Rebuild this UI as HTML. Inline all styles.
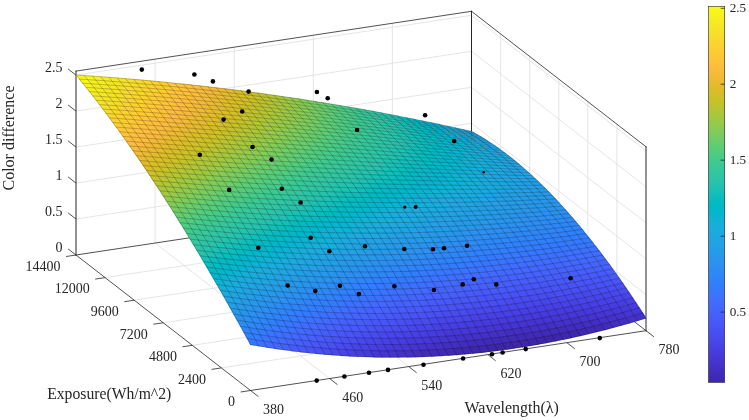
<!DOCTYPE html><html><head><meta charset="utf-8"><style>html,body{margin:0;padding:0;background:#fff;}body{width:749px;height:420px;overflow:hidden;}svg{display:block;will-change:transform;}</style></head><body><svg width="749" height="420" viewBox="0 0 749 420" font-family="'Liberation Serif', serif"><g><line x1="155.1" y1="243" x2="155.1" y2="59.1" stroke="#dedede" stroke-width="0.8"/><line x1="329.6" y1="378.5" x2="155.1" y2="243" stroke="#dedede" stroke-width="0.8"/><line x1="234.2" y1="231.1" x2="234.2" y2="47.2" stroke="#dedede" stroke-width="0.8"/><line x1="408.7" y1="366.6" x2="234.2" y2="231.1" stroke="#dedede" stroke-width="0.8"/><line x1="313.3" y1="219.1" x2="313.3" y2="35.2" stroke="#dedede" stroke-width="0.8"/><line x1="487.8" y1="354.6" x2="313.3" y2="219.1" stroke="#dedede" stroke-width="0.8"/><line x1="392.4" y1="207.2" x2="392.4" y2="23.3" stroke="#dedede" stroke-width="0.8"/><line x1="566.9" y1="342.7" x2="392.4" y2="207.2" stroke="#dedede" stroke-width="0.8"/><line x1="76" y1="219" x2="471.5" y2="159.2" stroke="#dedede" stroke-width="0.8"/><line x1="471.5" y1="159.2" x2="646" y2="294.7" stroke="#dedede" stroke-width="0.8"/><line x1="76" y1="183.1" x2="471.5" y2="123.2" stroke="#dedede" stroke-width="0.8"/><line x1="471.5" y1="123.2" x2="646" y2="258.8" stroke="#dedede" stroke-width="0.8"/><line x1="76" y1="147.1" x2="471.5" y2="87.3" stroke="#dedede" stroke-width="0.8"/><line x1="471.5" y1="87.3" x2="646" y2="222.8" stroke="#dedede" stroke-width="0.8"/><line x1="76" y1="111.1" x2="471.5" y2="51.3" stroke="#dedede" stroke-width="0.8"/><line x1="471.5" y1="51.3" x2="646" y2="186.8" stroke="#dedede" stroke-width="0.8"/><line x1="76" y1="75.1" x2="471.5" y2="15.3" stroke="#dedede" stroke-width="0.8"/><line x1="471.5" y1="15.3" x2="646" y2="150.8" stroke="#dedede" stroke-width="0.8"/><line x1="616.9" y1="308.1" x2="616.9" y2="124.2" stroke="#dedede" stroke-width="0.8"/><line x1="221.4" y1="367.9" x2="616.9" y2="308.1" stroke="#dedede" stroke-width="0.8"/><line x1="587.8" y1="285.5" x2="587.8" y2="101.6" stroke="#dedede" stroke-width="0.8"/><line x1="192.3" y1="345.3" x2="587.8" y2="285.5" stroke="#dedede" stroke-width="0.8"/><line x1="558.8" y1="262.9" x2="558.8" y2="79" stroke="#dedede" stroke-width="0.8"/><line x1="163.2" y1="322.8" x2="558.8" y2="262.9" stroke="#dedede" stroke-width="0.8"/><line x1="529.7" y1="240.4" x2="529.7" y2="56.5" stroke="#dedede" stroke-width="0.8"/><line x1="134.2" y1="300.2" x2="529.7" y2="240.4" stroke="#dedede" stroke-width="0.8"/><line x1="500.6" y1="217.8" x2="500.6" y2="33.9" stroke="#dedede" stroke-width="0.8"/><line x1="105.1" y1="277.6" x2="500.6" y2="217.8" stroke="#dedede" stroke-width="0.8"/></g><g stroke-linecap="square"><line x1="250.5" y1="390.5" x2="646" y2="330.7" stroke="#262626" stroke-width="0.8"/><line x1="646" y1="330.7" x2="471.5" y2="195.2" stroke="#262626" stroke-width="0.8"/><line x1="471.5" y1="195.2" x2="76" y2="255" stroke="#262626" stroke-width="0.8"/><line x1="76" y1="255" x2="250.5" y2="390.5" stroke="#262626" stroke-width="0.8"/><line x1="76" y1="255" x2="76" y2="71.1" stroke="#262626" stroke-width="1.0"/><line x1="471.5" y1="195.2" x2="471.5" y2="11.3" stroke="#262626" stroke-width="1.0"/><line x1="646" y1="330.7" x2="646" y2="146.8" stroke="#262626" stroke-width="1.0"/><line x1="76" y1="71.1" x2="471.5" y2="11.3" stroke="#262626" stroke-width="0.8"/><line x1="471.5" y1="11.3" x2="646" y2="146.8" stroke="#262626" stroke-width="0.8"/></g><g><line x1="250.5" y1="390.5" x2="258.4" y2="396.6" stroke="#262626" stroke-width="0.8"/><line x1="329.6" y1="378.5" x2="337.5" y2="384.7" stroke="#262626" stroke-width="0.8"/><line x1="408.7" y1="366.6" x2="416.6" y2="372.7" stroke="#262626" stroke-width="0.8"/><line x1="487.8" y1="354.6" x2="495.7" y2="360.8" stroke="#262626" stroke-width="0.8"/><line x1="566.9" y1="342.7" x2="574.8" y2="348.8" stroke="#262626" stroke-width="0.8"/><line x1="646" y1="330.7" x2="653.9" y2="336.8" stroke="#262626" stroke-width="0.8"/><line x1="250.5" y1="390.5" x2="240.6" y2="392" stroke="#262626" stroke-width="0.8"/><line x1="221.4" y1="367.9" x2="211.5" y2="369.4" stroke="#262626" stroke-width="0.8"/><line x1="192.3" y1="345.3" x2="182.4" y2="346.8" stroke="#262626" stroke-width="0.8"/><line x1="163.2" y1="322.8" x2="153.4" y2="324.2" stroke="#262626" stroke-width="0.8"/><line x1="134.2" y1="300.2" x2="124.3" y2="301.7" stroke="#262626" stroke-width="0.8"/><line x1="105.1" y1="277.6" x2="95.2" y2="279.1" stroke="#262626" stroke-width="0.8"/><line x1="76" y1="255" x2="66.1" y2="256.5" stroke="#262626" stroke-width="0.8"/><line x1="76" y1="255" x2="68.1" y2="248.9" stroke="#262626" stroke-width="0.8"/><line x1="76" y1="219" x2="68.1" y2="212.9" stroke="#262626" stroke-width="0.8"/><line x1="76" y1="183.1" x2="68.1" y2="176.9" stroke="#262626" stroke-width="0.8"/><line x1="76" y1="147.1" x2="68.1" y2="140.9" stroke="#262626" stroke-width="0.8"/><line x1="76" y1="111.1" x2="68.1" y2="105" stroke="#262626" stroke-width="0.8"/><line x1="76" y1="75.1" x2="68.1" y2="69" stroke="#262626" stroke-width="0.8"/></g><g stroke="none"><path d="M79 79.3 88 79.8 84.6 75.2 75.6 74.8Z" fill="#f8f818"/><path d="M87.2 79.9 96.3 80.3 92.8 75.8 83.8 75.3Z" fill="#f7f51b"/><path d="M95.5 80.4 104.5 80.9 101.1 76.4 92.1 75.9Z" fill="#f6f11f"/><path d="M103.7 81 112.7 81.5 109.3 77 100.3 76.5Z" fill="#f5ee21"/><path d="M111.9 81.6 121 82.2 117.6 77.7 108.5 77.1Z" fill="#f5e924"/><path d="M120.2 82.3 129.2 82.8 125.8 78.3 116.8 77.7Z" fill="#f5e526"/><path d="M128.4 82.9 137.4 83.5 134 79 125 78.4Z" fill="#f6e028"/><path d="M136.7 83.6 145.7 84.2 142.3 79.7 133.3 79.1Z" fill="#f7dd2a"/><path d="M144.9 84.3 153.9 85 150.5 80.5 141.5 79.8Z" fill="#f9d82c"/><path d="M153.1 85 162.2 85.7 158.8 81.3 149.7 80.6Z" fill="#fbd32e"/><path d="M161.4 85.8 170.4 86.5 167 82.1 158 81.4Z" fill="#fdce31"/><path d="M169.6 86.6 178.6 87.3 175.3 82.9 166.2 82.2Z" fill="#feca33"/><path d="M177.9 87.4 186.9 88.1 183.5 83.8 174.5 83Z" fill="#fec537"/><path d="M186.1 88.2 195.1 89 191.7 84.6 182.7 83.8Z" fill="#fec13a"/><path d="M194.3 89.1 203.4 89.9 200 85.6 190.9 84.7Z" fill="#febd3d"/><path d="M202.6 89.9 211.6 90.8 208.2 86.5 199.2 85.6Z" fill="#f9ba3e"/><path d="M210.8 90.8 219.8 91.7 216.5 87.5 207.4 86.6Z" fill="#f3ba39"/><path d="M219 91.8 228.1 92.7 224.7 88.5 215.7 87.5Z" fill="#ecba32"/><path d="M227.3 92.7 236.3 93.7 232.9 89.5 223.9 88.5Z" fill="#e6bb2d"/><path d="M235.5 93.7 244.6 94.7 241.2 90.5 232.1 89.5Z" fill="#dbbd28"/><path d="M243.8 94.7 252.8 95.7 249.4 91.6 240.4 90.6Z" fill="#d3bf27"/><path d="M252 95.7 261 96.8 257.7 92.7 248.6 91.6Z" fill="#cbc128"/><path d="M260.2 96.8 269.3 97.8 265.9 93.8 256.9 92.7Z" fill="#c2c32c"/><path d="M268.5 97.9 277.5 98.9 274.2 95 265.1 93.9Z" fill="#b5c533"/><path d="M276.7 99 285.8 100.1 282.4 96.2 273.3 95Z" fill="#abc739"/><path d="M284.9 100.1 294 101.2 290.6 97.4 281.6 96.2Z" fill="#9dc943"/><path d="M293.2 101.3 302.2 102.4 298.9 98.6 289.8 97.4Z" fill="#93ca4b"/><path d="M301.4 102.4 310.5 103.6 307.1 99.9 298.1 98.6Z" fill="#84cc56"/><path d="M309.7 103.6 318.7 104.9 315.4 101.2 306.3 99.9Z" fill="#79cc5e"/><path d="M317.9 104.9 327 106.1 323.6 102.5 314.5 101.2Z" fill="#6bcd69"/><path d="M326.1 106.1 335.2 107.4 331.8 103.9 322.8 102.5Z" fill="#61cd72"/><path d="M334.4 107.4 343.4 108.7 340.1 105.3 331 103.9Z" fill="#54cc7c"/><path d="M342.6 108.7 351.7 110.1 348.3 106.7 339.2 105.3Z" fill="#48cb86"/><path d="M350.8 110 359.9 111.4 356.6 108.1 347.5 106.7Z" fill="#40ca8d"/><path d="M359.1 111.4 368.2 112.8 364.8 109.6 355.7 108.1Z" fill="#38c896"/><path d="M367.3 112.8 376.4 114.2 373.1 111.1 364 109.6Z" fill="#32c69f"/><path d="M375.5 114.2 384.6 115.7 381.3 112.6 372.2 111.1Z" fill="#2cc4a6"/><path d="M383.8 115.6 392.9 117.2 389.5 114.2 380.4 112.6Z" fill="#25c2ae"/><path d="M392 117.1 401.1 118.6 397.8 115.8 388.7 114.1Z" fill="#1ac0b5"/><path d="M400.3 118.6 409.4 120.2 406 117.4 396.9 115.7Z" fill="#10beba"/><path d="M408.5 120.1 417.6 121.7 414.3 119 405.2 117.3Z" fill="#04bbc1"/><path d="M416.7 121.7 425.8 123.3 422.5 120.7 413.4 118.9Z" fill="#00b9c7"/><path d="M425 123.2 434.1 124.9 430.7 122.4 421.6 120.6Z" fill="#06b5cf"/><path d="M433.2 124.8 442.3 126.5 439 124.1 429.9 122.3Z" fill="#10b2d5"/><path d="M441.4 126.4 450.6 128.2 447.2 125.9 438.1 124Z" fill="#17aeda"/><path d="M449.7 128.1 458.8 129.9 455.5 127.7 446.4 125.8Z" fill="#1caadf"/><path d="M457.9 129.8 467 131.6 463.7 129.5 454.6 127.6Z" fill="#1fa6e2"/><path d="M466.2 131.5 475.3 133.3 471.9 131.3 462.8 129.4Z" fill="#23a0e5"/><path d="M82.3 83.5 91.4 83.9 88 79.3 78.9 78.9Z" fill="#f7f51b"/><path d="M90.6 84 99.6 84.5 96.2 79.9 87.2 79.4Z" fill="#f6f21e"/><path d="M98.8 84.6 107.8 85.1 104.4 80.5 95.4 80Z" fill="#f5ee21"/><path d="M107.1 85.2 116.1 85.7 112.7 81.1 103.7 80.6Z" fill="#f5e924"/><path d="M115.3 85.8 124.3 86.3 120.9 81.7 111.9 81.2Z" fill="#f5e626"/><path d="M123.5 86.4 132.6 87 129.2 82.4 120.1 81.8Z" fill="#f5e128"/><path d="M131.8 87 140.8 87.6 137.4 83.1 128.4 82.5Z" fill="#f7dd2a"/><path d="M140 87.7 149 88.3 145.6 83.8 136.6 83.2Z" fill="#f9d82c"/><path d="M148.3 88.4 157.3 89.1 153.9 84.5 144.9 83.9Z" fill="#fad52e"/><path d="M156.5 89.1 165.5 89.8 162.1 85.3 153.1 84.6Z" fill="#fcd030"/><path d="M164.7 89.9 173.8 90.6 170.4 86.1 161.3 85.4Z" fill="#fdcb32"/><path d="M173 90.6 182 91.4 178.6 86.9 169.6 86.2Z" fill="#fec735"/><path d="M181.2 91.4 190.2 92.2 186.8 87.7 177.8 87Z" fill="#fec239"/><path d="M189.4 92.2 198.5 93 195.1 88.6 186.1 87.8Z" fill="#febe3c"/><path d="M197.7 93.1 206.7 93.9 203.3 89.5 194.3 88.7Z" fill="#fbbb3e"/><path d="M205.9 93.9 215 94.7 211.6 90.4 202.5 89.5Z" fill="#f5ba3b"/><path d="M214.2 94.8 223.2 95.6 219.8 91.3 210.8 90.4Z" fill="#efba35"/><path d="M222.4 95.7 231.4 96.6 228.1 92.3 219 91.4Z" fill="#e8bb2e"/><path d="M230.6 96.6 239.7 97.5 236.3 93.3 227.3 92.3Z" fill="#e1bc2a"/><path d="M238.9 97.6 247.9 98.5 244.5 94.3 235.5 93.3Z" fill="#d9be28"/><path d="M247.1 98.5 256.2 99.5 252.8 95.3 243.7 94.3Z" fill="#cec027"/><path d="M255.4 99.5 264.4 100.5 261 96.4 252 95.4Z" fill="#c5c22a"/><path d="M263.6 100.5 272.6 101.5 269.3 97.4 260.2 96.4Z" fill="#bbc42f"/><path d="M271.8 101.6 280.9 102.6 277.5 98.6 268.5 97.5Z" fill="#b2c635"/><path d="M280.1 102.6 289.1 103.7 285.7 99.7 276.7 98.6Z" fill="#a4c83e"/><path d="M288.3 103.7 297.4 104.8 294 100.9 284.9 99.7Z" fill="#9ac946"/><path d="M296.5 104.8 305.6 105.9 302.2 102.1 293.2 100.9Z" fill="#8fcb4e"/><path d="M304.8 105.9 313.8 107.1 310.5 103.3 301.4 102.1Z" fill="#81cc59"/><path d="M313 107.1 322.1 108.2 318.7 104.5 309.6 103.3Z" fill="#76cc61"/><path d="M321.2 108.3 330.3 109.4 327 105.8 317.9 104.5Z" fill="#67cd6c"/><path d="M329.5 109.5 338.6 110.7 335.2 107.1 326.1 105.8Z" fill="#5ecd74"/><path d="M337.7 110.7 346.8 111.9 343.4 108.4 334.4 107.1Z" fill="#51cc7f"/><path d="M346 111.9 355 113.2 351.7 109.7 342.6 108.4Z" fill="#48cb86"/><path d="M354.2 113.2 363.3 114.5 359.9 111.1 350.8 109.7Z" fill="#3dca90"/><path d="M362.4 114.5 371.5 115.8 368.2 112.5 359.1 111.1Z" fill="#36c899"/><path d="M370.7 115.8 379.8 117.2 376.4 113.9 367.3 112.5Z" fill="#32c69f"/><path d="M378.9 117.2 388 118.5 384.7 115.4 375.6 113.9Z" fill="#2cc4a6"/><path d="M387.1 118.5 396.2 119.9 392.9 116.9 383.8 115.4Z" fill="#25c2ae"/><path d="M395.4 119.9 404.5 121.4 401.1 118.4 392 116.8Z" fill="#1ac0b5"/><path d="M403.6 121.3 412.7 122.8 409.4 119.9 400.3 118.3Z" fill="#0dbdbc"/><path d="M411.9 122.8 421 124.3 417.6 121.5 408.5 119.9Z" fill="#02bbc2"/><path d="M420.1 124.2 429.2 125.8 425.9 123.1 416.8 121.4Z" fill="#00b9c7"/><path d="M428.3 125.7 437.4 127.3 434.1 124.7 425 123Z" fill="#04b6ce"/><path d="M436.6 127.2 445.7 128.8 442.3 126.3 433.2 124.6Z" fill="#0eb3d4"/><path d="M444.8 128.8 453.9 130.4 450.6 128 441.5 126.3Z" fill="#16afd9"/><path d="M453 130.3 462.2 132 458.8 129.7 449.7 127.9Z" fill="#1babde"/><path d="M461.3 131.9 470.4 133.6 467.1 131.4 457.9 129.6Z" fill="#1fa6e2"/><path d="M469.5 133.5 478.6 135.3 475.3 133.2 466.2 131.3Z" fill="#23a1e4"/><path d="M85.7 87.6 94.7 88.1 91.3 83.5 82.3 83Z" fill="#f6f21e"/><path d="M93.9 88.2 103 88.7 99.6 84 90.5 83.6Z" fill="#f5ee21"/><path d="M102.2 88.8 111.2 89.2 107.8 84.6 98.8 84.1Z" fill="#f5eb23"/><path d="M110.4 89.3 119.4 89.9 116 85.2 107 84.7Z" fill="#f5e626"/><path d="M118.7 89.9 127.7 90.5 124.3 85.9 115.3 85.3Z" fill="#f5e128"/><path d="M126.9 90.6 135.9 91.1 132.5 86.5 123.5 86Z" fill="#f6de29"/><path d="M135.1 91.2 144.2 91.8 140.8 87.2 131.7 86.6Z" fill="#f8d92b"/><path d="M143.4 91.9 152.4 92.5 149 87.9 140 87.3Z" fill="#fad52e"/><path d="M151.6 92.6 160.6 93.2 157.2 88.6 148.2 88Z" fill="#fcd030"/><path d="M159.9 93.3 168.9 93.9 165.5 89.4 156.5 88.7Z" fill="#fdcd31"/><path d="M168.1 94 177.1 94.7 173.7 90.1 164.7 89.5Z" fill="#fec834"/><path d="M176.3 94.8 185.4 95.5 182 90.9 172.9 90.2Z" fill="#fec438"/><path d="M184.6 95.5 193.6 96.2 190.2 91.7 181.2 91Z" fill="#fec03b"/><path d="M192.8 96.3 201.8 97.1 198.4 92.6 189.4 91.8Z" fill="#fcbc3e"/><path d="M201 97.1 210.1 97.9 206.7 93.4 197.7 92.7Z" fill="#f7ba3d"/><path d="M209.3 98 218.3 98.7 214.9 94.3 205.9 93.5Z" fill="#f1ba37"/><path d="M217.5 98.8 226.6 99.6 223.2 95.2 214.1 94.4Z" fill="#eaba30"/><path d="M225.8 99.7 234.8 100.5 231.4 96.1 222.4 95.3Z" fill="#e3bc2b"/><path d="M234 100.6 243 101.4 239.6 97.1 230.6 96.2Z" fill="#dbbd28"/><path d="M242.2 101.5 251.3 102.3 247.9 98.1 238.8 97.2Z" fill="#d3bf27"/><path d="M250.5 102.4 259.5 103.3 256.1 99.1 247.1 98.1Z" fill="#cbc128"/><path d="M258.7 103.4 267.8 104.3 264.4 100.1 255.3 99.1Z" fill="#bec32d"/><path d="M266.9 104.3 276 105.3 272.6 101.1 263.6 100.1Z" fill="#b5c533"/><path d="M275.2 105.3 284.2 106.3 280.9 102.2 271.8 101.2Z" fill="#abc739"/><path d="M283.4 106.3 292.5 107.3 289.1 103.3 280 102.2Z" fill="#a1c840"/><path d="M291.7 107.4 300.7 108.4 297.3 104.4 288.3 103.3Z" fill="#96ca48"/><path d="M299.9 108.4 309 109.5 305.6 105.5 296.5 104.4Z" fill="#88cb53"/><path d="M308.1 109.5 317.2 110.6 313.8 106.7 304.8 105.6Z" fill="#7dcc5b"/><path d="M316.4 110.6 325.4 111.7 322.1 107.9 313 106.7Z" fill="#6ecd66"/><path d="M324.6 111.7 333.7 112.8 330.3 109.1 321.2 107.9Z" fill="#64cd6f"/><path d="M332.8 112.9 341.9 114 338.6 110.3 329.5 109.1Z" fill="#5acc77"/><path d="M341.1 114 350.2 115.2 346.8 111.6 337.7 110.3Z" fill="#4ecc81"/><path d="M349.3 115.2 358.4 116.4 355 112.9 346 111.6Z" fill="#45cb89"/><path d="M357.6 116.4 366.6 117.6 363.3 114.2 354.2 112.9Z" fill="#3bc992"/><path d="M365.8 117.6 374.9 118.9 371.5 115.5 362.4 114.2Z" fill="#35c79b"/><path d="M374 118.9 383.1 120.2 379.8 116.9 370.7 115.5Z" fill="#31c5a1"/><path d="M382.3 120.2 391.4 121.5 388 118.2 378.9 116.9Z" fill="#2bc3a8"/><path d="M390.5 121.5 399.6 122.8 396.2 119.7 387.2 118.2Z" fill="#25c2ae"/><path d="M398.7 122.8 407.8 124.1 404.5 121.1 395.4 119.6Z" fill="#1ac0b5"/><path d="M407 124.1 416.1 125.5 412.7 122.5 403.6 121.1Z" fill="#0dbdbc"/><path d="M415.2 125.5 424.3 126.9 421 124 411.9 122.5Z" fill="#02bbc2"/><path d="M423.5 126.9 432.6 128.3 429.2 125.5 420.1 124Z" fill="#00b9c7"/><path d="M431.7 128.3 440.8 129.7 437.5 127.1 428.3 125.5Z" fill="#04b6ce"/><path d="M439.9 129.7 449 131.2 445.7 128.6 436.6 127Z" fill="#0eb3d4"/><path d="M448.2 131.1 457.3 132.7 453.9 130.2 444.8 128.5Z" fill="#16afd9"/><path d="M456.4 132.6 465.5 134.2 462.2 131.8 453.1 130.1Z" fill="#1babde"/><path d="M464.6 134.1 473.8 135.7 470.4 133.4 461.3 131.7Z" fill="#1ea7e1"/><path d="M472.9 135.6 482 137.3 478.7 135.1 469.5 133.3Z" fill="#22a2e4"/><path d="M89.1 91.9 98.1 92.3 94.7 87.6 85.7 87.2Z" fill="#f6ef20"/><path d="M97.3 92.4 106.3 92.9 102.9 88.2 93.9 87.7Z" fill="#f5eb23"/><path d="M105.5 93 114.6 93.5 111.1 88.8 102.1 88.3Z" fill="#f5e626"/><path d="M113.8 93.6 122.8 94.1 119.4 89.4 110.4 88.9Z" fill="#f5e327"/><path d="M122 94.2 131 94.7 127.6 90 118.6 89.5Z" fill="#f6de29"/><path d="M130.3 94.8 139.3 95.4 135.9 90.7 126.9 90.1Z" fill="#f8d92b"/><path d="M138.5 95.5 147.5 96 144.1 91.4 135.1 90.8Z" fill="#f9d62d"/><path d="M146.7 96.1 155.8 96.7 152.3 92.1 143.3 91.5Z" fill="#fbd22f"/><path d="M155 96.8 164 97.4 160.6 92.8 151.6 92.1Z" fill="#fdcd31"/><path d="M163.2 97.5 172.2 98.1 168.8 93.5 159.8 92.9Z" fill="#fec834"/><path d="M171.5 98.2 180.5 98.9 177.1 94.2 168 93.6Z" fill="#fec438"/><path d="M179.7 98.9 188.7 99.6 185.3 95 176.3 94.3Z" fill="#fec13a"/><path d="M187.9 99.7 197 100.4 193.6 95.8 184.5 95.1Z" fill="#febd3d"/><path d="M196.2 100.4 205.2 101.2 201.8 96.6 192.8 95.9Z" fill="#f9ba3e"/><path d="M204.4 101.2 213.4 102 210 97.5 201 96.7Z" fill="#f3ba39"/><path d="M212.6 102 221.7 102.8 218.3 98.3 209.2 97.5Z" fill="#ecba32"/><path d="M220.9 102.9 229.9 103.6 226.5 99.2 217.5 98.4Z" fill="#e6bb2d"/><path d="M229.1 103.7 238.2 104.5 234.8 100.1 225.7 99.3Z" fill="#debc29"/><path d="M237.4 104.6 246.4 105.4 243 101 234 100.1Z" fill="#d6be27"/><path d="M245.6 105.4 254.6 106.3 251.2 101.9 242.2 101.1Z" fill="#cec027"/><path d="M253.8 106.3 262.9 107.2 259.5 102.9 250.4 102Z" fill="#c5c22a"/><path d="M262.1 107.2 271.1 108.1 267.7 103.9 258.7 103Z" fill="#bbc42f"/><path d="M270.3 108.2 279.3 109.1 276 104.9 266.9 103.9Z" fill="#b2c635"/><path d="M278.5 109.1 287.6 110.1 284.2 105.9 275.2 104.9Z" fill="#a4c83e"/><path d="M286.8 110.1 295.8 111 292.5 106.9 283.4 105.9Z" fill="#9ac946"/><path d="M295 111.1 304.1 112.1 300.7 108 291.6 107Z" fill="#8fcb4e"/><path d="M303.3 112.1 312.3 113.1 308.9 109.1 299.9 108Z" fill="#84cc56"/><path d="M311.5 113.1 320.5 114.1 317.2 110.2 308.1 109.1Z" fill="#76cc61"/><path d="M319.7 114.2 328.8 115.2 325.4 111.3 316.4 110.2Z" fill="#6bcd69"/><path d="M328 115.2 337 116.3 333.7 112.5 324.6 111.4Z" fill="#61cd72"/><path d="M336.2 116.3 345.3 117.4 341.9 113.7 332.8 112.5Z" fill="#54cc7c"/><path d="M344.4 117.4 353.5 118.5 350.1 114.9 341.1 113.7Z" fill="#4bcb84"/><path d="M352.7 118.6 361.7 119.7 358.4 116.1 349.3 114.9Z" fill="#42ca8b"/><path d="M360.9 119.7 370 120.8 366.6 117.3 357.6 116.1Z" fill="#39c994"/><path d="M369.2 120.9 378.2 122 374.9 118.6 365.8 117.3Z" fill="#35c79b"/><path d="M377.4 122 386.5 123.2 383.1 119.9 374 118.6Z" fill="#2fc5a3"/><path d="M385.6 123.2 394.7 124.5 391.4 121.2 382.3 119.9Z" fill="#2bc3a8"/><path d="M393.9 124.5 403 125.7 399.6 122.5 390.5 121.2Z" fill="#23c1af"/><path d="M402.1 125.7 411.2 127 407.8 123.9 398.7 122.5Z" fill="#17bfb6"/><path d="M410.3 127 419.4 128.3 416.1 125.2 407 123.8Z" fill="#0dbdbc"/><path d="M418.6 128.3 427.7 129.6 424.3 126.6 415.2 125.2Z" fill="#02bbc2"/><path d="M426.8 129.6 435.9 130.9 432.6 128.1 423.5 126.6Z" fill="#00b8c9"/><path d="M435 130.9 444.2 132.3 440.8 129.5 431.7 128Z" fill="#04b6ce"/><path d="M443.3 132.2 452.4 133.6 449 131 439.9 129.5Z" fill="#0eb3d4"/><path d="M451.5 133.6 460.6 135 457.3 132.5 448.2 130.9Z" fill="#16afd9"/><path d="M459.8 135 468.9 136.4 465.5 134 456.4 132.4Z" fill="#1babde"/><path d="M468 136.4 477.1 137.9 473.8 135.5 464.7 133.9Z" fill="#1da8e1"/><path d="M476.2 137.8 485.4 139.3 482 137.1 472.9 135.4Z" fill="#21a3e3"/><path d="M92.4 96.1 101.4 96.6 98 91.9 89 91.4Z" fill="#f5eb23"/><path d="M100.7 96.7 109.7 97.2 106.3 92.4 97.2 92Z" fill="#f5e825"/><path d="M108.9 97.3 117.9 97.8 114.5 93 105.5 92.5Z" fill="#f5e327"/><path d="M117.1 97.9 126.2 98.4 122.7 93.6 113.7 93.1Z" fill="#f6de29"/><path d="M125.4 98.5 134.4 99 131 94.3 122 93.7Z" fill="#f7db2a"/><path d="M133.6 99.1 142.6 99.6 139.2 94.9 130.2 94.4Z" fill="#f9d62d"/><path d="M141.9 99.7 150.9 100.3 147.5 95.6 138.4 95Z" fill="#fbd22f"/><path d="M150.1 100.4 159.1 101 155.7 96.3 146.7 95.7Z" fill="#fdcd31"/><path d="M158.3 101.1 167.3 101.7 163.9 97 154.9 96.4Z" fill="#feca33"/><path d="M166.6 101.7 175.6 102.4 172.2 97.7 163.2 97.1Z" fill="#fec537"/><path d="M174.8 102.4 183.8 103.1 180.4 98.4 171.4 97.8Z" fill="#fec13a"/><path d="M183 103.2 192.1 103.8 188.7 99.2 179.6 98.5Z" fill="#febd3d"/><path d="M191.3 103.9 200.3 104.6 196.9 99.9 187.9 99.2Z" fill="#f9ba3e"/><path d="M199.5 104.6 208.5 105.3 205.1 100.7 196.1 100Z" fill="#f5ba3b"/><path d="M207.8 105.4 216.8 106.1 213.4 101.5 204.4 100.8Z" fill="#efba35"/><path d="M216 106.2 225 106.9 221.6 102.4 212.6 101.6Z" fill="#e8bb2e"/><path d="M224.2 107 233.3 107.7 229.9 103.2 220.8 102.4Z" fill="#e1bc2a"/><path d="M232.5 107.8 241.5 108.5 238.1 104.1 229.1 103.3Z" fill="#d9be28"/><path d="M240.7 108.6 249.7 109.4 246.4 105 237.3 104.1Z" fill="#d0bf27"/><path d="M249 109.5 258 110.3 254.6 105.9 245.6 105Z" fill="#c8c129"/><path d="M257.2 110.3 266.2 111.1 262.8 106.8 253.8 105.9Z" fill="#bec32d"/><path d="M265.4 111.2 274.5 112 271.1 107.7 262 106.8Z" fill="#b5c533"/><path d="M273.7 112.1 282.7 112.9 279.3 108.7 270.3 107.8Z" fill="#abc739"/><path d="M281.9 113 290.9 113.9 287.6 109.7 278.5 108.7Z" fill="#a1c840"/><path d="M290.1 113.9 299.2 114.8 295.8 110.6 286.8 109.7Z" fill="#93ca4b"/><path d="M298.4 114.9 307.4 115.8 304 111.7 295 110.7Z" fill="#88cb53"/><path d="M306.6 115.8 315.7 116.8 312.3 112.7 303.2 111.7Z" fill="#7dcc5b"/><path d="M314.9 116.8 323.9 117.8 320.5 113.8 311.5 112.7Z" fill="#72cd64"/><path d="M323.1 117.8 332.1 118.8 328.8 114.8 319.7 113.8Z" fill="#67cd6c"/><path d="M331.3 118.8 340.4 119.8 337 115.9 328 114.9Z" fill="#5acc77"/><path d="M339.6 119.8 348.6 120.9 345.3 117 336.2 116Z" fill="#51cc7f"/><path d="M347.8 120.9 356.9 121.9 353.5 118.2 344.4 117.1Z" fill="#48cb86"/><path d="M356 122 365.1 123 361.7 119.3 352.7 118.2Z" fill="#3dca90"/><path d="M364.3 123 373.3 124.1 370 120.5 360.9 119.4Z" fill="#38c896"/><path d="M372.5 124.1 381.6 125.2 378.2 121.7 369.1 120.5Z" fill="#33c79d"/><path d="M380.7 125.3 389.8 126.4 386.5 122.9 377.4 121.7Z" fill="#2ec4a5"/><path d="M389 126.4 398.1 127.5 394.7 124.2 385.6 122.9Z" fill="#29c3aa"/><path d="M397.2 127.5 406.3 128.7 403 125.4 393.9 124.2Z" fill="#20c1b1"/><path d="M405.5 128.7 414.5 129.9 411.2 126.7 402.1 125.4Z" fill="#17bfb6"/><path d="M413.7 129.9 422.8 131.1 419.4 128 410.3 126.7Z" fill="#09bdbd"/><path d="M421.9 131.1 431 132.3 427.7 129.3 418.6 128Z" fill="#02bbc2"/><path d="M430.2 132.3 439.3 133.6 435.9 130.6 426.8 129.3Z" fill="#00b8c9"/><path d="M438.4 133.6 447.5 134.9 444.2 132 435.1 130.6Z" fill="#04b6ce"/><path d="M446.6 134.8 455.7 136.1 452.4 133.4 443.3 132Z" fill="#0eb3d4"/><path d="M454.9 136.1 464 137.4 460.6 134.8 451.5 133.4Z" fill="#16afd9"/><path d="M463.1 137.4 472.2 138.8 468.9 136.2 459.8 134.7Z" fill="#1aacdd"/><path d="M471.4 138.7 480.5 140.1 477.1 137.7 468 136.2Z" fill="#1da8e1"/><path d="M479.6 140 488.7 141.5 485.4 139.1 476.3 137.6Z" fill="#21a3e3"/><path d="M95.8 100.5 104.8 100.9 101.4 96.2 92.4 95.7Z" fill="#f5e825"/><path d="M104 101 113 101.5 109.6 96.7 100.6 96.3Z" fill="#f5e327"/><path d="M112.3 101.6 121.3 102.1 117.9 97.3 108.8 96.8Z" fill="#f6de29"/><path d="M120.5 102.2 129.5 102.7 126.1 97.9 117.1 97.4Z" fill="#f7db2a"/><path d="M128.7 102.8 137.7 103.3 134.3 98.6 125.3 98Z" fill="#f9d62d"/><path d="M137 103.4 146 104 142.6 99.2 133.6 98.7Z" fill="#fbd22f"/><path d="M145.2 104.1 154.2 104.6 150.8 99.9 141.8 99.3Z" fill="#fdce31"/><path d="M153.5 104.7 162.5 105.3 159.1 100.5 150 99.9Z" fill="#feca33"/><path d="M161.7 105.4 170.7 106 167.3 101.2 158.3 100.6Z" fill="#fec537"/><path d="M169.9 106 178.9 106.6 175.5 101.9 166.5 101.3Z" fill="#fec13a"/><path d="M178.2 106.7 187.2 107.3 183.8 102.6 174.8 102Z" fill="#febe3c"/><path d="M186.4 107.4 195.4 108.1 192 103.4 183 102.7Z" fill="#fbbb3e"/><path d="M194.6 108.1 203.7 108.8 200.3 104.1 191.2 103.5Z" fill="#f5ba3b"/><path d="M202.9 108.9 211.9 109.5 208.5 104.9 199.5 104.2Z" fill="#efba35"/><path d="M211.1 109.6 220.1 110.3 216.7 105.7 207.7 105Z" fill="#e8bb2e"/><path d="M219.4 110.4 228.4 111.1 225 106.5 216 105.7Z" fill="#e1bc2a"/><path d="M227.6 111.1 236.6 111.9 233.2 107.3 224.2 106.5Z" fill="#dbbd28"/><path d="M235.8 111.9 244.9 112.7 241.5 108.1 232.4 107.4Z" fill="#d3bf27"/><path d="M244.1 112.7 253.1 113.5 249.7 109 240.7 108.2Z" fill="#cbc128"/><path d="M252.3 113.5 261.3 114.3 257.9 109.8 248.9 109Z" fill="#c2c32c"/><path d="M260.5 114.4 269.6 115.1 266.2 110.7 257.2 109.9Z" fill="#b8c431"/><path d="M268.8 115.2 277.8 116 274.4 111.6 265.4 110.8Z" fill="#aec637"/><path d="M277 116.1 286.1 116.9 282.7 112.5 273.6 111.7Z" fill="#a4c83e"/><path d="M285.3 116.9 294.3 117.8 290.9 113.5 281.9 112.6Z" fill="#9ac946"/><path d="M293.5 117.8 302.5 118.7 299.2 114.4 290.1 113.5Z" fill="#8fcb4e"/><path d="M301.7 118.7 310.8 119.6 307.4 115.4 298.4 114.5Z" fill="#81cc59"/><path d="M310 119.6 319 120.5 315.6 116.4 306.6 115.4Z" fill="#76cc61"/><path d="M318.2 120.6 327.3 121.5 323.9 117.4 314.8 116.4Z" fill="#6bcd69"/><path d="M326.4 121.5 335.5 122.4 332.1 118.4 323.1 117.4Z" fill="#61cd72"/><path d="M334.7 122.5 343.7 123.4 340.4 119.4 331.3 118.4Z" fill="#57cc7a"/><path d="M342.9 123.4 352 124.4 348.6 120.5 339.5 119.5Z" fill="#4ecc81"/><path d="M351.2 124.4 360.2 125.4 356.8 121.6 347.8 120.5Z" fill="#42ca8b"/><path d="M359.4 125.4 368.5 126.4 365.1 122.7 356 121.6Z" fill="#3bc992"/><path d="M367.6 126.5 376.7 127.5 373.3 123.8 364.3 122.7Z" fill="#36c899"/><path d="M375.9 127.5 384.9 128.5 381.6 124.9 372.5 123.8Z" fill="#32c69f"/><path d="M384.1 128.5 393.2 129.6 389.8 126 380.7 124.9Z" fill="#2cc4a6"/><path d="M392.3 129.6 401.4 130.7 398.1 127.2 389 126.1Z" fill="#27c2ac"/><path d="M400.6 130.7 409.7 131.8 406.3 128.4 397.2 127.2Z" fill="#20c1b1"/><path d="M408.8 131.8 417.9 132.9 414.5 129.6 405.5 128.4Z" fill="#14beb8"/><path d="M417.1 132.9 426.1 134 422.8 130.8 413.7 129.6Z" fill="#09bdbd"/><path d="M425.3 134 434.4 135.2 431 132.1 421.9 130.8Z" fill="#01bac4"/><path d="M433.5 135.2 442.6 136.3 439.3 133.3 430.2 132Z" fill="#00b8c9"/><path d="M441.8 136.3 450.9 137.5 447.5 134.6 438.4 133.3Z" fill="#06b5cf"/><path d="M450 137.5 459.1 138.7 455.8 135.9 446.7 134.6Z" fill="#0eb3d4"/><path d="M458.2 138.7 467.3 139.9 464 137.2 454.9 135.9Z" fill="#16afd9"/><path d="M466.5 139.9 475.6 141.2 472.2 138.5 463.1 137.2Z" fill="#1aacdd"/><path d="M474.7 141.1 483.8 142.4 480.5 139.9 471.4 138.5Z" fill="#1da8e1"/><path d="M483 142.4 492.1 143.7 488.7 141.3 479.6 139.8Z" fill="#20a5e3"/><path d="M99.1 104.8 108.1 105.3 104.7 100.5 95.7 100Z" fill="#f5e327"/><path d="M107.4 105.4 116.4 105.9 113 101.1 104 100.6Z" fill="#f6e028"/><path d="M115.6 106 124.6 106.5 121.2 101.7 112.2 101.2Z" fill="#f7db2a"/><path d="M123.9 106.6 132.9 107.1 129.4 102.3 120.4 101.8Z" fill="#f9d62d"/><path d="M132.1 107.2 141.1 107.7 137.7 102.9 128.7 102.4Z" fill="#fbd32e"/><path d="M140.3 107.8 149.3 108.3 145.9 103.5 136.9 103Z" fill="#fdce31"/><path d="M148.6 108.4 157.6 109 154.2 104.2 145.2 103.6Z" fill="#feca33"/><path d="M156.8 109.1 165.8 109.6 162.4 104.8 153.4 104.3Z" fill="#fec537"/><path d="M165 109.7 174.1 110.3 170.7 105.5 161.6 104.9Z" fill="#fec239"/><path d="M173.3 110.4 182.3 111 178.9 106.2 169.9 105.6Z" fill="#febe3c"/><path d="M181.5 111.1 190.5 111.7 187.1 106.9 178.1 106.3Z" fill="#fbbb3e"/><path d="M189.8 111.8 198.8 112.4 195.4 107.6 186.4 107Z" fill="#f5ba3b"/><path d="M198 112.5 207 113.1 203.6 108.3 194.6 107.7Z" fill="#f1ba37"/><path d="M206.2 113.2 215.3 113.8 211.9 109.1 202.8 108.4Z" fill="#eaba30"/><path d="M214.5 113.9 223.5 114.5 220.1 109.9 211.1 109.2Z" fill="#e3bc2b"/><path d="M222.7 114.6 231.7 115.3 228.3 110.6 219.3 109.9Z" fill="#dbbd28"/><path d="M231 115.4 240 116 236.6 111.4 227.6 110.7Z" fill="#d3bf27"/><path d="M239.2 116.1 248.2 116.8 244.8 112.2 235.8 111.5Z" fill="#cbc128"/><path d="M247.4 116.9 256.5 117.6 253.1 113 244 112.3Z" fill="#c2c32c"/><path d="M255.7 117.7 264.7 118.4 261.3 113.9 252.3 113.1Z" fill="#bbc42f"/><path d="M263.9 118.5 272.9 119.2 269.5 114.7 260.5 113.9Z" fill="#b2c635"/><path d="M272.1 119.3 281.2 120 277.8 115.6 268.8 114.8Z" fill="#a7c73b"/><path d="M280.4 120.1 289.4 120.9 286 116.5 277 115.6Z" fill="#9dc943"/><path d="M288.6 120.9 297.7 121.7 294.3 117.3 285.2 116.5Z" fill="#93ca4b"/><path d="M296.9 121.8 305.9 122.6 302.5 118.3 293.5 117.4Z" fill="#88cb53"/><path d="M305.1 122.6 314.1 123.4 310.7 119.2 301.7 118.3Z" fill="#7dcc5b"/><path d="M313.3 123.5 322.4 124.3 319 120.1 309.9 119.2Z" fill="#72cd64"/><path d="M321.6 124.4 330.6 125.2 327.2 121.1 318.2 120.2Z" fill="#64cd6f"/><path d="M329.8 125.3 338.9 126.1 335.5 122 326.4 121.1Z" fill="#5acc77"/><path d="M338 126.2 347.1 127 343.7 123 334.7 122.1Z" fill="#51cc7f"/><path d="M346.3 127.1 355.3 128 352 124 342.9 123.1Z" fill="#48cb86"/><path d="M354.5 128 363.6 128.9 360.2 125 351.1 124.1Z" fill="#40ca8d"/><path d="M362.8 129 371.8 129.9 368.4 126.1 359.4 125.1Z" fill="#39c994"/><path d="M371 129.9 380.1 130.9 376.7 127.1 367.6 126.1Z" fill="#35c79b"/><path d="M379.2 130.9 388.3 131.8 384.9 128.2 375.9 127.1Z" fill="#2fc5a3"/><path d="M387.5 131.9 396.5 132.8 393.2 129.2 384.1 128.2Z" fill="#2bc3a8"/><path d="M395.7 132.9 404.8 133.9 401.4 130.3 392.3 129.3Z" fill="#25c2ae"/><path d="M403.9 133.9 413 134.9 409.7 131.4 400.6 130.4Z" fill="#1dc0b3"/><path d="M412.2 134.9 421.3 135.9 417.9 132.6 408.8 131.5Z" fill="#10beba"/><path d="M420.4 136 429.5 137 426.1 133.7 417.1 132.6Z" fill="#06bcbf"/><path d="M428.7 137 437.7 138.1 434.4 134.9 425.3 133.7Z" fill="#01bac4"/><path d="M436.9 138.1 446 139.2 442.6 136 433.5 134.9Z" fill="#01b7ca"/><path d="M445.1 139.2 454.2 140.3 450.9 137.2 441.8 136Z" fill="#06b5cf"/><path d="M453.4 140.2 462.5 141.4 459.1 138.4 450 137.2Z" fill="#0eb3d4"/><path d="M461.6 141.4 470.7 142.5 467.3 139.7 458.2 138.4Z" fill="#16afd9"/><path d="M469.8 142.5 478.9 143.6 475.6 140.9 466.5 139.7Z" fill="#1aacdd"/><path d="M478.1 143.6 487.2 144.8 483.8 142.2 474.7 140.9Z" fill="#1da8e1"/><path d="M486.3 144.8 495.4 146 492.1 143.4 483 142.1Z" fill="#20a5e3"/><path d="M102.5 109.2 111.5 109.7 108.1 104.9 99.1 104.4Z" fill="#f6e028"/><path d="M110.7 109.8 119.7 110.3 116.3 105.4 107.3 105Z" fill="#f7db2a"/><path d="M119 110.4 128 110.9 124.6 106 115.6 105.5Z" fill="#f9d62d"/><path d="M127.2 111 136.2 111.5 132.8 106.6 123.8 106.1Z" fill="#fbd32e"/><path d="M135.4 111.6 144.5 112.1 141 107.3 132 106.7Z" fill="#fdce31"/><path d="M143.7 112.2 152.7 112.8 149.3 107.9 140.3 107.4Z" fill="#feca33"/><path d="M151.9 112.9 160.9 113.4 157.5 108.5 148.5 108Z" fill="#fec735"/><path d="M160.2 113.5 169.2 114.1 165.8 109.2 156.8 108.6Z" fill="#fec239"/><path d="M168.4 114.2 177.4 114.7 174 109.9 165 109.3Z" fill="#febe3c"/><path d="M176.6 114.8 185.7 115.4 182.2 110.5 173.2 109.9Z" fill="#fbbb3e"/><path d="M184.9 115.5 193.9 116 190.5 111.2 181.5 110.6Z" fill="#f7ba3d"/><path d="M193.1 116.1 202.1 116.7 198.7 111.9 189.7 111.3Z" fill="#f1ba37"/><path d="M201.4 116.8 210.4 117.4 207 112.6 198 112Z" fill="#eaba30"/><path d="M209.6 117.5 218.6 118.1 215.2 113.4 206.2 112.7Z" fill="#e3bc2b"/><path d="M217.8 118.2 226.9 118.8 223.4 114.1 214.4 113.4Z" fill="#dbbd28"/><path d="M226.1 118.9 235.1 119.6 231.7 114.8 222.7 114.2Z" fill="#d6be27"/><path d="M234.3 119.6 243.3 120.3 239.9 115.6 230.9 114.9Z" fill="#cec027"/><path d="M242.6 120.4 251.6 121 248.2 116.4 239.2 115.7Z" fill="#c5c22a"/><path d="M250.8 121.1 259.8 121.8 256.4 117.2 247.4 116.5Z" fill="#bbc42f"/><path d="M259 121.9 268.1 122.5 264.7 118 255.6 117.2Z" fill="#b2c635"/><path d="M267.3 122.6 276.3 123.3 272.9 118.8 263.9 118Z" fill="#a7c73b"/><path d="M275.5 123.4 284.5 124.1 281.1 119.6 272.1 118.8Z" fill="#9dc943"/><path d="M283.7 124.2 292.8 124.9 289.4 120.4 280.3 119.7Z" fill="#96ca48"/><path d="M292 125 301 125.7 297.6 121.3 288.6 120.5Z" fill="#8bcb51"/><path d="M300.2 125.8 309.3 126.5 305.9 122.1 296.8 121.4Z" fill="#81cc59"/><path d="M308.5 126.6 317.5 127.3 314.1 123 305.1 122.2Z" fill="#76cc61"/><path d="M316.7 127.4 325.7 128.2 322.3 123.9 313.3 123.1Z" fill="#6bcd69"/><path d="M324.9 128.2 334 129 330.6 124.8 321.5 124Z" fill="#61cd72"/><path d="M333.2 129.1 342.2 129.9 338.8 125.7 329.8 124.9Z" fill="#57cc7a"/><path d="M341.4 129.9 350.5 130.7 347.1 126.6 338 125.8Z" fill="#4ecc81"/><path d="M349.6 130.8 358.7 131.6 355.3 127.6 346.3 126.7Z" fill="#45cb89"/><path d="M357.9 131.7 366.9 132.5 363.6 128.5 354.5 127.6Z" fill="#3bc992"/><path d="M366.1 132.6 375.2 133.4 371.8 129.5 362.7 128.6Z" fill="#36c899"/><path d="M374.4 133.5 383.4 134.3 380 130.5 371 129.6Z" fill="#32c69f"/><path d="M382.6 134.4 391.7 135.2 388.3 131.5 379.2 130.5Z" fill="#2ec4a5"/><path d="M390.8 135.3 399.9 136.2 396.5 132.5 387.5 131.5Z" fill="#29c3aa"/><path d="M399.1 136.2 408.1 137.1 404.8 133.5 395.7 132.5Z" fill="#23c1af"/><path d="M407.3 137.2 416.4 138.1 413 134.6 403.9 133.6Z" fill="#1ac0b5"/><path d="M415.5 138.1 424.6 139.1 421.2 135.6 412.2 134.6Z" fill="#10beba"/><path d="M423.8 139.1 432.9 140 429.5 136.7 420.4 135.6Z" fill="#04bbc1"/><path d="M432 140.1 441.1 141 437.7 137.8 428.6 136.7Z" fill="#00bac6"/><path d="M440.3 141 449.3 142 446 138.8 436.9 137.8Z" fill="#01b7ca"/><path d="M448.5 142 457.6 143.1 454.2 140 445.1 138.9Z" fill="#06b5cf"/><path d="M456.7 143.1 465.8 144.1 462.5 141.1 453.4 140Z" fill="#10b2d5"/><path d="M465 144.1 474.1 145.1 470.7 142.2 461.6 141.1Z" fill="#16afd9"/><path d="M473.2 145.1 482.3 146.2 478.9 143.4 469.8 142.2Z" fill="#1aacdd"/><path d="M481.4 146.2 490.5 147.2 487.2 144.5 478.1 143.4Z" fill="#1da9e0"/><path d="M489.7 147.2 498.8 148.3 495.4 145.7 486.3 144.5Z" fill="#20a5e3"/><path d="M105.8 113.7 114.9 114.2 111.4 109.3 102.4 108.8Z" fill="#f7db2a"/><path d="M114.1 114.3 123.1 114.8 119.7 109.9 110.7 109.4Z" fill="#f9d62d"/><path d="M122.3 114.9 131.3 115.4 127.9 110.5 118.9 110Z" fill="#fbd32e"/><path d="M130.6 115.5 139.6 116 136.2 111.1 127.2 110.6Z" fill="#fdce31"/><path d="M138.8 116.1 147.8 116.6 144.4 111.7 135.4 111.2Z" fill="#feca33"/><path d="M147 116.7 156.1 117.3 152.6 112.3 143.6 111.8Z" fill="#fec735"/><path d="M155.3 117.3 164.3 117.9 160.9 113 151.9 112.4Z" fill="#fec239"/><path d="M163.5 118 172.5 118.5 169.1 113.6 160.1 113.1Z" fill="#febe3c"/><path d="M171.8 118.6 180.8 119.2 177.4 114.3 168.4 113.7Z" fill="#fbbb3e"/><path d="M180 119.3 189 119.8 185.6 114.9 176.6 114.4Z" fill="#f7ba3d"/><path d="M188.2 119.9 197.2 120.5 193.8 115.6 184.8 115Z" fill="#f1ba37"/><path d="M196.5 120.6 205.5 121.1 202.1 116.3 193.1 115.7Z" fill="#eaba30"/><path d="M204.7 121.2 213.7 121.8 210.3 117 201.3 116.4Z" fill="#e3bc2b"/><path d="M213 121.9 222 122.5 218.6 117.7 209.5 117.1Z" fill="#debc29"/><path d="M221.2 122.6 230.2 123.2 226.8 118.4 217.8 117.8Z" fill="#d6be27"/><path d="M229.4 123.3 238.4 123.9 235 119.1 226 118.5Z" fill="#cec027"/><path d="M237.7 124 246.7 124.6 243.3 119.8 234.3 119.2Z" fill="#c5c22a"/><path d="M245.9 124.7 254.9 125.3 251.5 120.6 242.5 119.9Z" fill="#bec32d"/><path d="M254.1 125.4 263.2 126 259.8 121.3 250.7 120.7Z" fill="#b5c533"/><path d="M262.4 126.1 271.4 126.8 268 122.1 259 121.4Z" fill="#abc739"/><path d="M270.6 126.8 279.6 127.5 276.2 122.9 267.2 122.2Z" fill="#a1c840"/><path d="M278.9 127.6 287.9 128.2 284.5 123.7 275.5 123Z" fill="#96ca48"/><path d="M287.1 128.3 296.1 129 292.7 124.5 283.7 123.8Z" fill="#8bcb51"/><path d="M295.3 129.1 304.4 129.8 301 125.3 291.9 124.5Z" fill="#81cc59"/><path d="M303.6 129.8 312.6 130.5 309.2 126.1 300.2 125.4Z" fill="#79cc5e"/><path d="M311.8 130.6 320.8 131.3 317.5 126.9 308.4 126.2Z" fill="#6ecd66"/><path d="M320.1 131.4 329.1 132.1 325.7 127.8 316.7 127Z" fill="#64cd6f"/><path d="M328.3 132.2 337.3 132.9 333.9 128.6 324.9 127.8Z" fill="#5acc77"/><path d="M336.5 133 345.6 133.7 342.2 129.5 333.1 128.7Z" fill="#51cc7f"/><path d="M344.8 133.8 353.8 134.5 350.4 130.3 341.4 129.5Z" fill="#48cb86"/><path d="M353 134.6 362 135.3 358.7 131.2 349.6 130.4Z" fill="#40ca8d"/><path d="M361.2 135.4 370.3 136.2 366.9 132.1 357.9 131.3Z" fill="#39c994"/><path d="M369.5 136.2 378.5 137 375.1 133 366.1 132.2Z" fill="#35c79b"/><path d="M377.7 137.1 386.8 137.9 383.4 133.9 374.3 133.1Z" fill="#31c5a1"/><path d="M386 137.9 395 138.7 391.6 134.9 382.6 134Z" fill="#2cc4a6"/><path d="M394.2 138.8 403.2 139.6 399.9 135.8 390.8 134.9Z" fill="#27c2ac"/><path d="M402.4 139.6 411.5 140.5 408.1 136.8 399 135.9Z" fill="#20c1b1"/><path d="M410.7 140.5 419.7 141.3 416.4 137.7 407.3 136.8Z" fill="#17bfb6"/><path d="M418.9 141.4 428 142.2 424.6 138.7 415.5 137.8Z" fill="#0dbdbc"/><path d="M427.1 142.3 436.2 143.1 432.8 139.7 423.8 138.8Z" fill="#04bbc1"/><path d="M435.4 143.2 444.5 144.1 441.1 140.7 432 139.7Z" fill="#00b9c7"/><path d="M443.6 144.1 452.7 145 449.3 141.7 440.2 140.7Z" fill="#02b7cc"/><path d="M451.8 145 460.9 145.9 457.6 142.7 448.5 141.7Z" fill="#08b4d1"/><path d="M460.1 145.9 469.2 146.9 465.8 143.8 456.7 142.8Z" fill="#10b2d5"/><path d="M468.3 146.9 477.4 147.8 474.1 144.8 465 143.8Z" fill="#16afd9"/><path d="M476.6 147.8 485.7 148.8 482.3 145.9 473.2 144.8Z" fill="#1aacdd"/><path d="M484.8 148.8 493.9 149.8 490.5 147 481.4 145.9Z" fill="#1da9e0"/><path d="M493 149.8 502.1 150.7 498.8 148.1 489.7 147Z" fill="#20a5e3"/><path d="M109.2 118.2 118.2 118.7 114.8 113.7 105.8 113.3Z" fill="#f9d62d"/><path d="M117.4 118.8 126.4 119.3 123 114.3 114 113.8Z" fill="#fbd22f"/><path d="M125.7 119.4 134.7 119.9 131.3 114.9 122.3 114.4Z" fill="#fdce31"/><path d="M133.9 120 142.9 120.5 139.5 115.5 130.5 115Z" fill="#feca33"/><path d="M142.2 120.6 151.2 121.2 147.8 116.2 138.7 115.6Z" fill="#fec537"/><path d="M150.4 121.3 159.4 121.8 156 116.8 147 116.3Z" fill="#fec239"/><path d="M158.6 121.9 167.6 122.4 164.2 117.4 155.2 116.9Z" fill="#febe3c"/><path d="M166.9 122.5 175.9 123 172.5 118.1 163.5 117.5Z" fill="#fbbb3e"/><path d="M175.1 123.1 184.1 123.7 180.7 118.7 171.7 118.2Z" fill="#f7ba3d"/><path d="M183.4 123.8 192.4 124.3 189 119.4 179.9 118.8Z" fill="#f1ba37"/><path d="M191.6 124.4 200.6 125 197.2 120 188.2 119.5Z" fill="#eaba30"/><path d="M199.8 125.1 208.8 125.6 205.4 120.7 196.4 120.1Z" fill="#e6bb2d"/><path d="M208.1 125.7 217.1 126.3 213.7 121.4 204.7 120.8Z" fill="#debc29"/><path d="M216.3 126.4 225.3 126.9 221.9 122 212.9 121.5Z" fill="#d6be27"/><path d="M224.6 127 233.6 127.6 230.2 122.7 221.1 122.1Z" fill="#cec027"/><path d="M232.8 127.7 241.8 128.3 238.4 123.4 229.4 122.8Z" fill="#c8c129"/><path d="M241 128.4 250 129 246.6 124.1 237.6 123.5Z" fill="#bec32d"/><path d="M249.3 129 258.3 129.6 254.9 124.9 245.9 124.2Z" fill="#b5c533"/><path d="M257.5 129.7 266.5 130.3 263.1 125.6 254.1 125Z" fill="#abc739"/><path d="M265.7 130.4 274.8 131 271.4 126.3 262.3 125.7Z" fill="#a1c840"/><path d="M274 131.1 283 131.7 279.6 127.1 270.6 126.4Z" fill="#9ac946"/><path d="M282.2 131.8 291.2 132.4 287.8 127.8 278.8 127.1Z" fill="#8fcb4e"/><path d="M290.5 132.5 299.5 133.2 296.1 128.6 287.1 127.9Z" fill="#84cc56"/><path d="M298.7 133.2 307.7 133.9 304.3 129.3 295.3 128.6Z" fill="#79cc5e"/><path d="M306.9 134 316 134.6 312.6 130.1 303.5 129.4Z" fill="#6ecd66"/><path d="M315.2 134.7 324.2 135.3 320.8 130.9 311.8 130.2Z" fill="#64cd6f"/><path d="M323.4 135.4 332.4 136.1 329 131.7 320 131Z" fill="#5ecd74"/><path d="M331.7 136.2 340.7 136.8 337.3 132.5 328.3 131.8Z" fill="#54cc7c"/><path d="M339.9 136.9 348.9 137.6 345.5 133.3 336.5 132.6Z" fill="#4bcb84"/><path d="M348.1 137.6 357.2 138.3 353.8 134.1 344.7 133.4Z" fill="#42ca8b"/><path d="M356.4 138.4 365.4 139.1 362 134.9 353 134.2Z" fill="#3bc992"/><path d="M364.6 139.2 373.6 139.9 370.3 135.8 361.2 135Z" fill="#36c899"/><path d="M372.8 139.9 381.9 140.7 378.5 136.6 369.4 135.8Z" fill="#32c69f"/><path d="M381.1 140.7 390.1 141.4 386.7 137.5 377.7 136.7Z" fill="#2ec4a5"/><path d="M389.3 141.5 398.4 142.2 395 138.3 385.9 137.5Z" fill="#29c3aa"/><path d="M397.5 142.3 406.6 143 403.2 139.2 394.2 138.4Z" fill="#25c2ae"/><path d="M405.8 143.1 414.8 143.8 411.5 140.1 402.4 139.3Z" fill="#1dc0b3"/><path d="M414 143.9 423.1 144.7 419.7 141 410.6 140.1Z" fill="#14beb8"/><path d="M422.3 144.7 431.3 145.5 427.9 141.9 418.9 141Z" fill="#09bdbd"/><path d="M430.5 145.5 439.6 146.3 436.2 142.8 427.1 141.9Z" fill="#02bbc2"/><path d="M438.7 146.4 447.8 147.2 444.4 143.7 435.4 142.8Z" fill="#00b9c7"/><path d="M447 147.2 456 148 452.7 144.7 443.6 143.8Z" fill="#02b7cc"/><path d="M455.2 148 464.3 148.9 460.9 145.6 451.8 144.7Z" fill="#08b4d1"/><path d="M463.4 148.9 472.5 149.7 469.2 146.6 460.1 145.6Z" fill="#10b2d5"/><path d="M471.7 149.7 480.8 150.6 477.4 147.5 468.3 146.6Z" fill="#16afd9"/><path d="M479.9 150.6 489 151.5 485.6 148.5 476.6 147.5Z" fill="#1aacdd"/><path d="M488.2 151.5 497.2 152.3 493.9 149.5 484.8 148.5Z" fill="#1da8e1"/><path d="M496.4 152.4 505.5 153.2 502.1 150.5 493 149.5Z" fill="#20a5e3"/><path d="M112.6 122.8 121.6 123.3 118.1 118.3 109.1 117.8Z" fill="#fbd22f"/><path d="M120.8 123.4 129.8 123.9 126.4 118.9 117.4 118.4Z" fill="#fdce31"/><path d="M129 124 138 124.5 134.6 119.5 125.6 119Z" fill="#feca33"/><path d="M137.3 124.6 146.3 125.1 142.9 120.1 133.9 119.6Z" fill="#fec537"/><path d="M145.5 125.2 154.5 125.7 151.1 120.7 142.1 120.2Z" fill="#fec239"/><path d="M153.8 125.8 162.8 126.4 159.3 121.3 150.3 120.8Z" fill="#febe3c"/><path d="M162 126.5 171 127 167.6 121.9 158.6 121.4Z" fill="#fbbb3e"/><path d="M170.2 127.1 179.2 127.6 175.8 122.6 166.8 122Z" fill="#f7ba3d"/><path d="M178.5 127.7 187.5 128.2 184.1 123.2 175.1 122.7Z" fill="#f1ba37"/><path d="M186.7 128.3 195.7 128.9 192.3 123.9 183.3 123.3Z" fill="#eaba30"/><path d="M195 129 204 129.5 200.5 124.5 191.5 123.9Z" fill="#e3bc2b"/><path d="M203.2 129.6 212.2 130.1 208.8 125.2 199.8 124.6Z" fill="#debc29"/><path d="M211.4 130.2 220.4 130.8 217 125.8 208 125.2Z" fill="#d6be27"/><path d="M219.7 130.9 228.7 131.4 225.3 126.5 216.3 125.9Z" fill="#cec027"/><path d="M227.9 131.5 236.9 132.1 233.5 127.1 224.5 126.6Z" fill="#c8c129"/><path d="M236.2 132.2 245.2 132.7 241.7 127.8 232.7 127.2Z" fill="#bec32d"/><path d="M244.4 132.8 253.4 133.4 250 128.5 241 127.9Z" fill="#b5c533"/><path d="M252.6 133.5 261.6 134 258.2 129.2 249.2 128.6Z" fill="#abc739"/><path d="M260.9 134.1 269.9 134.7 266.5 129.9 257.5 129.3Z" fill="#a4c83e"/><path d="M269.1 134.8 278.1 135.4 274.7 130.6 265.7 130Z" fill="#9ac946"/><path d="M277.3 135.4 286.4 136 283 131.3 273.9 130.7Z" fill="#8fcb4e"/><path d="M285.6 136.1 294.6 136.7 291.2 132 282.2 131.4Z" fill="#84cc56"/><path d="M293.8 136.8 302.8 137.4 299.4 132.7 290.4 132.1Z" fill="#7dcc5b"/><path d="M302.1 137.5 311.1 138.1 307.7 133.4 298.7 132.8Z" fill="#72cd64"/><path d="M310.3 138.1 319.3 138.7 315.9 134.2 306.9 133.5Z" fill="#67cd6c"/><path d="M318.5 138.8 327.6 139.4 324.2 134.9 315.1 134.3Z" fill="#5ecd74"/><path d="M326.8 139.5 335.8 140.1 332.4 135.7 323.4 135Z" fill="#57cc7a"/><path d="M335 140.2 344 140.8 340.6 136.4 331.6 135.7Z" fill="#4ecc81"/><path d="M343.2 140.9 352.3 141.5 348.9 137.2 339.8 136.5Z" fill="#45cb89"/><path d="M351.5 141.6 360.5 142.2 357.1 137.9 348.1 137.2Z" fill="#3dca90"/><path d="M359.7 142.3 368.8 142.9 365.4 138.7 356.3 138Z" fill="#38c896"/><path d="M368 143 377 143.7 373.6 139.5 364.6 138.8Z" fill="#33c79d"/><path d="M376.2 143.7 385.2 144.4 381.8 140.3 372.8 139.5Z" fill="#31c5a1"/><path d="M384.4 144.4 393.5 145.1 390.1 141.1 381 140.3Z" fill="#2cc4a6"/><path d="M392.7 145.2 401.7 145.8 398.3 141.9 389.3 141.1Z" fill="#27c2ac"/><path d="M400.9 145.9 410 146.6 406.6 142.7 397.5 141.9Z" fill="#20c1b1"/><path d="M409.1 146.6 418.2 147.3 414.8 143.5 405.8 142.7Z" fill="#17bfb6"/><path d="M417.4 147.4 426.4 148.1 423.1 144.3 414 143.5Z" fill="#0dbdbc"/><path d="M425.6 148.1 434.7 148.8 431.3 145.1 422.2 144.4Z" fill="#06bcbf"/><path d="M433.9 148.9 442.9 149.6 439.5 146 430.5 145.2Z" fill="#01bac4"/><path d="M442.1 149.6 451.2 150.3 447.8 146.8 438.7 146Z" fill="#00b8c9"/><path d="M450.3 150.4 459.4 151.1 456 147.7 447 146.9Z" fill="#04b6ce"/><path d="M458.6 151.1 467.6 151.9 464.3 148.5 455.2 147.7Z" fill="#0bb3d2"/><path d="M466.8 151.9 475.9 152.6 472.5 149.4 463.4 148.6Z" fill="#12b1d6"/><path d="M475 152.7 484.1 153.4 480.8 150.3 471.7 149.4Z" fill="#17aeda"/><path d="M483.3 153.5 492.4 154.2 489 151.2 479.9 150.3Z" fill="#1babde"/><path d="M491.5 154.2 500.6 155 497.2 152.1 488.1 151.2Z" fill="#1da8e1"/><path d="M499.8 155 508.8 155.8 505.5 153 496.4 152.1Z" fill="#20a5e3"/><path d="M115.9 127.4 124.9 127.9 121.5 122.8 112.5 122.3Z" fill="#fdcd31"/><path d="M124.2 128 133.2 128.5 129.7 123.4 120.7 122.9Z" fill="#feca33"/><path d="M132.4 128.6 141.4 129.1 138 124 129 123.5Z" fill="#fec537"/><path d="M140.6 129.2 149.6 129.7 146.2 124.6 137.2 124.1Z" fill="#fec13a"/><path d="M148.9 129.8 157.9 130.4 154.5 125.3 145.5 124.7Z" fill="#febe3c"/><path d="M157.1 130.5 166.1 131 162.7 125.9 153.7 125.4Z" fill="#fbbb3e"/><path d="M165.4 131.1 174.4 131.6 170.9 126.5 161.9 126Z" fill="#f5ba3b"/><path d="M173.6 131.7 182.6 132.2 179.2 127.1 170.2 126.6Z" fill="#f1ba37"/><path d="M181.8 132.3 190.8 132.8 187.4 127.8 178.4 127.2Z" fill="#eaba30"/><path d="M190.1 132.9 199.1 133.5 195.7 128.4 186.7 127.9Z" fill="#e3bc2b"/><path d="M198.3 133.6 207.3 134.1 203.9 129 194.9 128.5Z" fill="#debc29"/><path d="M206.6 134.2 215.6 134.7 212.1 129.7 203.1 129.1Z" fill="#d6be27"/><path d="M214.8 134.8 223.8 135.3 220.4 130.3 211.4 129.8Z" fill="#cec027"/><path d="M223 135.4 232 135.9 228.6 131 219.6 130.4Z" fill="#c8c129"/><path d="M231.3 136 240.3 136.6 236.9 131.6 227.9 131Z" fill="#bec32d"/><path d="M239.5 136.7 248.5 137.2 245.1 132.3 236.1 131.7Z" fill="#b5c533"/><path d="M247.7 137.3 256.8 137.8 253.3 132.9 244.3 132.3Z" fill="#abc739"/><path d="M256 137.9 265 138.5 261.6 133.6 252.6 133Z" fill="#a4c83e"/><path d="M264.2 138.6 273.2 139.1 269.8 134.2 260.8 133.7Z" fill="#9ac946"/><path d="M272.5 139.2 281.5 139.7 278.1 134.9 269.1 134.3Z" fill="#8fcb4e"/><path d="M280.7 139.8 289.7 140.4 286.3 135.6 277.3 135Z" fill="#88cb53"/><path d="M288.9 140.5 298 141 294.5 136.2 285.5 135.7Z" fill="#7dcc5b"/><path d="M297.2 141.1 306.2 141.6 302.8 136.9 293.8 136.3Z" fill="#72cd64"/><path d="M305.4 141.7 314.4 142.3 311 137.6 302 137Z" fill="#67cd6c"/><path d="M313.7 142.4 322.7 142.9 319.3 138.3 310.2 137.7Z" fill="#61cd72"/><path d="M321.9 143 330.9 143.6 327.5 139 318.5 138.4Z" fill="#57cc7a"/><path d="M330.1 143.7 339.2 144.2 335.8 139.7 326.7 139.1Z" fill="#4ecc81"/><path d="M338.4 144.3 347.4 144.9 344 140.4 335 139.8Z" fill="#48cb86"/><path d="M346.6 145 355.6 145.5 352.2 141.1 343.2 140.5Z" fill="#40ca8d"/><path d="M354.8 145.6 363.9 146.2 360.5 141.8 351.4 141.2Z" fill="#39c994"/><path d="M363.1 146.3 372.1 146.8 368.7 142.5 359.7 141.9Z" fill="#35c79b"/><path d="M371.3 146.9 380.4 147.5 377 143.2 367.9 142.6Z" fill="#32c69f"/><path d="M379.6 147.6 388.6 148.2 385.2 144 376.2 143.3Z" fill="#2ec4a5"/><path d="M387.8 148.2 396.8 148.8 393.4 144.7 384.4 144Z" fill="#29c3aa"/><path d="M396 148.9 405.1 149.5 401.7 145.4 392.6 144.8Z" fill="#23c1af"/><path d="M404.3 149.6 413.3 150.2 409.9 146.2 400.9 145.5Z" fill="#1dc0b3"/><path d="M412.5 150.2 421.6 150.8 418.2 146.9 409.1 146.3Z" fill="#14beb8"/><path d="M420.7 150.9 429.8 151.5 426.4 147.7 417.4 147Z" fill="#09bdbd"/><path d="M429 151.6 438 152.2 434.7 148.4 425.6 147.7Z" fill="#02bbc2"/><path d="M437.2 152.2 446.3 152.9 442.9 149.2 433.8 148.5Z" fill="#00bac6"/><path d="M445.5 152.9 454.5 153.6 451.1 150 442.1 149.3Z" fill="#01b7ca"/><path d="M453.7 153.6 462.8 154.2 459.4 150.7 450.3 150Z" fill="#06b5cf"/><path d="M461.9 154.3 471 154.9 467.6 151.5 458.5 150.8Z" fill="#0eb3d4"/><path d="M470.2 155 479.2 155.6 475.9 152.3 466.8 151.6Z" fill="#14b0d8"/><path d="M478.4 155.7 487.5 156.3 484.1 153.1 475 152.4Z" fill="#17aeda"/><path d="M486.6 156.4 495.7 157 492.3 153.9 483.3 153.2Z" fill="#1babde"/><path d="M494.9 157.1 504 157.7 500.6 154.7 491.5 153.9Z" fill="#1da8e1"/><path d="M503.1 157.8 512.2 158.4 508.8 155.5 499.7 154.7Z" fill="#20a5e3"/><path d="M119.3 132 128.3 132.5 124.9 127.4 115.9 126.9Z" fill="#feca33"/><path d="M127.5 132.6 136.5 133.2 133.1 128 124.1 127.5Z" fill="#fec537"/><path d="M135.8 133.3 144.8 133.8 141.3 128.6 132.3 128.1Z" fill="#fec13a"/><path d="M144 133.9 153 134.4 149.6 129.3 140.6 128.7Z" fill="#febd3d"/><path d="M152.2 134.5 161.2 135 157.8 129.9 148.8 129.4Z" fill="#fbbb3e"/><path d="M160.5 135.1 169.5 135.6 166.1 130.5 157.1 130Z" fill="#f5ba3b"/><path d="M168.7 135.7 177.7 136.3 174.3 131.1 165.3 130.6Z" fill="#efba35"/><path d="M177 136.4 186 136.9 182.5 131.7 173.5 131.2Z" fill="#eaba30"/><path d="M185.2 137 194.2 137.5 190.8 132.4 181.8 131.8Z" fill="#e3bc2b"/><path d="M193.4 137.6 202.4 138.1 199 133 190 132.5Z" fill="#dbbd28"/><path d="M201.7 138.2 210.7 138.7 207.3 133.6 198.3 133.1Z" fill="#d6be27"/><path d="M209.9 138.8 218.9 139.3 215.5 134.2 206.5 133.7Z" fill="#cec027"/><path d="M218.2 139.4 227.1 139.9 223.7 134.9 214.7 134.3Z" fill="#c5c22a"/><path d="M226.4 140 235.4 140.5 232 135.5 223 135Z" fill="#bec32d"/><path d="M234.6 140.6 243.6 141.1 240.2 136.1 231.2 135.6Z" fill="#b5c533"/><path d="M242.9 141.2 251.9 141.7 248.5 136.7 239.5 136.2Z" fill="#abc739"/><path d="M251.1 141.8 260.1 142.4 256.7 137.4 247.7 136.8Z" fill="#a4c83e"/><path d="M259.3 142.5 268.3 143 264.9 138 255.9 137.5Z" fill="#9ac946"/><path d="M267.6 143.1 276.6 143.6 273.2 138.6 264.2 138.1Z" fill="#8fcb4e"/><path d="M275.8 143.7 284.8 144.2 281.4 139.3 272.4 138.7Z" fill="#88cb53"/><path d="M284.1 144.3 293.1 144.8 289.7 139.9 280.6 139.4Z" fill="#7dcc5b"/><path d="M292.3 144.9 301.3 145.4 297.9 140.6 288.9 140Z" fill="#72cd64"/><path d="M300.5 145.5 309.5 146 306.1 141.2 297.1 140.6Z" fill="#6bcd69"/><path d="M308.8 146.1 317.8 146.6 314.4 141.8 305.4 141.3Z" fill="#61cd72"/><path d="M317 146.7 326 147.2 322.6 142.5 313.6 141.9Z" fill="#57cc7a"/><path d="M325.3 147.3 334.3 147.8 330.9 143.1 321.8 142.6Z" fill="#51cc7f"/><path d="M333.5 147.9 342.5 148.4 339.1 143.8 330.1 143.2Z" fill="#48cb86"/><path d="M341.7 148.5 350.7 149 347.3 144.4 338.3 143.9Z" fill="#40ca8d"/><path d="M350 149.1 359 149.6 355.6 145.1 346.6 144.5Z" fill="#3bc992"/><path d="M358.2 149.7 367.2 150.2 363.8 145.8 354.8 145.2Z" fill="#36c899"/><path d="M366.4 150.3 375.5 150.8 372.1 146.4 363 145.8Z" fill="#32c69f"/><path d="M374.7 150.9 383.7 151.4 380.3 147.1 371.3 146.5Z" fill="#2fc5a3"/><path d="M382.9 151.5 392 152 388.6 147.7 379.5 147.2Z" fill="#2bc3a8"/><path d="M391.2 152.1 400.2 152.6 396.8 148.4 387.8 147.8Z" fill="#25c2ae"/><path d="M399.4 152.7 408.4 153.2 405 149.1 396 148.5Z" fill="#20c1b1"/><path d="M407.6 153.3 416.7 153.8 413.3 149.8 404.2 149.2Z" fill="#17bfb6"/><path d="M415.9 153.9 424.9 154.4 421.5 150.4 412.5 149.8Z" fill="#0dbdbc"/><path d="M424.1 154.5 433.2 155 429.8 151.1 420.7 150.5Z" fill="#06bcbf"/><path d="M432.3 155.1 441.4 155.6 438 151.8 428.9 151.2Z" fill="#01bac4"/><path d="M440.6 155.7 449.6 156.2 446.2 152.5 437.2 151.9Z" fill="#00b8c9"/><path d="M448.8 156.3 457.9 156.8 454.5 153.2 445.4 152.6Z" fill="#02b7cc"/><path d="M457.1 156.9 466.1 157.5 462.7 153.9 453.7 153.3Z" fill="#08b4d1"/><path d="M465.3 157.5 474.4 158.1 471 154.6 461.9 154Z" fill="#10b2d5"/><path d="M473.5 158.1 482.6 158.7 479.2 155.3 470.1 154.7Z" fill="#14b0d8"/><path d="M481.8 158.7 490.8 159.3 487.5 156 478.4 155.4Z" fill="#19addc"/><path d="M490 159.4 499.1 159.9 495.7 156.7 486.6 156.1Z" fill="#1caadf"/><path d="M498.2 160 507.3 160.5 503.9 157.4 494.9 156.8Z" fill="#1da8e1"/><path d="M506.5 160.6 515.6 161.2 512.2 158.1 503.1 157.5Z" fill="#20a5e3"/><path d="M122.6 136.7 131.6 137.2 128.2 132.1 119.2 131.5Z" fill="#fec537"/><path d="M130.9 137.3 139.9 137.9 136.4 132.7 127.5 132.2Z" fill="#fec13a"/><path d="M139.1 138 148.1 138.5 144.7 133.3 135.7 132.8Z" fill="#febd3d"/><path d="M147.4 138.6 156.3 139.1 152.9 133.9 143.9 133.4Z" fill="#f9ba3e"/><path d="M155.6 139.2 164.6 139.7 161.2 134.6 152.2 134Z" fill="#f5ba3b"/><path d="M163.8 139.8 172.8 140.4 169.4 135.2 160.4 134.7Z" fill="#efba35"/><path d="M172.1 140.5 181.1 141 177.6 135.8 168.7 135.3Z" fill="#e8bb2e"/><path d="M180.3 141.1 189.3 141.6 185.9 136.4 176.9 135.9Z" fill="#e3bc2b"/><path d="M188.6 141.7 197.5 142.2 194.1 137 185.1 136.5Z" fill="#dbbd28"/><path d="M196.8 142.3 205.8 142.8 202.4 137.6 193.4 137.1Z" fill="#d3bf27"/><path d="M205 142.9 214 143.4 210.6 138.2 201.6 137.7Z" fill="#cec027"/><path d="M213.3 143.5 222.3 144 218.8 138.8 209.9 138.3Z" fill="#c5c22a"/><path d="M221.5 144.1 230.5 144.6 227.1 139.5 218.1 138.9Z" fill="#bbc42f"/><path d="M229.7 144.7 238.7 145.2 235.3 140.1 226.3 139.6Z" fill="#b5c533"/><path d="M238 145.3 247 145.8 243.6 140.7 234.6 140.2Z" fill="#abc739"/><path d="M246.2 145.9 255.2 146.3 251.8 141.3 242.8 140.8Z" fill="#a1c840"/><path d="M254.5 146.4 263.5 146.9 260 141.9 251 141.4Z" fill="#9ac946"/><path d="M262.7 147 271.7 147.5 268.3 142.5 259.3 142Z" fill="#8fcb4e"/><path d="M270.9 147.6 279.9 148.1 276.5 143.1 267.5 142.6Z" fill="#84cc56"/><path d="M279.2 148.2 288.2 148.7 284.8 143.7 275.8 143.2Z" fill="#7dcc5b"/><path d="M287.4 148.8 296.4 149.2 293 144.3 284 143.8Z" fill="#72cd64"/><path d="M295.7 149.3 304.7 149.8 301.2 144.9 292.2 144.4Z" fill="#6bcd69"/><path d="M303.9 149.9 312.9 150.4 309.5 145.5 300.5 145Z" fill="#61cd72"/><path d="M312.1 150.5 321.1 150.9 317.7 146.1 308.7 145.6Z" fill="#57cc7a"/><path d="M320.4 151 329.4 151.5 326 146.7 317 146.2Z" fill="#51cc7f"/><path d="M328.6 151.6 337.6 152 334.2 147.3 325.2 146.8Z" fill="#48cb86"/><path d="M336.9 152.1 345.9 152.6 342.5 147.9 333.4 147.4Z" fill="#42ca8b"/><path d="M345.1 152.7 354.1 153.2 350.7 148.5 341.7 148Z" fill="#3bc992"/><path d="M353.3 153.2 362.3 153.7 358.9 149.1 349.9 148.6Z" fill="#36c899"/><path d="M361.6 153.8 370.6 154.3 367.2 149.8 358.2 149.2Z" fill="#33c79d"/><path d="M369.8 154.3 378.8 154.8 375.4 150.4 366.4 149.8Z" fill="#2fc5a3"/><path d="M378 154.9 387.1 155.4 383.7 151 374.6 150.5Z" fill="#2cc4a6"/><path d="M386.3 155.4 395.3 155.9 391.9 151.6 382.9 151.1Z" fill="#27c2ac"/><path d="M394.5 156 403.5 156.4 400.1 152.2 391.1 151.7Z" fill="#20c1b1"/><path d="M402.8 156.5 411.8 157 408.4 152.8 399.4 152.3Z" fill="#1ac0b5"/><path d="M411 157.1 420 157.5 416.6 153.4 407.6 152.9Z" fill="#10beba"/><path d="M419.2 157.6 428.3 158.1 424.9 154 415.8 153.5Z" fill="#09bdbd"/><path d="M427.5 158.1 436.5 158.6 433.1 154.6 424.1 154.1Z" fill="#02bbc2"/><path d="M435.7 158.7 444.7 159.1 441.4 155.2 432.3 154.7Z" fill="#00bac6"/><path d="M443.9 159.2 453 159.7 449.6 155.9 440.5 155.3Z" fill="#01b7ca"/><path d="M452.2 159.8 461.2 160.2 457.8 156.5 448.8 155.9Z" fill="#06b5cf"/><path d="M460.4 160.3 469.5 160.7 466.1 157.1 457 156.6Z" fill="#0bb3d2"/><path d="M468.6 160.8 477.7 161.3 474.3 157.7 465.3 157.2Z" fill="#12b1d6"/><path d="M476.9 161.4 486 161.8 482.6 158.3 473.5 157.8Z" fill="#16afd9"/><path d="M485.1 161.9 494.2 162.3 490.8 159 481.7 158.4Z" fill="#1aacdd"/><path d="M493.4 162.4 502.4 162.9 499.1 159.6 490 159Z" fill="#1caadf"/><path d="M501.6 162.9 510.7 163.4 507.3 160.2 498.2 159.7Z" fill="#1ea7e1"/><path d="M509.8 163.5 518.9 163.9 515.5 160.8 506.5 160.3Z" fill="#21a3e3"/><path d="M126 141.4 135 142 131.6 136.8 122.6 136.2Z" fill="#fec03b"/><path d="M134.2 142.1 143.2 142.6 139.8 137.4 130.8 136.9Z" fill="#febd3d"/><path d="M142.5 142.7 151.5 143.3 148 138 139.1 137.5Z" fill="#f9ba3e"/><path d="M150.7 143.4 159.7 143.9 156.3 138.6 147.3 138.1Z" fill="#f3ba39"/><path d="M159 144 167.9 144.5 164.5 139.3 155.5 138.7Z" fill="#efba35"/><path d="M167.2 144.6 176.2 145.1 172.8 139.9 163.8 139.4Z" fill="#e8bb2e"/><path d="M175.4 145.2 184.4 145.7 181 140.5 172 140Z" fill="#e1bc2a"/><path d="M183.7 145.8 192.7 146.3 189.2 141.1 180.2 140.6Z" fill="#dbbd28"/><path d="M191.9 146.4 200.9 146.9 197.5 141.7 188.5 141.2Z" fill="#d3bf27"/><path d="M200.1 147 209.1 147.5 205.7 142.3 196.7 141.8Z" fill="#cbc128"/><path d="M208.4 147.6 217.4 148.1 214 142.9 205 142.4Z" fill="#c5c22a"/><path d="M216.6 148.2 225.6 148.7 222.2 143.5 213.2 143Z" fill="#bbc42f"/><path d="M224.9 148.8 233.9 149.3 230.4 144.1 221.4 143.6Z" fill="#b2c635"/><path d="M233.1 149.4 242.1 149.9 238.7 144.7 229.7 144.2Z" fill="#abc739"/><path d="M241.3 150 250.3 150.4 246.9 145.3 237.9 144.8Z" fill="#a1c840"/><path d="M249.6 150.5 258.6 151 255.2 145.9 246.2 145.4Z" fill="#96ca48"/><path d="M257.8 151.1 266.8 151.6 263.4 146.5 254.4 146Z" fill="#8fcb4e"/><path d="M266.1 151.7 275.1 152.1 271.6 147 262.6 146.6Z" fill="#84cc56"/><path d="M274.3 152.2 283.3 152.7 279.9 147.6 270.9 147.1Z" fill="#7dcc5b"/><path d="M282.5 152.8 291.5 153.2 288.1 148.2 279.1 147.7Z" fill="#72cd64"/><path d="M290.8 153.3 299.8 153.7 296.4 148.8 287.4 148.3Z" fill="#67cd6c"/><path d="M299 153.8 308 154.3 304.6 149.3 295.6 148.9Z" fill="#61cd72"/><path d="M307.3 154.4 316.3 154.8 312.8 149.9 303.8 149.4Z" fill="#57cc7a"/><path d="M315.5 154.9 324.5 155.3 321.1 150.5 312.1 150Z" fill="#51cc7f"/><path d="M323.7 155.4 332.7 155.8 329.3 151 320.3 150.6Z" fill="#48cb86"/><path d="M332 155.9 341 156.4 337.6 151.6 328.6 151.1Z" fill="#42ca8b"/><path d="M340.2 156.5 349.2 156.9 345.8 152.2 336.8 151.7Z" fill="#3bc992"/><path d="M348.4 157 357.5 157.4 354 152.7 345 152.3Z" fill="#38c896"/><path d="M356.7 157.5 365.7 157.9 362.3 153.3 353.3 152.8Z" fill="#33c79d"/><path d="M364.9 158 373.9 158.4 370.5 153.8 361.5 153.4Z" fill="#31c5a1"/><path d="M373.2 158.5 382.2 158.9 378.8 154.4 369.8 153.9Z" fill="#2cc4a6"/><path d="M381.4 159 390.4 159.4 387 154.9 378 154.5Z" fill="#29c3aa"/><path d="M389.6 159.5 398.7 159.9 395.3 155.5 386.2 155Z" fill="#23c1af"/><path d="M397.9 160 406.9 160.3 403.5 156 394.5 155.6Z" fill="#1ac0b5"/><path d="M406.1 160.4 415.1 160.8 411.7 156.6 402.7 156.1Z" fill="#14beb8"/><path d="M414.4 160.9 423.4 161.3 420 157.1 410.9 156.7Z" fill="#0dbdbc"/><path d="M422.6 161.4 431.6 161.8 428.2 157.7 419.2 157.2Z" fill="#04bbc1"/><path d="M430.8 161.9 439.9 162.2 436.5 158.2 427.4 157.8Z" fill="#01bac4"/><path d="M439.1 162.3 448.1 162.7 444.7 158.8 435.7 158.3Z" fill="#00b8c9"/><path d="M447.3 162.8 456.3 163.2 452.9 159.3 443.9 158.8Z" fill="#02b7cc"/><path d="M455.5 163.3 464.6 163.6 461.2 159.8 452.1 159.4Z" fill="#08b4d1"/><path d="M463.8 163.7 472.8 164.1 469.4 160.4 460.4 159.9Z" fill="#0eb3d4"/><path d="M472 164.2 481.1 164.6 477.7 160.9 468.6 160.5Z" fill="#14b0d8"/><path d="M480.2 164.6 489.3 165 485.9 161.5 476.9 161Z" fill="#17aeda"/><path d="M488.5 165.1 497.5 165.5 494.2 162 485.1 161.5Z" fill="#1babde"/><path d="M496.7 165.5 505.8 165.9 502.4 162.5 493.3 162.1Z" fill="#1da9e0"/><path d="M505 166 514 166.3 510.6 163.1 501.6 162.6Z" fill="#1fa6e2"/><path d="M513.2 166.4 522.3 166.8 518.9 163.6 509.8 163.1Z" fill="#21a3e3"/><path d="M129.3 146.2 138.3 146.8 134.9 141.5 125.9 141Z" fill="#fcbc3e"/><path d="M137.6 146.9 146.6 147.4 143.2 142.1 134.2 141.6Z" fill="#f9ba3e"/><path d="M145.8 147.5 154.8 148.1 151.4 142.8 142.4 142.2Z" fill="#f3ba39"/><path d="M154.1 148.2 163.1 148.7 159.6 143.4 150.6 142.9Z" fill="#ecba32"/><path d="M162.3 148.8 171.3 149.3 167.9 144 158.9 143.5Z" fill="#e6bb2d"/><path d="M170.5 149.4 179.5 149.9 176.1 144.6 167.1 144.1Z" fill="#e1bc2a"/><path d="M178.8 150 187.8 150.5 184.4 145.3 175.4 144.7Z" fill="#d9be28"/><path d="M187 150.7 196 151.2 192.6 145.9 183.6 145.4Z" fill="#d0bf27"/><path d="M195.3 151.3 204.3 151.7 200.8 146.5 191.8 146Z" fill="#cbc128"/><path d="M203.5 151.9 212.5 152.3 209.1 147.1 200.1 146.6Z" fill="#c2c32c"/><path d="M211.7 152.4 220.7 152.9 217.3 147.6 208.3 147.2Z" fill="#b8c431"/><path d="M220 153 229 153.5 225.6 148.2 216.6 147.8Z" fill="#b2c635"/><path d="M228.2 153.6 237.2 154 233.8 148.8 224.8 148.3Z" fill="#a7c73b"/><path d="M236.5 154.2 245.5 154.6 242 149.4 233 148.9Z" fill="#a1c840"/><path d="M244.7 154.7 253.7 155.2 250.3 150 241.3 149.5Z" fill="#96ca48"/><path d="M252.9 155.3 261.9 155.7 258.5 150.5 249.5 150.1Z" fill="#8bcb51"/><path d="M261.2 155.8 270.2 156.2 266.8 151.1 257.8 150.6Z" fill="#84cc56"/><path d="M269.4 156.3 278.4 156.8 275 151.6 266 151.2Z" fill="#79cc5e"/><path d="M277.7 156.9 286.7 157.3 283.2 152.2 274.2 151.7Z" fill="#72cd64"/><path d="M285.9 157.4 294.9 157.8 291.5 152.7 282.5 152.3Z" fill="#67cd6c"/><path d="M294.1 157.9 303.1 158.3 299.7 153.3 290.7 152.8Z" fill="#61cd72"/><path d="M302.4 158.4 311.4 158.8 308 153.8 299 153.4Z" fill="#57cc7a"/><path d="M310.6 158.9 319.6 159.3 316.2 154.3 307.2 153.9Z" fill="#51cc7f"/><path d="M318.9 159.4 327.9 159.8 324.4 154.9 315.4 154.4Z" fill="#48cb86"/><path d="M327.1 159.9 336.1 160.3 332.7 155.4 323.7 155Z" fill="#42ca8b"/><path d="M335.3 160.4 344.3 160.7 340.9 155.9 331.9 155.5Z" fill="#3bc992"/><path d="M343.6 160.8 352.6 161.2 349.2 156.4 340.2 156Z" fill="#38c896"/><path d="M351.8 161.3 360.8 161.7 357.4 156.9 348.4 156.5Z" fill="#33c79d"/><path d="M360 161.8 369.1 162.1 365.6 157.4 356.6 157Z" fill="#31c5a1"/><path d="M368.3 162.2 377.3 162.6 373.9 157.9 364.9 157.5Z" fill="#2cc4a6"/><path d="M376.5 162.7 385.5 163 382.1 158.4 373.1 158.1Z" fill="#29c3aa"/><path d="M384.8 163.1 393.8 163.5 390.4 158.9 381.3 158.5Z" fill="#23c1af"/><path d="M393 163.6 402 163.9 398.6 159.4 389.6 159Z" fill="#1dc0b3"/><path d="M401.2 164 410.3 164.3 406.8 159.9 397.8 159.5Z" fill="#14beb8"/><path d="M409.5 164.4 418.5 164.7 415.1 160.4 406.1 160Z" fill="#0dbdbc"/><path d="M417.7 164.8 426.7 165.1 423.3 160.9 414.3 160.5Z" fill="#06bcbf"/><path d="M425.9 165.2 435 165.6 431.6 161.4 422.5 161Z" fill="#01bac4"/><path d="M434.2 165.7 443.2 166 439.8 161.8 430.8 161.5Z" fill="#00b9c7"/><path d="M442.4 166.1 451.5 166.4 448.1 162.3 439 161.9Z" fill="#02b7cc"/><path d="M450.7 166.5 459.7 166.7 456.3 162.8 447.3 162.4Z" fill="#06b5cf"/><path d="M458.9 166.8 467.9 167.1 464.5 163.3 455.5 162.9Z" fill="#0bb3d2"/><path d="M467.1 167.2 476.2 167.5 472.8 163.7 463.7 163.4Z" fill="#12b1d6"/><path d="M475.4 167.6 484.4 167.9 481 164.2 472 163.8Z" fill="#16afd9"/><path d="M483.6 168 492.7 168.3 489.3 164.6 480.2 164.3Z" fill="#19addc"/><path d="M491.8 168.4 500.9 168.6 497.5 165.1 488.4 164.7Z" fill="#1caadf"/><path d="M500.1 168.7 509.1 169 505.8 165.6 496.7 165.2Z" fill="#1da8e1"/><path d="M508.3 169.1 517.4 169.3 514 166 504.9 165.6Z" fill="#1fa6e2"/><path d="M516.6 169.4 525.6 169.7 522.2 166.5 513.2 166.1Z" fill="#22a2e4"/><path d="M132.7 151 141.7 151.6 138.3 146.3 129.3 145.7Z" fill="#f7ba3d"/><path d="M140.9 151.7 149.9 152.3 146.5 146.9 137.5 146.4Z" fill="#f1ba37"/><path d="M149.2 152.4 158.2 152.9 154.8 147.6 145.8 147Z" fill="#ecba32"/><path d="M157.4 153 166.4 153.5 163 148.2 154 147.7Z" fill="#e6bb2d"/><path d="M165.7 153.7 174.7 154.2 171.2 148.8 162.2 148.3Z" fill="#debc29"/><path d="M173.9 154.3 182.9 154.8 179.5 149.5 170.5 148.9Z" fill="#d6be27"/><path d="M182.1 154.9 191.1 155.4 187.7 150.1 178.7 149.6Z" fill="#d0bf27"/><path d="M190.4 155.5 199.4 156 195.9 150.7 187 150.2Z" fill="#c8c129"/><path d="M198.6 156.1 207.6 156.6 204.2 151.3 195.2 150.8Z" fill="#bec32d"/><path d="M206.9 156.7 215.9 157.2 212.4 151.8 203.4 151.4Z" fill="#b8c431"/><path d="M215.1 157.3 224.1 157.7 220.7 152.4 211.7 152Z" fill="#aec637"/><path d="M223.3 157.9 232.3 158.3 228.9 153 219.9 152.5Z" fill="#a7c73b"/><path d="M231.6 158.4 240.6 158.9 237.1 153.6 228.2 153.1Z" fill="#9dc943"/><path d="M239.8 159 248.8 159.4 245.4 154.1 236.4 153.7Z" fill="#93ca4b"/><path d="M248.1 159.5 257.1 159.9 253.6 154.7 244.6 154.2Z" fill="#8bcb51"/><path d="M256.3 160 265.3 160.5 261.9 155.2 252.9 154.8Z" fill="#81cc59"/><path d="M264.5 160.6 273.5 161 270.1 155.8 261.1 155.3Z" fill="#79cc5e"/><path d="M272.8 161.1 281.8 161.5 278.3 156.3 269.4 155.9Z" fill="#6ecd66"/><path d="M281 161.6 290 162 286.6 156.8 277.6 156.4Z" fill="#67cd6c"/><path d="M289.3 162.1 298.3 162.5 294.8 157.3 285.8 156.9Z" fill="#5ecd74"/><path d="M297.5 162.6 306.5 162.9 303.1 157.8 294.1 157.4Z" fill="#57cc7a"/><path d="M305.7 163 314.7 163.4 311.3 158.3 302.3 157.9Z" fill="#4ecc81"/><path d="M314 163.5 323 163.9 319.5 158.8 310.6 158.4Z" fill="#48cb86"/><path d="M322.2 164 331.2 164.3 327.8 159.3 318.8 158.9Z" fill="#40ca8d"/><path d="M330.5 164.4 339.5 164.7 336 159.8 327 159.4Z" fill="#3bc992"/><path d="M338.7 164.9 347.7 165.2 344.3 160.3 335.3 159.9Z" fill="#36c899"/><path d="M346.9 165.3 355.9 165.6 352.5 160.8 343.5 160.4Z" fill="#33c79d"/><path d="M355.2 165.7 364.2 166 360.8 161.2 351.7 160.9Z" fill="#31c5a1"/><path d="M363.4 166.1 372.4 166.4 369 161.7 360 161.3Z" fill="#2cc4a6"/><path d="M371.6 166.5 380.7 166.8 377.2 162.1 368.2 161.8Z" fill="#29c3aa"/><path d="M379.9 166.9 388.9 167.2 385.5 162.6 376.5 162.2Z" fill="#23c1af"/><path d="M388.1 167.3 397.1 167.6 393.7 163 384.7 162.7Z" fill="#1dc0b3"/><path d="M396.4 167.7 405.4 168 402 163.5 392.9 163.1Z" fill="#17bfb6"/><path d="M404.6 168.1 413.6 168.3 410.2 163.9 401.2 163.6Z" fill="#0dbdbc"/><path d="M412.8 168.4 421.9 168.7 418.4 164.3 409.4 164Z" fill="#06bcbf"/><path d="M421.1 168.8 430.1 169.1 426.7 164.7 417.7 164.4Z" fill="#02bbc2"/><path d="M429.3 169.2 438.3 169.4 434.9 165.1 425.9 164.8Z" fill="#00b9c7"/><path d="M437.5 169.5 446.6 169.7 443.2 165.5 434.1 165.2Z" fill="#01b7ca"/><path d="M445.8 169.8 454.8 170.1 451.4 166 442.4 165.7Z" fill="#04b6ce"/><path d="M454 170.2 463.1 170.4 459.6 166.4 450.6 166.1Z" fill="#08b4d1"/><path d="M462.3 170.5 471.3 170.7 467.9 166.7 458.9 166.5Z" fill="#10b2d5"/><path d="M470.5 170.8 479.5 171 476.1 167.1 467.1 166.8Z" fill="#14b0d8"/><path d="M478.7 171.1 487.8 171.3 484.4 167.5 475.3 167.2Z" fill="#17aeda"/><path d="M487 171.4 496 171.6 492.6 167.9 483.6 167.6Z" fill="#1aacdd"/><path d="M495.2 171.7 504.3 171.9 500.9 168.3 491.8 168Z" fill="#1da9e0"/><path d="M503.4 172 512.5 172.2 509.1 168.6 500 168.4Z" fill="#1ea7e1"/><path d="M511.7 172.2 520.7 172.4 517.3 169 508.3 168.7Z" fill="#20a5e3"/><path d="M519.9 172.5 529 172.7 525.6 169.4 516.5 169.1Z" fill="#22a2e4"/><path d="M136.1 155.9 145 156.5 141.6 151.1 132.6 150.5Z" fill="#f1ba37"/><path d="M144.3 156.6 153.3 157.1 149.9 151.8 140.9 151.2Z" fill="#eaba30"/><path d="M152.5 157.2 161.5 157.8 158.1 152.4 149.1 151.9Z" fill="#e3bc2b"/><path d="M160.8 157.9 169.8 158.4 166.3 153.1 157.4 152.5Z" fill="#debc29"/><path d="M169 158.6 178 159.1 174.6 153.7 165.6 153.2Z" fill="#d6be27"/><path d="M177.3 159.2 186.2 159.7 182.8 154.3 173.8 153.8Z" fill="#cec027"/><path d="M185.5 159.8 194.5 160.3 191.1 154.9 182.1 154.4Z" fill="#c5c22a"/><path d="M193.7 160.4 202.7 160.9 199.3 155.5 190.3 155Z" fill="#bec32d"/><path d="M202 161 211 161.5 207.5 156.1 198.6 155.6Z" fill="#b5c533"/><path d="M210.2 161.6 219.2 162.1 215.8 156.7 206.8 156.2Z" fill="#aec637"/><path d="M218.5 162.2 227.4 162.6 224 157.3 215 156.8Z" fill="#a4c83e"/><path d="M226.7 162.7 235.7 163.2 232.3 157.8 223.3 157.4Z" fill="#9ac946"/><path d="M234.9 163.3 243.9 163.7 240.5 158.4 231.5 157.9Z" fill="#93ca4b"/><path d="M243.2 163.8 252.2 164.2 248.7 158.9 239.8 158.5Z" fill="#88cb53"/><path d="M251.4 164.4 260.4 164.8 257 159.4 248 159Z" fill="#81cc59"/><path d="M259.7 164.9 268.6 165.3 265.2 160 256.2 159.6Z" fill="#76cc61"/><path d="M267.9 165.4 276.9 165.8 273.5 160.5 264.5 160.1Z" fill="#6ecd66"/><path d="M276.1 165.9 285.1 166.2 281.7 161 272.7 160.6Z" fill="#64cd6f"/><path d="M284.4 166.3 293.4 166.7 289.9 161.5 281 161.1Z" fill="#5ecd74"/><path d="M292.6 166.8 301.6 167.2 298.2 162 289.2 161.6Z" fill="#54cc7c"/><path d="M300.9 167.3 309.8 167.6 306.4 162.5 297.4 162.1Z" fill="#4ecc81"/><path d="M309.1 167.7 318.1 168 314.7 162.9 305.7 162.6Z" fill="#45cb89"/><path d="M317.3 168.2 326.3 168.5 322.9 163.4 313.9 163Z" fill="#40ca8d"/><path d="M325.6 168.6 334.6 168.9 331.1 163.8 322.1 163.5Z" fill="#39c994"/><path d="M333.8 169 342.8 169.3 339.4 164.3 330.4 163.9Z" fill="#36c899"/><path d="M342 169.4 351 169.7 347.6 164.7 338.6 164.4Z" fill="#33c79d"/><path d="M350.3 169.8 359.3 170.1 355.9 165.1 346.9 164.8Z" fill="#2fc5a3"/><path d="M358.5 170.2 367.5 170.4 364.1 165.6 355.1 165.3Z" fill="#2cc4a6"/><path d="M366.8 170.5 375.8 170.8 372.3 166 363.3 165.7Z" fill="#29c3aa"/><path d="M375 170.9 384 171.1 380.6 166.4 371.6 166.1Z" fill="#23c1af"/><path d="M383.2 171.2 392.2 171.5 388.8 166.8 379.8 166.5Z" fill="#1dc0b3"/><path d="M391.5 171.6 400.5 171.8 397.1 167.2 388.1 166.9Z" fill="#17bfb6"/><path d="M399.7 171.9 408.7 172.1 405.3 167.5 396.3 167.3Z" fill="#0dbdbc"/><path d="M408 172.2 417 172.4 413.6 167.9 404.5 167.6Z" fill="#06bcbf"/><path d="M416.2 172.5 425.2 172.7 421.8 168.3 412.8 168Z" fill="#02bbc2"/><path d="M424.4 172.8 433.5 173 430 168.6 421 168.4Z" fill="#00bac6"/><path d="M432.7 173.1 441.7 173.3 438.3 169 429.3 168.7Z" fill="#01b7ca"/><path d="M440.9 173.4 449.9 173.6 446.5 169.3 437.5 169.1Z" fill="#04b6ce"/><path d="M449.1 173.7 458.2 173.8 454.8 169.6 445.7 169.4Z" fill="#08b4d1"/><path d="M457.4 173.9 466.4 174.1 463 170 454 169.8Z" fill="#0eb3d4"/><path d="M465.6 174.2 474.7 174.3 471.2 170.3 462.2 170.1Z" fill="#12b1d6"/><path d="M473.9 174.4 482.9 174.5 479.5 170.6 470.4 170.4Z" fill="#16afd9"/><path d="M482.1 174.7 491.1 174.8 487.7 170.9 478.7 170.7Z" fill="#1aacdd"/><path d="M490.3 174.9 499.4 175 496 171.2 486.9 171Z" fill="#1caadf"/><path d="M498.6 175.1 507.6 175.2 504.2 171.5 495.2 171.3Z" fill="#1da8e1"/><path d="M506.8 175.3 515.9 175.4 512.5 171.8 503.4 171.6Z" fill="#1fa6e2"/><path d="M515 175.5 524.1 175.6 520.7 172.1 511.6 171.9Z" fill="#21a3e3"/><path d="M523.3 175.7 532.3 175.7 528.9 172.3 519.9 172.2Z" fill="#23a1e4"/><path d="M139.4 160.8 148.4 161.4 145 156 136 155.4Z" fill="#eaba30"/><path d="M147.7 161.5 156.6 162.1 153.2 156.7 144.2 156.1Z" fill="#e3bc2b"/><path d="M155.9 162.2 164.9 162.7 161.5 157.3 152.5 156.8Z" fill="#dbbd28"/><path d="M164.1 162.8 173.1 163.4 169.7 158 160.7 157.4Z" fill="#d3bf27"/><path d="M172.4 163.5 181.4 164 177.9 158.6 169 158.1Z" fill="#cec027"/><path d="M180.6 164.1 189.6 164.7 186.2 159.2 177.2 158.7Z" fill="#c5c22a"/><path d="M188.9 164.8 197.8 165.3 194.4 159.8 185.4 159.3Z" fill="#bbc42f"/><path d="M197.1 165.4 206.1 165.9 202.7 160.4 193.7 159.9Z" fill="#b2c635"/><path d="M205.3 166 214.3 166.4 210.9 161 201.9 160.5Z" fill="#abc739"/><path d="M213.6 166.5 222.6 167 219.1 161.6 210.2 161.1Z" fill="#a1c840"/><path d="M221.8 167.1 230.8 167.6 227.4 162.1 218.4 161.7Z" fill="#9ac946"/><path d="M230.1 167.7 239 168.1 235.6 162.7 226.6 162.2Z" fill="#8fcb4e"/><path d="M238.3 168.2 247.3 168.6 243.9 163.2 234.9 162.8Z" fill="#84cc56"/><path d="M246.5 168.7 255.5 169.1 252.1 163.8 243.1 163.3Z" fill="#7dcc5b"/><path d="M254.8 169.2 263.8 169.6 260.3 164.3 251.4 163.9Z" fill="#72cd64"/><path d="M263 169.7 272 170.1 268.6 164.8 259.6 164.4Z" fill="#6bcd69"/><path d="M271.3 170.2 280.2 170.6 276.8 165.3 267.8 164.9Z" fill="#61cd72"/><path d="M279.5 170.7 288.5 171 285.1 165.7 276.1 165.4Z" fill="#5acc77"/><path d="M287.7 171.2 296.7 171.5 293.3 166.2 284.3 165.9Z" fill="#51cc7f"/><path d="M296 171.6 305 171.9 301.5 166.7 292.5 166.3Z" fill="#4bcb84"/><path d="M304.2 172 313.2 172.3 309.8 167.1 300.8 166.8Z" fill="#45cb89"/><path d="M312.5 172.4 321.4 172.7 318 167.6 309 167.2Z" fill="#3dca90"/><path d="M320.7 172.9 329.7 173.1 326.3 168 317.3 167.7Z" fill="#39c994"/><path d="M328.9 173.2 337.9 173.5 334.5 168.4 325.5 168.1Z" fill="#35c79b"/><path d="M337.2 173.6 346.2 173.9 342.7 168.8 333.7 168.5Z" fill="#32c69f"/><path d="M345.4 174 354.4 174.2 351 169.2 342 168.9Z" fill="#2fc5a3"/><path d="M353.6 174.3 362.6 174.6 359.2 169.6 350.2 169.3Z" fill="#2bc3a8"/><path d="M361.9 174.7 370.9 174.9 367.5 170 358.5 169.7Z" fill="#27c2ac"/><path d="M370.1 175 379.1 175.2 375.7 170.3 366.7 170.1Z" fill="#23c1af"/><path d="M378.4 175.3 387.4 175.5 383.9 170.7 374.9 170.4Z" fill="#1dc0b3"/><path d="M386.6 175.6 395.6 175.8 392.2 171 383.2 170.8Z" fill="#14beb8"/><path d="M394.8 175.9 403.8 176.1 400.4 171.4 391.4 171.1Z" fill="#0dbdbc"/><path d="M403.1 176.2 412.1 176.3 408.7 171.7 399.7 171.5Z" fill="#06bcbf"/><path d="M411.3 176.4 420.3 176.6 416.9 172 407.9 171.8Z" fill="#02bbc2"/><path d="M419.6 176.7 428.6 176.8 425.1 172.3 416.1 172.1Z" fill="#00bac6"/><path d="M427.8 176.9 436.8 177 433.4 172.6 424.4 172.4Z" fill="#01b7ca"/><path d="M436 177.2 445 177.3 441.6 172.9 432.6 172.7Z" fill="#04b6ce"/><path d="M444.3 177.4 453.3 177.5 449.9 173.1 440.8 173Z" fill="#08b4d1"/><path d="M452.5 177.6 461.5 177.7 458.1 173.4 449.1 173.3Z" fill="#0eb3d4"/><path d="M460.7 177.8 469.8 177.8 466.4 173.7 457.3 173.5Z" fill="#12b1d6"/><path d="M469 178 478 178 474.6 173.9 465.6 173.8Z" fill="#16afd9"/><path d="M477.2 178.1 486.2 178.2 482.8 174.2 473.8 174Z" fill="#19addc"/><path d="M485.5 178.3 494.5 178.3 491.1 174.4 482 174.3Z" fill="#1babde"/><path d="M493.7 178.4 502.7 178.4 499.3 174.6 490.3 174.5Z" fill="#1da9e0"/><path d="M501.9 178.6 511 178.6 507.6 174.8 498.5 174.7Z" fill="#1ea7e1"/><path d="M510.2 178.7 519.2 178.7 515.8 175 506.8 174.9Z" fill="#20a5e3"/><path d="M518.4 178.8 527.5 178.8 524 175.2 515 175.1Z" fill="#22a2e4"/><path d="M526.6 178.9 535.7 178.9 532.3 175.4 523.2 175.3Z" fill="#23a0e5"/><path d="M142.8 165.7 151.8 166.4 148.3 160.9 139.4 160.3Z" fill="#e1bc2a"/><path d="M151 166.5 160 167 156.6 161.6 147.6 161Z" fill="#d9be28"/><path d="M159.3 167.1 168.2 167.7 164.8 162.2 155.8 161.7Z" fill="#d3bf27"/><path d="M167.5 167.8 176.5 168.4 173.1 162.9 164.1 162.3Z" fill="#cbc128"/><path d="M175.7 168.5 184.7 169 181.3 163.5 172.3 163Z" fill="#c2c32c"/><path d="M184 169.1 193 169.7 189.5 164.2 180.6 163.6Z" fill="#b8c431"/><path d="M192.2 169.8 201.2 170.3 197.8 164.8 188.8 164.3Z" fill="#b2c635"/><path d="M200.5 170.4 209.4 170.9 206 165.4 197 164.9Z" fill="#a7c73b"/><path d="M208.7 171 217.7 171.4 214.2 165.9 205.3 165.5Z" fill="#9dc943"/><path d="M216.9 171.5 225.9 172 222.5 166.5 213.5 166.1Z" fill="#96ca48"/><path d="M225.2 172.1 234.2 172.5 230.7 167.1 221.7 166.6Z" fill="#8bcb51"/><path d="M233.4 172.6 242.4 173.1 239 167.6 230 167.2Z" fill="#84cc56"/><path d="M241.7 173.2 250.6 173.6 247.2 168.1 238.2 167.7Z" fill="#79cc5e"/><path d="M249.9 173.7 258.9 174.1 255.4 168.6 246.5 168.2Z" fill="#6ecd66"/><path d="M258.1 174.2 267.1 174.6 263.7 169.1 254.7 168.8Z" fill="#67cd6c"/><path d="M266.4 174.7 275.4 175 271.9 169.6 262.9 169.3Z" fill="#5ecd74"/><path d="M274.6 175.1 283.6 175.5 280.2 170.1 271.2 169.7Z" fill="#57cc7a"/><path d="M282.9 175.6 291.8 175.9 288.4 170.6 279.4 170.2Z" fill="#51cc7f"/><path d="M291.1 176 300.1 176.3 296.6 171 287.7 170.7Z" fill="#48cb86"/><path d="M299.3 176.4 308.3 176.7 304.9 171.4 295.9 171.1Z" fill="#42ca8b"/><path d="M307.6 176.8 316.6 177.1 313.1 171.9 304.1 171.5Z" fill="#3bc992"/><path d="M315.8 177.2 324.8 177.5 321.4 172.3 312.4 172Z" fill="#38c896"/><path d="M324.1 177.6 333 177.8 329.6 172.6 320.6 172.4Z" fill="#35c79b"/><path d="M332.3 178 341.3 178.2 337.8 173 328.9 172.8Z" fill="#31c5a1"/><path d="M340.5 178.3 349.5 178.5 346.1 173.4 337.1 173.1Z" fill="#2ec4a5"/><path d="M348.8 178.6 357.8 178.8 354.3 173.8 345.3 173.5Z" fill="#2bc3a8"/><path d="M357 178.9 366 179.1 362.6 174.1 353.6 173.9Z" fill="#27c2ac"/><path d="M365.2 179.2 374.2 179.4 370.8 174.4 361.8 174.2Z" fill="#20c1b1"/><path d="M373.5 179.5 382.5 179.7 379 174.7 370.1 174.5Z" fill="#1ac0b5"/><path d="M381.7 179.8 390.7 179.9 387.3 175 378.3 174.9Z" fill="#14beb8"/><path d="M390 180.1 399 180.2 395.5 175.3 386.5 175.2Z" fill="#0dbdbc"/><path d="M398.2 180.3 407.2 180.4 403.8 175.6 394.8 175.5Z" fill="#06bcbf"/><path d="M406.4 180.5 415.4 180.6 412 175.9 403 175.7Z" fill="#01bac4"/><path d="M414.7 180.7 423.7 180.8 420.3 176.1 411.2 176Z" fill="#00b9c7"/><path d="M422.9 180.9 431.9 181 428.5 176.4 419.5 176.3Z" fill="#01b7ca"/><path d="M431.2 181.1 440.2 181.1 436.7 176.6 427.7 176.5Z" fill="#04b6ce"/><path d="M439.4 181.3 448.4 181.3 445 176.8 436 176.7Z" fill="#08b4d1"/><path d="M447.6 181.4 456.6 181.4 453.2 177 444.2 177Z" fill="#0eb3d4"/><path d="M455.9 181.6 464.9 181.6 461.5 177.2 452.4 177.2Z" fill="#12b1d6"/><path d="M464.1 181.7 473.1 181.7 469.7 177.4 460.7 177.4Z" fill="#16afd9"/><path d="M472.3 181.8 481.4 181.8 477.9 177.6 468.9 177.5Z" fill="#19addc"/><path d="M480.6 181.9 489.6 181.8 486.2 177.8 477.2 177.7Z" fill="#1babde"/><path d="M488.8 182 497.8 181.9 494.4 177.9 485.4 177.9Z" fill="#1da9e0"/><path d="M497.1 182 506.1 182 502.7 178 493.6 178Z" fill="#1da8e1"/><path d="M505.3 182.1 514.3 182 510.9 178.2 501.9 178.2Z" fill="#1fa6e2"/><path d="M513.5 182.1 522.6 182 519.2 178.3 510.1 178.3Z" fill="#21a3e3"/><path d="M521.8 182.2 530.8 182.1 527.4 178.4 518.3 178.4Z" fill="#23a1e4"/><path d="M530 182.2 539 182.1 535.6 178.5 526.6 178.5Z" fill="#249fe5"/><path d="M146.1 170.7 155.1 171.4 151.7 165.9 142.7 165.2Z" fill="#d9be28"/><path d="M154.4 171.5 163.4 172.1 159.9 166.6 151 166Z" fill="#d0bf27"/><path d="M162.6 172.2 171.6 172.7 168.2 167.2 159.2 166.7Z" fill="#c8c129"/><path d="M170.9 172.9 179.8 173.4 176.4 167.9 167.4 167.3Z" fill="#bec32d"/><path d="M179.1 173.5 188.1 174.1 184.6 168.5 175.7 168Z" fill="#b8c431"/><path d="M187.3 174.2 196.3 174.7 192.9 169.2 183.9 168.6Z" fill="#aec637"/><path d="M195.6 174.8 204.6 175.3 201.1 169.8 192.1 169.3Z" fill="#a4c83e"/><path d="M203.8 175.4 212.8 175.9 209.4 170.4 200.4 169.9Z" fill="#9ac946"/><path d="M212.1 176 221 176.5 217.6 170.9 208.6 170.5Z" fill="#93ca4b"/><path d="M220.3 176.6 229.3 177 225.8 171.5 216.9 171Z" fill="#88cb53"/><path d="M228.5 177.1 237.5 177.6 234.1 172 225.1 171.6Z" fill="#81cc59"/><path d="M236.8 177.7 245.8 178.1 242.3 172.6 233.3 172.2Z" fill="#76cc61"/><path d="M245 178.2 254 178.6 250.6 173.1 241.6 172.7Z" fill="#6ecd66"/><path d="M253.3 178.7 262.2 179.1 258.8 173.6 249.8 173.2Z" fill="#64cd6f"/><path d="M261.5 179.2 270.5 179.5 267 174.1 258.1 173.7Z" fill="#5acc77"/><path d="M269.7 179.7 278.7 180 275.3 174.5 266.3 174.2Z" fill="#54cc7c"/><path d="M278 180.1 287 180.4 283.5 175 274.5 174.6Z" fill="#4ecc81"/><path d="M286.2 180.5 295.2 180.8 291.8 175.4 282.8 175.1Z" fill="#45cb89"/><path d="M294.5 180.9 303.4 181.2 300 175.8 291 175.5Z" fill="#40ca8d"/><path d="M302.7 181.3 311.7 181.6 308.2 176.2 299.3 176Z" fill="#39c994"/><path d="M310.9 181.7 319.9 182 316.5 176.6 307.5 176.4Z" fill="#36c899"/><path d="M319.2 182.1 328.2 182.3 324.7 177 315.7 176.8Z" fill="#33c79d"/><path d="M327.4 182.4 336.4 182.6 333 177.4 324 177.1Z" fill="#2fc5a3"/><path d="M335.6 182.7 344.6 182.9 341.2 177.7 332.2 177.5Z" fill="#2cc4a6"/><path d="M343.9 183.1 352.9 183.2 349.4 178 340.5 177.8Z" fill="#29c3aa"/><path d="M352.1 183.3 361.1 183.5 357.7 178.4 348.7 178.2Z" fill="#25c2ae"/><path d="M360.4 183.6 369.4 183.7 365.9 178.7 356.9 178.5Z" fill="#20c1b1"/><path d="M368.6 183.9 377.6 184 374.2 178.9 365.2 178.8Z" fill="#17bfb6"/><path d="M376.8 184.1 385.8 184.2 382.4 179.2 373.4 179.1Z" fill="#10beba"/><path d="M385.1 184.3 394.1 184.4 390.6 179.5 381.6 179.3Z" fill="#09bdbd"/><path d="M393.3 184.5 402.3 184.6 398.9 179.7 389.9 179.6Z" fill="#04bbc1"/><path d="M401.6 184.7 410.6 184.8 407.1 179.9 398.1 179.8Z" fill="#01bac4"/><path d="M409.8 184.9 418.8 184.9 415.4 180.1 406.4 180.1Z" fill="#00b9c7"/><path d="M418 185.1 427 185.1 423.6 180.3 414.6 180.3Z" fill="#01b7ca"/><path d="M426.3 185.2 435.3 185.2 431.8 180.5 422.8 180.5Z" fill="#04b6ce"/><path d="M434.5 185.3 443.5 185.3 440.1 180.7 431.1 180.7Z" fill="#08b4d1"/><path d="M442.7 185.4 451.8 185.4 448.3 180.9 439.3 180.8Z" fill="#0eb3d4"/><path d="M451 185.5 460 185.5 456.6 181 447.6 181Z" fill="#12b1d6"/><path d="M459.2 185.6 468.2 185.5 464.8 181.1 455.8 181.1Z" fill="#16afd9"/><path d="M467.5 185.6 476.5 185.6 473.1 181.2 464 181.3Z" fill="#19addc"/><path d="M475.7 185.7 484.7 185.6 481.3 181.3 472.3 181.4Z" fill="#1babde"/><path d="M483.9 185.7 493 185.6 489.5 181.4 480.5 181.5Z" fill="#1caadf"/><path d="M492.2 185.7 501.2 185.6 497.8 181.5 488.8 181.6Z" fill="#1da8e1"/><path d="M500.4 185.7 509.4 185.6 506 181.6 497 181.6Z" fill="#1fa6e2"/><path d="M508.7 185.7 517.7 185.5 514.3 181.6 505.2 181.7Z" fill="#21a3e3"/><path d="M516.9 185.7 525.9 185.5 522.5 181.7 513.5 181.7Z" fill="#23a1e4"/><path d="M525.1 185.6 534.2 185.4 530.7 181.7 521.7 181.8Z" fill="#23a0e5"/><path d="M533.4 185.5 542.4 185.3 539 181.7 529.9 181.8Z" fill="#249ee6"/><path d="M149.5 175.8 158.5 176.4 155 170.9 146.1 170.2Z" fill="#cec027"/><path d="M157.7 176.5 166.7 177.1 163.3 171.6 154.3 171Z" fill="#c5c22a"/><path d="M166 177.2 174.9 177.8 171.5 172.3 162.5 171.7Z" fill="#bec32d"/><path d="M174.2 177.9 183.2 178.5 179.8 172.9 170.8 172.4Z" fill="#b5c533"/><path d="M182.5 178.6 191.4 179.2 188 173.6 179 173Z" fill="#abc739"/><path d="M190.7 179.3 199.7 179.8 196.2 174.2 187.3 173.7Z" fill="#a1c840"/><path d="M198.9 179.9 207.9 180.4 204.5 174.8 195.5 174.3Z" fill="#9ac946"/><path d="M207.2 180.5 216.1 181 212.7 175.4 203.7 174.9Z" fill="#8fcb4e"/><path d="M215.4 181.1 224.4 181.6 221 176 212 175.5Z" fill="#84cc56"/><path d="M223.7 181.7 232.6 182.1 229.2 176.5 220.2 176.1Z" fill="#7dcc5b"/><path d="M231.9 182.2 240.9 182.6 237.4 177.1 228.5 176.6Z" fill="#72cd64"/><path d="M240.1 182.8 249.1 183.2 245.7 177.6 236.7 177.2Z" fill="#67cd6c"/><path d="M248.4 183.3 257.3 183.6 253.9 178.1 244.9 177.7Z" fill="#61cd72"/><path d="M256.6 183.8 265.6 184.1 262.2 178.6 253.2 178.2Z" fill="#57cc7a"/><path d="M264.9 184.2 273.8 184.6 270.4 179 261.4 178.7Z" fill="#51cc7f"/><path d="M273.1 184.7 282.1 185 278.6 179.5 269.7 179.2Z" fill="#4bcb84"/><path d="M281.3 185.1 290.3 185.4 286.9 179.9 277.9 179.6Z" fill="#42ca8b"/><path d="M289.6 185.5 298.5 185.8 295.1 180.3 286.1 180Z" fill="#3dca90"/><path d="M297.8 185.9 306.8 186.2 303.4 180.7 294.4 180.5Z" fill="#38c896"/><path d="M306.1 186.3 315 186.5 311.6 181.1 302.6 180.8Z" fill="#35c79b"/><path d="M314.3 186.6 323.3 186.8 319.8 181.5 310.9 181.2Z" fill="#32c69f"/><path d="M322.5 187 331.5 187.2 328.1 181.8 319.1 181.6Z" fill="#2ec4a5"/><path d="M330.8 187.3 339.7 187.5 336.3 182.1 327.3 181.9Z" fill="#2bc3a8"/><path d="M339 187.6 348 187.7 344.6 182.4 335.6 182.3Z" fill="#27c2ac"/><path d="M347.2 187.8 356.2 188 352.8 182.7 343.8 182.6Z" fill="#23c1af"/><path d="M355.5 188.1 364.5 188.2 361 183 352 182.9Z" fill="#1dc0b3"/><path d="M363.7 188.3 372.7 188.4 369.3 183.3 360.3 183.1Z" fill="#17bfb6"/><path d="M372 188.6 381 188.6 377.5 183.5 368.5 183.4Z" fill="#0dbdbc"/><path d="M380.2 188.7 389.2 188.8 385.8 183.7 376.8 183.6Z" fill="#06bcbf"/><path d="M388.4 188.9 397.4 189 394 183.9 385 183.9Z" fill="#02bbc2"/><path d="M396.7 189.1 405.7 189.1 402.2 184.1 393.2 184.1Z" fill="#00bac6"/><path d="M404.9 189.2 413.9 189.2 410.5 184.3 401.5 184.3Z" fill="#00b8c9"/><path d="M413.2 189.3 422.2 189.3 418.7 184.5 409.7 184.4Z" fill="#02b7cc"/><path d="M421.4 189.4 430.4 189.4 427 184.6 418 184.6Z" fill="#06b5cf"/><path d="M429.6 189.5 438.6 189.5 435.2 184.7 426.2 184.7Z" fill="#0bb3d2"/><path d="M437.9 189.6 446.9 189.5 443.4 184.8 434.4 184.9Z" fill="#0eb3d4"/><path d="M446.1 189.6 455.1 189.5 451.7 184.9 442.7 185Z" fill="#12b1d6"/><path d="M454.3 189.7 463.4 189.5 459.9 185 450.9 185.1Z" fill="#16afd9"/><path d="M462.6 189.7 471.6 189.5 468.2 185.1 459.2 185.2Z" fill="#19addc"/><path d="M470.8 189.7 479.8 189.5 476.4 185.1 467.4 185.2Z" fill="#1babde"/><path d="M479.1 189.6 488.1 189.5 484.6 185.2 475.6 185.3Z" fill="#1da9e0"/><path d="M487.3 189.6 496.3 189.4 492.9 185.2 483.9 185.3Z" fill="#1da8e1"/><path d="M495.5 189.5 504.6 189.3 501.1 185.2 492.1 185.3Z" fill="#1fa6e2"/><path d="M503.8 189.5 512.8 189.2 509.4 185.2 500.3 185.3Z" fill="#21a3e3"/><path d="M512 189.4 521 189.1 517.6 185.1 508.6 185.3Z" fill="#22a2e4"/><path d="M520.2 189.2 529.3 189 525.9 185.1 516.8 185.3Z" fill="#23a0e5"/><path d="M528.5 189.1 537.5 188.8 534.1 185 525.1 185.2Z" fill="#249ee6"/><path d="M536.7 188.9 545.8 188.6 542.3 184.9 533.3 185.1Z" fill="#259ce7"/><path d="M152.8 180.8 161.8 181.5 158.4 175.9 149.4 175.3Z" fill="#c5c22a"/><path d="M161.1 181.6 170.1 182.2 166.6 176.6 157.7 176Z" fill="#bbc42f"/><path d="M169.3 182.3 178.3 182.9 174.9 177.3 165.9 176.7Z" fill="#b2c635"/><path d="M177.6 183 186.5 183.6 183.1 178 174.1 177.4Z" fill="#a7c73b"/><path d="M185.8 183.7 194.8 184.3 191.4 178.6 182.4 178.1Z" fill="#9dc943"/><path d="M194 184.4 203 184.9 199.6 179.3 190.6 178.8Z" fill="#96ca48"/><path d="M202.3 185 211.3 185.5 207.8 179.9 198.9 179.4Z" fill="#8bcb51"/><path d="M210.5 185.6 219.5 186.1 216.1 180.5 207.1 180Z" fill="#81cc59"/><path d="M218.8 186.2 227.7 186.7 224.3 181.1 215.3 180.6Z" fill="#79cc5e"/><path d="M227 186.8 236 187.2 232.6 181.6 223.6 181.2Z" fill="#6ecd66"/><path d="M235.3 187.4 244.2 187.8 240.8 182.1 231.8 181.7Z" fill="#64cd6f"/><path d="M243.5 187.9 252.5 188.3 249 182.7 240.1 182.3Z" fill="#5ecd74"/><path d="M251.7 188.4 260.7 188.8 257.3 183.1 248.3 182.8Z" fill="#54cc7c"/><path d="M260 188.9 268.9 189.2 265.5 183.6 256.5 183.3Z" fill="#4ecc81"/><path d="M268.2 189.3 277.2 189.6 273.7 184.1 264.8 183.7Z" fill="#45cb89"/><path d="M276.5 189.8 285.4 190.1 282 184.5 273 184.2Z" fill="#40ca8d"/><path d="M284.7 190.2 293.7 190.4 290.2 184.9 281.3 184.6Z" fill="#3bc992"/><path d="M292.9 190.6 301.9 190.8 298.5 185.3 289.5 185Z" fill="#36c899"/><path d="M301.2 190.9 310.1 191.2 306.7 185.7 297.7 185.4Z" fill="#33c79d"/><path d="M309.4 191.3 318.4 191.5 314.9 186 306 185.8Z" fill="#31c5a1"/><path d="M317.6 191.6 326.6 191.8 323.2 186.4 314.2 186.1Z" fill="#2cc4a6"/><path d="M325.9 191.9 334.9 192.1 331.4 186.7 322.4 186.5Z" fill="#29c3aa"/><path d="M334.1 192.2 343.1 192.3 339.7 187 330.7 186.8Z" fill="#25c2ae"/><path d="M342.4 192.5 351.3 192.6 347.9 187.2 338.9 187.1Z" fill="#20c1b1"/><path d="M350.6 192.7 359.6 192.8 356.1 187.5 347.2 187.4Z" fill="#1ac0b5"/><path d="M358.8 192.9 367.8 193 364.4 187.7 355.4 187.6Z" fill="#10beba"/><path d="M367.1 193.1 376.1 193.2 372.6 187.9 363.6 187.9Z" fill="#09bdbd"/><path d="M375.3 193.3 384.3 193.3 380.9 188.1 371.9 188.1Z" fill="#04bbc1"/><path d="M383.6 193.4 392.5 193.4 389.1 188.3 380.1 188.3Z" fill="#01bac4"/><path d="M391.8 193.6 400.8 193.6 397.3 188.5 388.4 188.5Z" fill="#00b9c7"/><path d="M400 193.7 409 193.6 405.6 188.6 396.6 188.6Z" fill="#01b7ca"/><path d="M408.3 193.8 417.3 193.7 413.8 188.7 404.8 188.8Z" fill="#04b6ce"/><path d="M416.5 193.8 425.5 193.8 422.1 188.9 413.1 188.9Z" fill="#06b5cf"/><path d="M424.8 193.9 433.7 193.8 430.3 188.9 421.3 189Z" fill="#0bb3d2"/><path d="M433 193.9 442 193.8 438.6 189 429.6 189.1Z" fill="#10b2d5"/><path d="M441.2 193.9 450.2 193.8 446.8 189.1 437.8 189.1Z" fill="#14b0d8"/><path d="M449.5 193.9 458.5 193.7 455 189.1 446 189.2Z" fill="#17aeda"/><path d="M457.7 193.9 466.7 193.7 463.3 189.1 454.3 189.2Z" fill="#19addc"/><path d="M465.9 193.8 475 193.6 471.5 189.1 462.5 189.2Z" fill="#1babde"/><path d="M474.2 193.8 483.2 193.5 479.8 189.1 470.7 189.2Z" fill="#1da9e0"/><path d="M482.4 193.7 491.4 193.4 488 189 479 189.2Z" fill="#1ea7e1"/><path d="M490.7 193.5 499.7 193.3 496.2 189 487.2 189.2Z" fill="#1fa6e2"/><path d="M498.9 193.4 507.9 193.1 504.5 188.9 495.5 189.1Z" fill="#21a3e3"/><path d="M507.1 193.3 516.2 192.9 512.7 188.8 503.7 189Z" fill="#22a2e4"/><path d="M515.4 193.1 524.4 192.7 521 188.7 511.9 188.9Z" fill="#23a0e5"/><path d="M523.6 192.9 532.6 192.5 529.2 188.6 520.2 188.8Z" fill="#249fe5"/><path d="M531.8 192.7 540.9 192.3 537.4 188.4 528.4 188.7Z" fill="#259ce7"/><path d="M540.1 192.4 549.1 192 545.7 188.3 536.7 188.6Z" fill="#259be8"/><path d="M156.2 186 165.2 186.6 161.8 181 152.8 180.3Z" fill="#b8c431"/><path d="M164.4 186.7 173.4 187.4 170 181.7 161 181.1Z" fill="#aec637"/><path d="M172.7 187.5 181.7 188.1 178.2 182.4 169.3 181.8Z" fill="#a4c83e"/><path d="M180.9 188.2 189.9 188.8 186.5 183.1 177.5 182.5Z" fill="#9dc943"/><path d="M189.2 188.9 198.1 189.5 194.7 183.8 185.7 183.2Z" fill="#93ca4b"/><path d="M197.4 189.6 206.4 190.1 202.9 184.4 194 183.9Z" fill="#88cb53"/><path d="M205.6 190.2 214.6 190.7 211.2 185 202.2 184.5Z" fill="#7dcc5b"/><path d="M213.9 190.8 222.9 191.3 219.4 185.6 210.5 185.1Z" fill="#76cc61"/><path d="M222.1 191.4 231.1 191.9 227.7 186.2 218.7 185.7Z" fill="#6bcd69"/><path d="M230.4 192 239.3 192.4 235.9 186.7 226.9 186.3Z" fill="#61cd72"/><path d="M238.6 192.5 247.6 192.9 244.1 187.3 235.2 186.8Z" fill="#5acc77"/><path d="M246.8 193.1 255.8 193.4 252.4 187.8 243.4 187.4Z" fill="#51cc7f"/><path d="M255.1 193.5 264.1 193.9 260.6 188.2 251.7 187.9Z" fill="#4bcb84"/><path d="M263.3 194 272.3 194.3 268.9 188.7 259.9 188.4Z" fill="#42ca8b"/><path d="M271.6 194.5 280.5 194.8 277.1 189.1 268.1 188.8Z" fill="#3dca90"/><path d="M279.8 194.9 288.8 195.2 285.3 189.6 276.4 189.3Z" fill="#38c896"/><path d="M288 195.3 297 195.5 293.6 189.9 284.6 189.7Z" fill="#35c79b"/><path d="M296.3 195.7 305.3 195.9 301.8 190.3 292.8 190.1Z" fill="#32c69f"/><path d="M304.5 196 313.5 196.2 310.1 190.7 301.1 190.4Z" fill="#2ec4a5"/><path d="M312.8 196.3 321.7 196.5 318.3 191 309.3 190.8Z" fill="#2bc3a8"/><path d="M321 196.6 330 196.8 326.5 191.3 317.6 191.1Z" fill="#27c2ac"/><path d="M329.2 196.9 338.2 197 334.8 191.6 325.8 191.4Z" fill="#23c1af"/><path d="M337.5 197.2 346.5 197.3 343 191.8 334 191.7Z" fill="#1ac0b5"/><path d="M345.7 197.4 354.7 197.5 351.3 192.1 342.3 192Z" fill="#14beb8"/><path d="M354 197.6 362.9 197.7 359.5 192.3 350.5 192.2Z" fill="#0dbdbc"/><path d="M362.2 197.8 371.2 197.8 367.7 192.5 358.8 192.4Z" fill="#06bcbf"/><path d="M370.4 197.9 379.4 197.9 376 192.7 367 192.6Z" fill="#02bbc2"/><path d="M378.7 198.1 387.7 198.1 384.2 192.8 375.2 192.8Z" fill="#00bac6"/><path d="M386.9 198.2 395.9 198.1 392.5 193 383.5 193Z" fill="#00b8c9"/><path d="M395.2 198.3 404.1 198.2 400.7 193.1 391.7 193.1Z" fill="#02b7cc"/><path d="M403.4 198.3 412.4 198.3 408.9 193.2 400 193.2Z" fill="#06b5cf"/><path d="M411.6 198.4 420.6 198.3 417.2 193.2 408.2 193.3Z" fill="#08b4d1"/><path d="M419.9 198.4 428.9 198.3 425.4 193.3 416.4 193.4Z" fill="#0eb3d4"/><path d="M428.1 198.4 437.1 198.2 433.7 193.3 424.7 193.4Z" fill="#12b1d6"/><path d="M436.4 198.4 445.3 198.2 441.9 193.3 432.9 193.5Z" fill="#16afd9"/><path d="M444.6 198.3 453.6 198.1 450.1 193.3 441.1 193.5Z" fill="#19addc"/><path d="M452.8 198.3 461.8 198 458.4 193.3 449.4 193.5Z" fill="#1aacdd"/><path d="M461.1 198.2 470.1 197.9 466.6 193.2 457.6 193.4Z" fill="#1caadf"/><path d="M469.3 198 478.3 197.8 474.9 193.2 465.9 193.4Z" fill="#1da8e1"/><path d="M477.5 197.9 486.5 197.6 483.1 193.1 474.1 193.3Z" fill="#1ea7e1"/><path d="M485.8 197.7 494.8 197.4 491.3 193 482.3 193.2Z" fill="#20a5e3"/><path d="M494 197.6 503 197.2 499.6 192.8 490.6 193.1Z" fill="#21a3e3"/><path d="M502.3 197.4 511.3 197 507.8 192.7 498.8 193Z" fill="#23a1e4"/><path d="M510.5 197.1 519.5 196.7 516.1 192.5 507.1 192.8Z" fill="#23a0e5"/><path d="M518.7 196.9 527.8 196.4 524.3 192.3 515.3 192.7Z" fill="#249ee6"/><path d="M527 196.6 536 196.1 532.6 192.1 523.5 192.5Z" fill="#259ce7"/><path d="M535.2 196.3 544.2 195.8 540.8 191.9 531.8 192.3Z" fill="#259be8"/><path d="M543.4 196 552.5 195.5 549 191.6 540 192Z" fill="#2699e9"/><path d="M159.6 191.1 168.5 191.8 165.1 186.1 156.1 185.4Z" fill="#abc739"/><path d="M167.8 191.9 176.8 192.6 173.4 186.9 164.4 186.2Z" fill="#a4c83e"/><path d="M176 192.7 185 193.3 181.6 187.6 172.6 187Z" fill="#9ac946"/><path d="M184.3 193.4 193.3 194 189.8 188.3 180.9 187.7Z" fill="#8fcb4e"/><path d="M192.5 194.1 201.5 194.7 198.1 188.9 189.1 188.4Z" fill="#84cc56"/><path d="M200.8 194.8 209.7 195.3 206.3 189.6 197.3 189Z" fill="#79cc5e"/><path d="M209 195.4 218 195.9 214.5 190.2 205.6 189.7Z" fill="#6ecd66"/><path d="M217.2 196 226.2 196.5 222.8 190.8 213.8 190.3Z" fill="#67cd6c"/><path d="M225.5 196.6 234.5 197.1 231 191.4 222.1 190.9Z" fill="#5ecd74"/><path d="M233.7 197.2 242.7 197.6 239.3 191.9 230.3 191.5Z" fill="#57cc7a"/><path d="M242 197.8 250.9 198.2 247.5 192.4 238.5 192Z" fill="#4ecc81"/><path d="M250.2 198.3 259.2 198.6 255.7 192.9 246.8 192.5Z" fill="#45cb89"/><path d="M258.4 198.8 267.4 199.1 264 193.4 255 193Z" fill="#40ca8d"/><path d="M266.7 199.2 275.7 199.5 272.2 193.8 263.2 193.5Z" fill="#39c994"/><path d="M274.9 199.7 283.9 199.9 280.5 194.3 271.5 194Z" fill="#36c899"/><path d="M283.2 200.1 292.1 200.3 288.7 194.7 279.7 194.4Z" fill="#33c79d"/><path d="M291.4 200.4 300.4 200.7 296.9 195 288 194.8Z" fill="#2fc5a3"/><path d="M299.6 200.8 308.6 201 305.2 195.4 296.2 195.2Z" fill="#2cc4a6"/><path d="M307.9 201.1 316.9 201.3 313.4 195.7 304.4 195.5Z" fill="#29c3aa"/><path d="M316.1 201.4 325.1 201.6 321.7 196 312.7 195.8Z" fill="#23c1af"/><path d="M324.4 201.7 333.3 201.8 329.9 196.3 320.9 196.1Z" fill="#1dc0b3"/><path d="M332.6 202 341.6 202.1 338.1 196.5 329.2 196.4Z" fill="#17bfb6"/><path d="M340.8 202.2 349.8 202.3 346.4 196.8 337.4 196.7Z" fill="#10beba"/><path d="M349.1 202.4 358.1 202.4 354.6 197 345.6 196.9Z" fill="#09bdbd"/><path d="M357.3 202.6 366.3 202.6 362.9 197.2 353.9 197.1Z" fill="#04bbc1"/><path d="M365.6 202.7 374.5 202.7 371.1 197.3 362.1 197.3Z" fill="#01bac4"/><path d="M373.8 202.8 382.8 202.8 379.3 197.5 370.4 197.5Z" fill="#00b9c7"/><path d="M382 202.9 391 202.9 387.6 197.6 378.6 197.6Z" fill="#01b7ca"/><path d="M390.3 203 399.3 202.9 395.8 197.7 386.8 197.7Z" fill="#04b6ce"/><path d="M398.5 203 407.5 202.9 404.1 197.7 395.1 197.8Z" fill="#08b4d1"/><path d="M406.8 203.1 415.7 202.9 412.3 197.8 403.3 197.9Z" fill="#0eb3d4"/><path d="M415 203.1 424 202.9 420.5 197.8 411.5 197.9Z" fill="#10b2d5"/><path d="M423.2 203 432.2 202.8 428.8 197.8 419.8 197.9Z" fill="#14b0d8"/><path d="M431.5 203 440.5 202.7 437 197.8 428 197.9Z" fill="#17aeda"/><path d="M439.7 202.9 448.7 202.6 445.3 197.7 436.3 197.9Z" fill="#1aacdd"/><path d="M448 202.8 456.9 202.5 453.5 197.7 444.5 197.9Z" fill="#1babde"/><path d="M456.2 202.7 465.2 202.4 461.7 197.6 452.7 197.8Z" fill="#1da9e0"/><path d="M464.4 202.5 473.4 202.2 470 197.4 461 197.7Z" fill="#1da8e1"/><path d="M472.7 202.3 481.7 202 478.2 197.3 469.2 197.6Z" fill="#1fa6e2"/><path d="M480.9 202.1 489.9 201.7 486.5 197.2 477.5 197.5Z" fill="#20a5e3"/><path d="M489.1 201.9 498.1 201.5 494.7 197 485.7 197.3Z" fill="#22a2e4"/><path d="M497.4 201.6 506.4 201.2 502.9 196.8 493.9 197.1Z" fill="#23a1e4"/><path d="M505.6 201.4 514.6 200.9 511.2 196.5 502.2 196.9Z" fill="#249fe5"/><path d="M513.9 201.1 522.9 200.6 519.4 196.3 510.4 196.7Z" fill="#249ee6"/><path d="M522.1 200.7 531.1 200.2 527.7 196 518.6 196.5Z" fill="#259ce7"/><path d="M530.3 200.4 539.3 199.8 535.9 195.7 526.9 196.2Z" fill="#269ae8"/><path d="M538.6 200 547.6 199.4 544.1 195.4 535.1 195.9Z" fill="#2699e9"/><path d="M546.8 199.6 555.8 199 552.4 195.1 543.4 195.6Z" fill="#2798ea"/><path d="M162.9 196.3 171.9 197 168.5 191.3 159.5 190.6Z" fill="#a1c840"/><path d="M171.2 197.1 180.1 197.8 176.7 192.1 167.7 191.4Z" fill="#96ca48"/><path d="M179.4 197.9 188.4 198.5 184.9 192.8 176 192.1Z" fill="#8bcb51"/><path d="M187.6 198.6 196.6 199.2 193.2 193.5 184.2 192.9Z" fill="#81cc59"/><path d="M195.9 199.3 204.8 199.9 201.4 194.2 192.5 193.6Z" fill="#76cc61"/><path d="M204.1 200 213.1 200.6 209.7 194.8 200.7 194.3Z" fill="#6bcd69"/><path d="M212.4 200.7 221.3 201.2 217.9 195.4 208.9 194.9Z" fill="#64cd6f"/><path d="M220.6 201.3 229.6 201.8 226.1 196 217.2 195.5Z" fill="#5acc77"/><path d="M228.8 201.9 237.8 202.4 234.4 196.6 225.4 196.1Z" fill="#51cc7f"/><path d="M237.1 202.5 246 202.9 242.6 197.1 233.6 196.7Z" fill="#4bcb84"/><path d="M245.3 203 254.3 203.4 250.9 197.6 241.9 197.2Z" fill="#42ca8b"/><path d="M253.6 203.5 262.5 203.9 259.1 198.1 250.1 197.8Z" fill="#3dca90"/><path d="M261.8 204 270.8 204.4 267.3 198.6 258.4 198.2Z" fill="#38c896"/><path d="M270 204.5 279 204.8 275.6 199 266.6 198.7Z" fill="#35c79b"/><path d="M278.3 204.9 287.2 205.2 283.8 199.4 274.8 199.1Z" fill="#31c5a1"/><path d="M286.5 205.3 295.5 205.5 292 199.8 283.1 199.6Z" fill="#2ec4a5"/><path d="M294.8 205.7 303.7 205.9 300.3 200.2 291.3 199.9Z" fill="#2bc3a8"/><path d="M303 206 312 206.2 308.5 200.5 299.6 200.3Z" fill="#25c2ae"/><path d="M311.2 206.3 320.2 206.5 316.8 200.8 307.8 200.6Z" fill="#20c1b1"/><path d="M319.5 206.6 328.4 206.7 325 201.1 316 200.9Z" fill="#1ac0b5"/><path d="M327.7 206.8 336.7 206.9 333.2 201.3 324.3 201.2Z" fill="#14beb8"/><path d="M336 207.1 344.9 207.1 341.5 201.6 332.5 201.5Z" fill="#0dbdbc"/><path d="M344.2 207.3 353.2 207.3 349.7 201.8 340.8 201.7Z" fill="#04bbc1"/><path d="M352.4 207.4 361.4 207.4 358 201.9 349 201.9Z" fill="#01bac4"/><path d="M360.7 207.6 369.7 207.6 366.2 202.1 357.2 202.1Z" fill="#00b9c7"/><path d="M368.9 207.7 377.9 207.6 374.4 202.2 365.5 202.2Z" fill="#01b7ca"/><path d="M377.2 207.8 386.1 207.7 382.7 202.3 373.7 202.3Z" fill="#02b7cc"/><path d="M385.4 207.8 394.4 207.7 390.9 202.4 381.9 202.4Z" fill="#06b5cf"/><path d="M393.6 207.9 402.6 207.7 399.2 202.4 390.2 202.5Z" fill="#0bb3d2"/><path d="M401.9 207.9 410.9 207.7 407.4 202.4 398.4 202.6Z" fill="#10b2d5"/><path d="M410.1 207.8 419.1 207.6 415.6 202.4 406.7 202.6Z" fill="#14b0d8"/><path d="M418.4 207.8 427.3 207.6 423.9 202.4 414.9 202.6Z" fill="#16afd9"/><path d="M426.6 207.7 435.6 207.5 432.1 202.4 423.1 202.6Z" fill="#19addc"/><path d="M434.8 207.6 443.8 207.3 440.4 202.3 431.4 202.5Z" fill="#1babde"/><path d="M443.1 207.5 452.1 207.2 448.6 202.2 439.6 202.4Z" fill="#1caadf"/><path d="M451.3 207.3 460.3 207 456.8 202 447.9 202.3Z" fill="#1da8e1"/><path d="M459.5 207.1 468.5 206.7 465.1 201.9 456.1 202.2Z" fill="#1ea7e1"/><path d="M467.8 206.9 476.8 206.5 473.3 201.7 464.3 202Z" fill="#20a5e3"/><path d="M476 206.7 485 206.2 481.6 201.5 472.6 201.9Z" fill="#21a3e3"/><path d="M484.3 206.4 493.3 205.9 489.8 201.3 480.8 201.7Z" fill="#23a1e4"/><path d="M492.5 206.1 501.5 205.6 498.1 201 489.1 201.4Z" fill="#23a0e5"/><path d="M500.7 205.8 509.7 205.3 506.3 200.8 497.3 201.2Z" fill="#249ee6"/><path d="M509 205.4 518 204.9 514.5 200.5 505.5 200.9Z" fill="#259ce7"/><path d="M517.2 205.1 526.2 204.5 522.8 200.1 513.8 200.6Z" fill="#259be8"/><path d="M525.5 204.7 534.5 204.1 531 199.8 522 200.3Z" fill="#269ae8"/><path d="M533.7 204.2 542.7 203.6 539.3 199.4 530.2 200Z" fill="#2699e9"/><path d="M541.9 203.8 550.9 203.1 547.5 199 538.5 199.6Z" fill="#2797eb"/><path d="M550.2 203.3 559.2 202.6 555.7 198.6 546.7 199.2Z" fill="#2895ec"/><path d="M166.3 201.5 175.2 202.3 171.8 196.5 162.9 195.8Z" fill="#93ca4b"/><path d="M174.5 202.4 183.5 203.1 180.1 197.3 171.1 196.6Z" fill="#88cb53"/><path d="M182.8 203.2 191.7 203.8 188.3 198 179.3 197.4Z" fill="#7dcc5b"/><path d="M191 203.9 200 204.5 196.5 198.7 187.6 198.1Z" fill="#72cd64"/><path d="M199.2 204.6 208.2 205.2 204.8 199.4 195.8 198.8Z" fill="#67cd6c"/><path d="M207.5 205.3 216.4 205.9 213 200.1 204 199.5Z" fill="#5ecd74"/><path d="M215.7 206 224.7 206.5 221.3 200.7 212.3 200.2Z" fill="#57cc7a"/><path d="M224 206.6 232.9 207.1 229.5 201.3 220.5 200.8Z" fill="#4ecc81"/><path d="M232.2 207.2 241.2 207.7 237.7 201.9 228.8 201.4Z" fill="#45cb89"/><path d="M240.4 207.8 249.4 208.2 246 202.4 237 202Z" fill="#40ca8d"/><path d="M248.7 208.3 257.6 208.7 254.2 202.9 245.2 202.5Z" fill="#39c994"/><path d="M256.9 208.8 265.9 209.2 262.4 203.4 253.5 203Z" fill="#36c899"/><path d="M265.2 209.3 274.1 209.7 270.7 203.8 261.7 203.5Z" fill="#32c69f"/><path d="M273.4 209.8 282.4 210.1 278.9 204.3 270 204Z" fill="#2fc5a3"/><path d="M281.6 210.2 290.6 210.4 287.2 204.7 278.2 204.4Z" fill="#2bc3a8"/><path d="M289.9 210.6 298.8 210.8 295.4 205 286.4 204.8Z" fill="#27c2ac"/><path d="M298.1 210.9 307.1 211.1 303.6 205.4 294.7 205.1Z" fill="#23c1af"/><path d="M306.4 211.2 315.3 211.4 311.9 205.7 302.9 205.5Z" fill="#1ac0b5"/><path d="M314.6 211.5 323.6 211.7 320.1 206 311.2 205.8Z" fill="#14beb8"/><path d="M322.8 211.8 331.8 211.9 328.4 206.2 319.4 206.1Z" fill="#0dbdbc"/><path d="M331.1 212 340 212.1 336.6 206.4 327.6 206.3Z" fill="#06bcbf"/><path d="M339.3 212.2 348.3 212.3 344.8 206.6 335.9 206.6Z" fill="#02bbc2"/><path d="M347.6 212.4 356.5 212.4 353.1 206.8 344.1 206.8Z" fill="#00bac6"/><path d="M355.8 212.5 364.8 212.5 361.3 206.9 352.4 206.9Z" fill="#00b8c9"/><path d="M364 212.6 373 212.6 369.6 207.1 360.6 207.1Z" fill="#02b7cc"/><path d="M372.3 212.7 381.2 212.6 377.8 207.1 368.8 207.2Z" fill="#06b5cf"/><path d="M380.5 212.8 389.5 212.6 386 207.2 377.1 207.3Z" fill="#0bb3d2"/><path d="M388.8 212.8 397.7 212.6 394.3 207.2 385.3 207.3Z" fill="#10b2d5"/><path d="M397 212.8 406 212.6 402.5 207.2 393.5 207.4Z" fill="#12b1d6"/><path d="M405.2 212.7 414.2 212.5 410.8 207.2 401.8 207.4Z" fill="#16afd9"/><path d="M413.5 212.7 422.4 212.4 419 207.2 410 207.4Z" fill="#19addc"/><path d="M421.7 212.6 430.7 212.3 427.2 207.1 418.3 207.3Z" fill="#1babde"/><path d="M430 212.4 438.9 212.1 435.5 207 426.5 207.2Z" fill="#1caadf"/><path d="M438.2 212.3 447.2 211.9 443.7 206.8 434.7 207.1Z" fill="#1da8e1"/><path d="M446.4 212.1 455.4 211.7 452 206.7 443 207Z" fill="#1ea7e1"/><path d="M454.7 211.9 463.7 211.5 460.2 206.5 451.2 206.8Z" fill="#20a5e3"/><path d="M462.9 211.6 471.9 211.2 468.4 206.3 459.5 206.7Z" fill="#21a3e3"/><path d="M471.1 211.4 480.1 210.9 476.7 206 467.7 206.4Z" fill="#23a1e4"/><path d="M479.4 211.1 488.4 210.6 484.9 205.8 475.9 206.2Z" fill="#23a0e5"/><path d="M487.6 210.7 496.6 210.2 493.2 205.5 484.2 205.9Z" fill="#249fe5"/><path d="M495.9 210.4 504.9 209.8 501.4 205.2 492.4 205.7Z" fill="#259ce7"/><path d="M504.1 210 513.1 209.4 509.6 204.8 500.6 205.3Z" fill="#259be8"/><path d="M512.3 209.6 521.3 208.9 517.9 204.4 508.9 205Z" fill="#269ae8"/><path d="M520.6 209.1 529.6 208.5 526.1 204.1 517.1 204.6Z" fill="#2699e9"/><path d="M528.8 208.6 537.8 208 534.4 203.6 525.4 204.2Z" fill="#2798ea"/><path d="M537.1 208.1 546.1 207.4 542.6 203.2 533.6 203.8Z" fill="#2797eb"/><path d="M545.3 207.6 554.3 206.9 550.8 202.7 541.8 203.4Z" fill="#2895ec"/><path d="M553.5 207 562.5 206.3 559.1 202.2 550.1 202.9Z" fill="#2994ed"/><path d="M169.6 206.8 178.6 207.6 175.2 201.8 166.2 201Z" fill="#84cc56"/><path d="M177.9 207.7 186.8 208.4 183.4 202.5 174.4 201.9Z" fill="#79cc5e"/><path d="M186.1 208.5 195.1 209.1 191.7 203.3 182.7 202.6Z" fill="#6ecd66"/><path d="M194.4 209.2 203.3 209.9 199.9 204 190.9 203.4Z" fill="#64cd6f"/><path d="M202.6 210 211.6 210.6 208.1 204.7 199.2 204.1Z" fill="#5acc77"/><path d="M210.8 210.7 219.8 211.3 216.4 205.4 207.4 204.8Z" fill="#54cc7c"/><path d="M219.1 211.4 228 211.9 224.6 206 215.6 205.5Z" fill="#4bcb84"/><path d="M227.3 212 236.3 212.5 232.8 206.6 223.9 206.1Z" fill="#42ca8b"/><path d="M235.6 212.6 244.5 213.1 241.1 207.2 232.1 206.7Z" fill="#3bc992"/><path d="M243.8 213.2 252.8 213.6 249.3 207.7 240.4 207.3Z" fill="#38c896"/><path d="M252 213.7 261 214.1 257.6 208.2 248.6 207.8Z" fill="#33c79d"/><path d="M260.3 214.2 269.2 214.6 265.8 208.7 256.8 208.3Z" fill="#31c5a1"/><path d="M268.5 214.7 277.5 215 274 209.1 265.1 208.8Z" fill="#2cc4a6"/><path d="M276.8 215.1 285.7 215.4 282.3 209.5 273.3 209.3Z" fill="#29c3aa"/><path d="M285 215.5 294 215.8 290.5 209.9 281.6 209.7Z" fill="#23c1af"/><path d="M293.2 215.9 302.2 216.1 298.8 210.3 289.8 210.1Z" fill="#1dc0b3"/><path d="M301.5 216.2 310.4 216.4 307 210.6 298 210.4Z" fill="#17bfb6"/><path d="M309.7 216.5 318.7 216.7 315.2 210.9 306.3 210.7Z" fill="#10beba"/><path d="M318 216.8 326.9 216.9 323.5 211.2 314.5 211Z" fill="#06bcbf"/><path d="M326.2 217 335.2 217.1 331.7 211.4 322.8 211.3Z" fill="#02bbc2"/><path d="M334.4 217.3 343.4 217.3 340 211.6 331 211.5Z" fill="#00bac6"/><path d="M342.7 217.4 351.6 217.4 348.2 211.8 339.2 211.7Z" fill="#00b8c9"/><path d="M350.9 217.6 359.9 217.5 356.4 211.9 347.5 211.9Z" fill="#02b7cc"/><path d="M359.2 217.7 368.1 217.6 364.7 212 355.7 212Z" fill="#06b5cf"/><path d="M367.4 217.8 376.4 217.7 372.9 212.1 363.9 212.1Z" fill="#0bb3d2"/><path d="M375.6 217.8 384.6 217.7 381.1 212.1 372.2 212.2Z" fill="#10b2d5"/><path d="M383.9 217.8 392.8 217.7 389.4 212.1 380.4 212.3Z" fill="#12b1d6"/><path d="M392.1 217.8 401.1 217.6 397.6 212.1 388.7 212.3Z" fill="#16afd9"/><path d="M400.4 217.8 409.3 217.5 405.9 212.1 396.9 212.3Z" fill="#19addc"/><path d="M408.6 217.7 417.6 217.4 414.1 212 405.1 212.2Z" fill="#1babde"/><path d="M416.8 217.6 425.8 217.3 422.3 211.9 413.4 212.2Z" fill="#1caadf"/><path d="M425.1 217.4 434 217.1 430.6 211.8 421.6 212.1Z" fill="#1da8e1"/><path d="M433.3 217.2 442.3 216.9 438.8 211.7 429.9 212Z" fill="#1ea7e1"/><path d="M441.6 217 450.5 216.6 447.1 211.5 438.1 211.8Z" fill="#20a5e3"/><path d="M449.8 216.8 458.8 216.4 455.3 211.3 446.3 211.6Z" fill="#21a3e3"/><path d="M458 216.5 467 216.1 463.6 211 454.6 211.4Z" fill="#23a1e4"/><path d="M466.3 216.2 475.2 215.7 471.8 210.7 462.8 211.2Z" fill="#23a0e5"/><path d="M474.5 215.9 483.5 215.4 480 210.4 471 210.9Z" fill="#249fe5"/><path d="M482.7 215.5 491.7 215 488.3 210.1 479.3 210.6Z" fill="#259ce7"/><path d="M491 215.1 500 214.5 496.5 209.7 487.5 210.3Z" fill="#259be8"/><path d="M499.2 214.7 508.2 214.1 504.8 209.4 495.8 209.9Z" fill="#269ae8"/><path d="M507.5 214.2 516.5 213.6 513 208.9 504 209.5Z" fill="#2699e9"/><path d="M515.7 213.8 524.7 213.1 521.2 208.5 512.2 209.1Z" fill="#2798ea"/><path d="M523.9 213.2 532.9 212.5 529.5 208 520.5 208.7Z" fill="#2797eb"/><path d="M532.2 212.7 541.2 211.9 537.7 207.5 528.7 208.2Z" fill="#2895ec"/><path d="M540.4 212.1 549.4 211.3 546 207 537 207.7Z" fill="#2994ed"/><path d="M548.7 211.5 557.7 210.7 554.2 206.4 545.2 207.2Z" fill="#2a93ee"/><path d="M556.9 210.8 565.9 210 562.4 205.9 553.4 206.6Z" fill="#2b91ef"/><path d="M173 212.1 182 212.9 178.5 207.1 169.6 206.3Z" fill="#76cc61"/><path d="M181.2 213 190.2 213.7 186.8 207.9 177.8 207.1Z" fill="#6bcd69"/><path d="M189.5 213.8 198.4 214.5 195 208.6 186 208Z" fill="#61cd72"/><path d="M197.7 214.6 206.7 215.3 203.2 209.4 194.3 208.7Z" fill="#57cc7a"/><path d="M206 215.4 214.9 216 211.5 210.1 202.5 209.5Z" fill="#4ecc81"/><path d="M214.2 216.1 223.2 216.6 219.7 210.7 210.8 210.2Z" fill="#48cb86"/><path d="M222.4 216.8 231.4 217.3 228 211.4 219 210.8Z" fill="#40ca8d"/><path d="M230.7 217.4 239.6 217.9 236.2 212 227.2 211.5Z" fill="#39c994"/><path d="M238.9 218 247.9 218.5 244.4 212.5 235.5 212.1Z" fill="#35c79b"/><path d="M247.2 218.6 256.1 219 252.7 213.1 243.7 212.6Z" fill="#32c69f"/><path d="M255.4 219.1 264.4 219.5 260.9 213.6 252 213.2Z" fill="#2ec4a5"/><path d="M263.6 219.6 272.6 220 269.2 214 260.2 213.7Z" fill="#2bc3a8"/><path d="M271.9 220.1 280.8 220.4 277.4 214.5 268.4 214.2Z" fill="#25c2ae"/><path d="M280.1 220.5 289.1 220.8 285.6 214.9 276.7 214.6Z" fill="#20c1b1"/><path d="M288.4 220.9 297.3 221.1 293.9 215.2 284.9 215Z" fill="#17bfb6"/><path d="M296.6 221.3 305.6 221.5 302.1 215.6 293.2 215.4Z" fill="#10beba"/><path d="M304.8 221.6 313.8 221.7 310.3 215.9 301.4 215.7Z" fill="#09bdbd"/><path d="M313.1 221.9 322 222 318.6 216.2 309.6 216Z" fill="#04bbc1"/><path d="M321.3 222.1 330.3 222.2 326.8 216.4 317.9 216.3Z" fill="#00bac6"/><path d="M329.6 222.4 338.5 222.4 335.1 216.6 326.1 216.5Z" fill="#00b8c9"/><path d="M337.8 222.5 346.8 222.6 343.3 216.8 334.3 216.7Z" fill="#02b7cc"/><path d="M346 222.7 355 222.7 351.5 216.9 342.6 216.9Z" fill="#06b5cf"/><path d="M354.3 222.8 363.2 222.7 359.8 217 350.8 217.1Z" fill="#0bb3d2"/><path d="M362.5 222.9 371.5 222.8 368 217.1 359.1 217.2Z" fill="#10b2d5"/><path d="M370.8 222.9 379.7 222.8 376.3 217.2 367.3 217.3Z" fill="#12b1d6"/><path d="M379 222.9 388 222.8 384.5 217.2 375.5 217.3Z" fill="#16afd9"/><path d="M387.2 222.9 396.2 222.7 392.7 217.2 383.8 217.3Z" fill="#19addc"/><path d="M395.5 222.9 404.4 222.6 401 217.1 392 217.3Z" fill="#1babde"/><path d="M403.7 222.8 412.7 222.5 409.2 217 400.3 217.3Z" fill="#1caadf"/><path d="M412 222.7 420.9 222.3 417.5 216.9 408.5 217.2Z" fill="#1da8e1"/><path d="M420.2 222.5 429.2 222.2 425.7 216.8 416.7 217.1Z" fill="#1fa6e2"/><path d="M428.4 222.3 437.4 221.9 433.9 216.6 425 216.9Z" fill="#20a5e3"/><path d="M436.7 222.1 445.6 221.7 442.2 216.4 433.2 216.8Z" fill="#22a2e4"/><path d="M444.9 221.8 453.9 221.4 450.4 216.1 441.4 216.5Z" fill="#23a1e4"/><path d="M453.2 221.5 462.1 221 458.7 215.9 449.7 216.3Z" fill="#23a0e5"/><path d="M461.4 221.2 470.4 220.7 466.9 215.6 457.9 216Z" fill="#249ee6"/><path d="M469.6 220.9 478.6 220.3 475.1 215.2 466.2 215.7Z" fill="#259ce7"/><path d="M477.9 220.5 486.8 219.9 483.4 214.9 474.4 215.4Z" fill="#259be8"/><path d="M486.1 220 495.1 219.4 491.6 214.5 482.6 215.1Z" fill="#269ae8"/><path d="M494.3 219.6 503.3 218.9 499.9 214.1 490.9 214.7Z" fill="#2798ea"/><path d="M502.6 219.1 511.6 218.4 508.1 213.6 499.1 214.2Z" fill="#2797eb"/><path d="M510.8 218.6 519.8 217.8 516.3 213.1 507.4 213.8Z" fill="#2895ec"/><path d="M519.1 218 528 217.2 524.6 212.6 515.6 213.3Z" fill="#2994ed"/><path d="M527.3 217.4 536.3 216.6 532.8 212.1 523.8 212.8Z" fill="#2a93ee"/><path d="M535.5 216.8 544.5 216 541.1 211.5 532.1 212.2Z" fill="#2a93ee"/><path d="M543.8 216.1 552.8 215.3 549.3 210.9 540.3 211.7Z" fill="#2b91ef"/><path d="M552 215.4 561 214.5 557.6 210.2 548.5 211.1Z" fill="#2c90f0"/><path d="M560.2 214.7 569.3 213.8 565.8 209.6 556.8 210.4Z" fill="#2c8ff1"/><path d="M176.3 217.5 185.3 218.3 181.9 212.4 172.9 211.6Z" fill="#67cd6c"/><path d="M184.6 218.4 193.5 219.1 190.1 213.2 181.2 212.5Z" fill="#5ecd74"/><path d="M192.8 219.2 201.8 219.9 198.4 214 189.4 213.3Z" fill="#54cc7c"/><path d="M201.1 220 210 220.7 206.6 214.7 197.6 214.1Z" fill="#4bcb84"/><path d="M209.3 220.8 218.3 221.4 214.8 215.5 205.9 214.8Z" fill="#42ca8b"/><path d="M217.5 221.5 226.5 222.1 223.1 216.1 214.1 215.6Z" fill="#3bc992"/><path d="M225.8 222.2 234.7 222.7 231.3 216.8 222.4 216.2Z" fill="#38c896"/><path d="M234 222.8 243 223.3 239.6 217.4 230.6 216.9Z" fill="#33c79d"/><path d="M242.3 223.5 251.2 223.9 247.8 217.9 238.8 217.5Z" fill="#2fc5a3"/><path d="M250.5 224 259.5 224.4 256 218.5 247.1 218.1Z" fill="#2cc4a6"/><path d="M258.8 224.6 267.7 224.9 264.3 219 255.3 218.6Z" fill="#27c2ac"/><path d="M267 225.1 275.9 225.4 272.5 219.4 263.6 219.1Z" fill="#23c1af"/><path d="M275.2 225.5 284.2 225.8 280.7 219.9 271.8 219.6Z" fill="#1ac0b5"/><path d="M283.5 225.9 292.4 226.2 289 220.3 280 220Z" fill="#14beb8"/><path d="M291.7 226.3 300.7 226.6 297.2 220.6 288.3 220.4Z" fill="#09bdbd"/><path d="M300 226.7 308.9 226.9 305.5 220.9 296.5 220.7Z" fill="#04bbc1"/><path d="M308.2 227 317.2 227.1 313.7 221.2 304.7 221.1Z" fill="#01bac4"/><path d="M316.4 227.3 325.4 227.4 321.9 221.5 313 221.4Z" fill="#00b9c7"/><path d="M324.7 227.5 333.6 227.6 330.2 221.7 321.2 221.6Z" fill="#01b7ca"/><path d="M332.9 227.7 341.9 227.7 338.4 221.9 329.5 221.8Z" fill="#06b5cf"/><path d="M341.2 227.9 350.1 227.9 346.7 222 337.7 222Z" fill="#0bb3d2"/><path d="M349.4 228 358.4 227.9 354.9 222.2 345.9 222.2Z" fill="#10b2d5"/><path d="M357.6 228.1 366.6 228 363.1 222.2 354.2 222.3Z" fill="#14b0d8"/><path d="M365.9 228.1 374.8 228 371.4 222.3 362.4 222.4Z" fill="#16afd9"/><path d="M374.1 228.2 383.1 228 379.6 222.3 370.7 222.4Z" fill="#19addc"/><path d="M382.4 228.1 391.3 227.9 387.9 222.3 378.9 222.4Z" fill="#1babde"/><path d="M390.6 228.1 399.6 227.8 396.1 222.2 387.1 222.4Z" fill="#1da9e0"/><path d="M398.8 228 407.8 227.7 404.3 222.1 395.4 222.4Z" fill="#1da8e1"/><path d="M407.1 227.9 416 227.5 412.6 222 403.6 222.3Z" fill="#1fa6e2"/><path d="M415.3 227.7 424.3 227.3 420.8 221.8 411.9 222.2Z" fill="#21a3e3"/><path d="M423.6 227.5 432.5 227.1 429.1 221.7 420.1 222Z" fill="#22a2e4"/><path d="M431.8 227.3 440.8 226.8 437.3 221.4 428.3 221.8Z" fill="#23a1e4"/><path d="M440 227 449 226.5 445.5 221.2 436.6 221.6Z" fill="#249fe5"/><path d="M448.3 226.7 457.2 226.2 453.8 220.9 444.8 221.3Z" fill="#249ee6"/><path d="M456.5 226.3 465.5 225.8 462 220.6 453 221.1Z" fill="#259be8"/><path d="M464.7 226 473.7 225.4 470.3 220.2 461.3 220.7Z" fill="#269ae8"/><path d="M473 225.5 482 224.9 478.5 219.8 469.5 220.4Z" fill="#2699e9"/><path d="M481.2 225.1 490.2 224.4 486.7 219.4 477.8 220Z" fill="#2798ea"/><path d="M489.5 224.6 498.4 223.9 495 218.9 486 219.6Z" fill="#2797eb"/><path d="M497.7 224.1 506.7 223.4 503.2 218.4 494.2 219.1Z" fill="#2895ec"/><path d="M505.9 223.5 514.9 222.8 511.5 217.9 502.5 218.6Z" fill="#2994ed"/><path d="M514.2 222.9 523.2 222.1 519.7 217.4 510.7 218.1Z" fill="#2a93ee"/><path d="M522.4 222.3 531.4 221.5 527.9 216.8 519 217.6Z" fill="#2b91ef"/><path d="M530.7 221.7 539.6 220.8 536.2 216.2 527.2 217Z" fill="#2c90f0"/><path d="M538.9 221 547.9 220 544.4 215.5 535.4 216.3Z" fill="#2c8ff1"/><path d="M547.1 220.2 556.1 219.3 552.7 214.8 543.7 215.7Z" fill="#2c8ff1"/><path d="M555.4 219.5 564.4 218.5 560.9 214.1 551.9 215Z" fill="#2d8ef2"/><path d="M563.6 218.7 572.6 217.6 569.1 213.4 560.1 214.3Z" fill="#2d8cf3"/><path d="M179.7 222.9 188.7 223.7 185.2 217.8 176.3 217Z" fill="#5acc77"/><path d="M187.9 223.8 196.9 224.6 193.5 218.6 184.5 217.9Z" fill="#51cc7f"/><path d="M196.2 224.7 205.1 225.4 201.7 219.4 192.8 218.7Z" fill="#48cb86"/><path d="M204.4 225.5 213.4 226.1 210 220.2 201 219.5Z" fill="#40ca8d"/><path d="M212.7 226.2 221.6 226.9 218.2 220.9 209.2 220.3Z" fill="#39c994"/><path d="M220.9 227 229.9 227.6 226.4 221.6 217.5 221Z" fill="#35c79b"/><path d="M229.1 227.7 238.1 228.2 234.7 222.2 225.7 221.7Z" fill="#32c69f"/><path d="M237.4 228.3 246.3 228.8 242.9 222.8 234 222.3Z" fill="#2ec4a5"/><path d="M245.6 228.9 254.6 229.4 251.1 223.4 242.2 222.9Z" fill="#29c3aa"/><path d="M253.9 229.5 262.8 229.9 259.4 223.9 250.4 223.5Z" fill="#25c2ae"/><path d="M262.1 230.1 271.1 230.4 267.6 224.4 258.7 224Z" fill="#1dc0b3"/><path d="M270.4 230.6 279.3 230.9 275.9 224.9 266.9 224.5Z" fill="#14beb8"/><path d="M278.6 231 287.5 231.3 284.1 225.3 275.1 225Z" fill="#0dbdbc"/><path d="M286.8 231.4 295.8 231.7 292.3 225.7 283.4 225.4Z" fill="#06bcbf"/><path d="M295.1 231.8 304 232 300.6 226 291.6 225.8Z" fill="#01bac4"/><path d="M303.3 232.1 312.3 232.3 308.8 226.3 299.9 226.2Z" fill="#00b9c7"/><path d="M311.6 232.4 320.5 232.6 317.1 226.6 308.1 226.5Z" fill="#01b7ca"/><path d="M319.8 232.7 328.7 232.8 325.3 226.8 316.3 226.7Z" fill="#04b6ce"/><path d="M328 232.9 337 233 333.5 227 324.6 227Z" fill="#0bb3d2"/><path d="M336.3 233.1 345.2 233.1 341.8 227.2 332.8 227.2Z" fill="#10b2d5"/><path d="M344.5 233.3 353.5 233.2 350 227.3 341.1 227.3Z" fill="#14b0d8"/><path d="M352.8 233.4 361.7 233.3 358.3 227.4 349.3 227.5Z" fill="#17aeda"/><path d="M361 233.4 369.9 233.3 366.5 227.5 357.5 227.6Z" fill="#19addc"/><path d="M369.2 233.4 378.2 233.3 374.7 227.5 365.8 227.6Z" fill="#1babde"/><path d="M377.5 233.4 386.4 233.2 383 227.5 374 227.6Z" fill="#1da9e0"/><path d="M385.7 233.4 394.7 233.1 391.2 227.4 382.3 227.6Z" fill="#1ea7e1"/><path d="M394 233.3 402.9 233 399.4 227.3 390.5 227.6Z" fill="#1fa6e2"/><path d="M402.2 233.2 411.2 232.8 407.7 227.2 398.7 227.5Z" fill="#21a3e3"/><path d="M410.4 233 419.4 232.6 415.9 227 407 227.4Z" fill="#23a1e4"/><path d="M418.7 232.8 427.6 232.4 424.2 226.8 415.2 227.2Z" fill="#23a0e5"/><path d="M426.9 232.6 435.9 232.1 432.4 226.6 423.4 227Z" fill="#249ee6"/><path d="M435.2 232.3 444.1 231.8 440.6 226.3 431.7 226.8Z" fill="#259ce7"/><path d="M443.4 232 452.4 231.4 448.9 226 439.9 226.5Z" fill="#259be8"/><path d="M451.6 231.6 460.6 231 457.1 225.7 448.2 226.2Z" fill="#2699e9"/><path d="M459.9 231.2 468.8 230.6 465.4 225.3 456.4 225.9Z" fill="#2798ea"/><path d="M468.1 230.8 477.1 230.1 473.6 224.9 464.6 225.5Z" fill="#2797eb"/><path d="M476.3 230.3 485.3 229.6 481.8 224.4 472.9 225.1Z" fill="#2895ec"/><path d="M484.6 229.8 493.6 229.1 490.1 224 481.1 224.6Z" fill="#2994ed"/><path d="M492.8 229.3 501.8 228.5 498.3 223.4 489.4 224.1Z" fill="#2a93ee"/><path d="M501.1 228.7 510 227.9 506.6 222.9 497.6 223.6Z" fill="#2b91ef"/><path d="M509.3 228.1 518.3 227.2 514.8 222.3 505.8 223.1Z" fill="#2c90f0"/><path d="M517.5 227.4 526.5 226.5 523 221.7 514.1 222.5Z" fill="#2c8ff1"/><path d="M525.8 226.7 534.8 225.8 531.3 221 522.3 221.9Z" fill="#2d8ef2"/><path d="M534 226 543 225 539.5 220.3 530.5 221.2Z" fill="#2d8ef2"/><path d="M542.3 225.2 551.2 224.2 547.8 219.6 538.8 220.5Z" fill="#2d8cf3"/><path d="M550.5 224.4 559.5 223.4 556 218.8 547 219.8Z" fill="#2d8bf4"/><path d="M558.7 223.6 567.7 222.5 564.3 218 555.3 219Z" fill="#2d8bf4"/><path d="M567 222.7 576 221.6 572.5 217.2 563.5 218.2Z" fill="#2d8af5"/><path d="M183.1 228.3 192 229.2 188.6 223.2 179.6 222.4Z" fill="#4ecc81"/><path d="M191.3 229.3 200.3 230 196.8 224 187.9 223.3Z" fill="#45cb89"/><path d="M199.5 230.1 208.5 230.9 205.1 224.8 196.1 224.1Z" fill="#3dca90"/><path d="M207.8 231 216.7 231.7 213.3 225.6 204.4 224.9Z" fill="#38c896"/><path d="M216 231.8 225 232.4 221.5 226.4 212.6 225.7Z" fill="#33c79d"/><path d="M224.3 232.5 233.2 233.1 229.8 227 220.8 226.5Z" fill="#2fc5a3"/><path d="M232.5 233.2 241.5 233.8 238 227.7 229.1 227.1Z" fill="#2bc3a8"/><path d="M240.7 233.9 249.7 234.4 246.3 228.3 237.3 227.8Z" fill="#27c2ac"/><path d="M249 234.5 257.9 235 254.5 228.9 245.5 228.4Z" fill="#20c1b1"/><path d="M257.2 235.1 266.2 235.5 262.7 229.4 253.8 229Z" fill="#17bfb6"/><path d="M265.5 235.6 274.4 236 271 229.9 262 229.5Z" fill="#10beba"/><path d="M273.7 236.1 282.7 236.4 279.2 230.4 270.3 230Z" fill="#06bcbf"/><path d="M281.9 236.5 290.9 236.8 287.5 230.8 278.5 230.5Z" fill="#02bbc2"/><path d="M290.2 237 299.1 237.2 295.7 231.2 286.7 230.9Z" fill="#00b9c7"/><path d="M298.4 237.3 307.4 237.5 303.9 231.5 295 231.3Z" fill="#01b7ca"/><path d="M306.7 237.7 315.6 237.8 312.2 231.8 303.2 231.6Z" fill="#04b6ce"/><path d="M314.9 237.9 323.9 238.1 320.4 232 311.5 231.9Z" fill="#08b4d1"/><path d="M323.2 238.2 332.1 238.3 328.6 232.3 319.7 232.2Z" fill="#10b2d5"/><path d="M331.4 238.4 340.3 238.4 336.9 232.4 327.9 232.4Z" fill="#14b0d8"/><path d="M339.6 238.6 348.6 238.5 345.1 232.6 336.2 232.6Z" fill="#17aeda"/><path d="M347.9 238.7 356.8 238.6 353.4 232.7 344.4 232.7Z" fill="#1aacdd"/><path d="M356.1 238.8 365.1 238.7 361.6 232.8 352.7 232.8Z" fill="#1caadf"/><path d="M364.4 238.8 373.3 238.7 369.8 232.8 360.9 232.9Z" fill="#1da9e0"/><path d="M372.6 238.8 381.5 238.6 378.1 232.8 369.1 232.9Z" fill="#1ea7e1"/><path d="M380.8 238.8 389.8 238.5 386.3 232.7 377.4 232.9Z" fill="#20a5e3"/><path d="M389.1 238.7 398 238.4 394.6 232.6 385.6 232.9Z" fill="#22a2e4"/><path d="M397.3 238.6 406.3 238.2 402.8 232.5 393.8 232.8Z" fill="#23a1e4"/><path d="M405.6 238.4 414.5 238 411 232.3 402.1 232.7Z" fill="#249fe5"/><path d="M413.8 238.2 422.7 237.8 419.3 232.1 410.3 232.5Z" fill="#249ee6"/><path d="M422 237.9 431 237.5 427.5 231.9 418.6 232.3Z" fill="#259be8"/><path d="M430.3 237.7 439.2 237.2 435.8 231.6 426.8 232.1Z" fill="#269ae8"/><path d="M438.5 237.3 447.5 236.8 444 231.3 435 231.8Z" fill="#2699e9"/><path d="M446.7 237 455.7 236.4 452.2 230.9 443.3 231.5Z" fill="#2797eb"/><path d="M455 236.6 463.9 236 460.5 230.5 451.5 231.1Z" fill="#2895ec"/><path d="M463.2 236.1 472.2 235.5 468.7 230.1 459.8 230.7Z" fill="#2994ed"/><path d="M471.5 235.6 480.4 234.9 477 229.6 468 230.3Z" fill="#2a93ee"/><path d="M479.7 235.1 488.7 234.4 485.2 229.1 476.2 229.8Z" fill="#2b91ef"/><path d="M487.9 234.6 496.9 233.8 493.4 228.6 484.5 229.3Z" fill="#2c90f0"/><path d="M496.2 233.9 505.2 233.1 501.7 228 492.7 228.8Z" fill="#2c8ff1"/><path d="M504.4 233.3 513.4 232.4 509.9 227.4 500.9 228.2Z" fill="#2d8ef2"/><path d="M512.7 232.6 521.6 231.7 518.2 226.7 509.2 227.6Z" fill="#2d8cf3"/><path d="M520.9 231.9 529.9 230.9 526.4 226 517.4 226.9Z" fill="#2d8bf4"/><path d="M529.1 231.1 538.1 230.1 534.6 225.3 525.7 226.2Z" fill="#2d8bf4"/><path d="M537.4 230.3 546.4 229.3 542.9 224.6 533.9 225.5Z" fill="#2d8af5"/><path d="M545.6 229.5 554.6 228.4 551.1 223.8 542.1 224.7Z" fill="#2d88f6"/><path d="M553.9 228.6 562.8 227.5 559.4 222.9 550.4 223.9Z" fill="#2d88f6"/><path d="M562.1 227.7 571.1 226.5 567.6 222 558.6 223.1Z" fill="#2e87f7"/><path d="M570.3 226.7 579.3 225.5 575.8 221.1 566.9 222.2Z" fill="#2e87f7"/><path d="M186.4 233.8 195.4 234.7 192 228.6 183 227.8Z" fill="#42ca8b"/><path d="M194.7 234.8 203.6 235.6 200.2 229.5 191.2 228.7Z" fill="#3bc992"/><path d="M202.9 235.6 211.9 236.4 208.4 230.3 199.5 229.6Z" fill="#36c899"/><path d="M211.1 236.5 220.1 237.2 216.7 231.1 207.7 230.4Z" fill="#32c69f"/><path d="M219.4 237.3 228.3 238 224.9 231.9 215.9 231.2Z" fill="#2ec4a5"/><path d="M227.6 238.1 236.6 238.7 233.1 232.6 224.2 232Z" fill="#29c3aa"/><path d="M235.9 238.8 244.8 239.3 241.4 233.2 232.4 232.7Z" fill="#23c1af"/><path d="M244.1 239.4 253.1 240 249.6 233.8 240.7 233.3Z" fill="#1ac0b5"/><path d="M252.3 240.1 261.3 240.5 257.9 234.4 248.9 234Z" fill="#14beb8"/><path d="M260.6 240.6 269.5 241.1 266.1 235 257.1 234.5Z" fill="#09bdbd"/><path d="M268.8 241.2 277.8 241.6 274.3 235.4 265.4 235.1Z" fill="#02bbc2"/><path d="M277.1 241.7 286 242 282.6 235.9 273.6 235.6Z" fill="#00bac6"/><path d="M285.3 242.1 294.3 242.4 290.8 236.3 281.9 236Z" fill="#01b7ca"/><path d="M293.5 242.5 302.5 242.8 299 236.7 290.1 236.4Z" fill="#04b6ce"/><path d="M301.8 242.9 310.7 243.1 307.3 237 298.3 236.8Z" fill="#08b4d1"/><path d="M310 243.2 319 243.4 315.5 237.3 306.6 237.1Z" fill="#0eb3d4"/><path d="M318.3 243.5 327.2 243.6 323.8 237.5 314.8 237.4Z" fill="#14b0d8"/><path d="M326.5 243.7 335.5 243.8 332 237.7 323.1 237.7Z" fill="#17aeda"/><path d="M334.7 243.9 343.7 243.9 340.2 237.9 331.3 237.9Z" fill="#1aacdd"/><path d="M343 244.1 351.9 244 348.5 238 339.5 238Z" fill="#1caadf"/><path d="M351.2 244.2 360.2 244.1 356.7 238.1 347.8 238.2Z" fill="#1da8e1"/><path d="M359.5 244.2 368.4 244.1 365 238.1 356 238.2Z" fill="#1fa6e2"/><path d="M367.7 244.2 376.7 244.1 373.2 238.1 364.2 238.3Z" fill="#21a3e3"/><path d="M376 244.2 384.9 244 381.4 238.1 372.5 238.3Z" fill="#22a2e4"/><path d="M384.2 244.1 393.1 243.9 389.7 238 380.7 238.2Z" fill="#23a0e5"/><path d="M392.4 244 401.4 243.7 397.9 237.9 389 238.2Z" fill="#249ee6"/><path d="M400.7 243.9 409.6 243.5 406.2 237.7 397.2 238Z" fill="#259ce7"/><path d="M408.9 243.7 417.9 243.3 414.4 237.5 405.4 237.9Z" fill="#269ae8"/><path d="M417.2 243.4 426.1 243 422.6 237.3 413.7 237.7Z" fill="#2699e9"/><path d="M425.4 243.2 434.3 242.7 430.9 237 421.9 237.4Z" fill="#2798ea"/><path d="M433.6 242.8 442.6 242.3 439.1 236.7 430.2 237.2Z" fill="#2895ec"/><path d="M441.9 242.5 450.8 241.9 447.4 236.3 438.4 236.8Z" fill="#2994ed"/><path d="M450.1 242 459.1 241.4 455.6 235.9 446.6 236.5Z" fill="#2a93ee"/><path d="M458.3 241.6 467.3 240.9 463.8 235.5 454.9 236.1Z" fill="#2b91ef"/><path d="M466.6 241.1 475.5 240.4 472.1 235 463.1 235.6Z" fill="#2c8ff1"/><path d="M474.8 240.6 483.8 239.8 480.3 234.4 471.3 235.1Z" fill="#2d8ef2"/><path d="M483.1 240 492 239.2 488.6 233.9 479.6 234.6Z" fill="#2d8cf3"/><path d="M491.3 239.4 500.3 238.5 496.8 233.3 487.8 234.1Z" fill="#2d8cf3"/><path d="M499.5 238.7 508.5 237.8 505 232.6 496.1 233.5Z" fill="#2d8bf4"/><path d="M507.8 238 516.8 237.1 513.3 232 504.3 232.8Z" fill="#2d8af5"/><path d="M516 237.3 525 236.3 521.5 231.2 512.5 232.1Z" fill="#2d88f6"/><path d="M524.3 236.5 533.2 235.4 529.8 230.5 520.8 231.4Z" fill="#2d88f6"/><path d="M532.5 235.6 541.5 234.6 538 229.7 529 230.7Z" fill="#2e87f7"/><path d="M540.7 234.8 549.7 233.7 546.2 228.8 537.3 229.9Z" fill="#2e86f8"/><path d="M549 233.9 558 232.7 554.5 228 545.5 229Z" fill="#2e86f8"/><path d="M557.2 232.9 566.2 231.7 562.7 227 553.7 228.2Z" fill="#2e86f8"/><path d="M565.5 231.9 574.4 230.7 571 226.1 562 227.3Z" fill="#2e84f8"/><path d="M573.7 230.9 582.7 229.6 579.2 225.1 570.2 226.3Z" fill="#2e84f8"/><path d="M189.8 239.3 198.7 240.2 195.3 234.1 186.3 233.3Z" fill="#39c994"/><path d="M198 240.3 207 241.1 203.5 235 194.6 234.2Z" fill="#35c79b"/><path d="M206.3 241.2 215.2 242 211.8 235.9 202.8 235.1Z" fill="#2fc5a3"/><path d="M214.5 242.1 223.4 242.8 220 236.7 211.1 236Z" fill="#2bc3a8"/><path d="M222.7 242.9 231.7 243.6 228.3 237.4 219.3 236.8Z" fill="#25c2ae"/><path d="M231 243.7 239.9 244.3 236.5 238.1 227.5 237.5Z" fill="#20c1b1"/><path d="M239.2 244.4 248.2 245 244.7 238.8 235.8 238.2Z" fill="#17bfb6"/><path d="M247.5 245.1 256.4 245.6 253 239.4 244 238.9Z" fill="#0dbdbc"/><path d="M255.7 245.7 264.6 246.2 261.2 240 252.3 239.5Z" fill="#04bbc1"/><path d="M263.9 246.3 272.9 246.7 269.4 240.5 260.5 240.1Z" fill="#01bac4"/><path d="M272.2 246.8 281.1 247.2 277.7 241 268.7 240.7Z" fill="#00b8c9"/><path d="M280.4 247.3 289.4 247.6 285.9 241.5 277 241.1Z" fill="#02b7cc"/><path d="M288.7 247.8 297.6 248 294.2 241.9 285.2 241.6Z" fill="#08b4d1"/><path d="M296.9 248.2 305.9 248.4 302.4 242.2 293.5 242Z" fill="#0eb3d4"/><path d="M305.1 248.5 314.1 248.7 310.6 242.6 301.7 242.4Z" fill="#14b0d8"/><path d="M313.4 248.8 322.3 249 318.9 242.8 309.9 242.7Z" fill="#17aeda"/><path d="M321.6 249.1 330.6 249.2 327.1 243.1 318.2 243Z" fill="#1aacdd"/><path d="M329.9 249.3 338.8 249.3 335.4 243.2 326.4 243.2Z" fill="#1caadf"/><path d="M338.1 249.5 347.1 249.5 343.6 243.4 334.6 243.4Z" fill="#1da8e1"/><path d="M346.3 249.6 355.3 249.6 351.8 243.5 342.9 243.5Z" fill="#1fa6e2"/><path d="M354.6 249.7 363.5 249.6 360.1 243.6 351.1 243.6Z" fill="#21a3e3"/><path d="M362.8 249.7 371.8 249.6 368.3 243.6 359.4 243.7Z" fill="#23a1e4"/><path d="M371.1 249.7 380 249.5 376.5 243.5 367.6 243.7Z" fill="#249fe5"/><path d="M379.3 249.7 388.3 249.4 384.8 243.5 375.8 243.7Z" fill="#249ee6"/><path d="M387.5 249.6 396.5 249.3 393 243.4 384.1 243.6Z" fill="#259be8"/><path d="M395.8 249.4 404.7 249.1 401.3 243.2 392.3 243.5Z" fill="#2699e9"/><path d="M404 249.2 413 248.9 409.5 243 400.6 243.4Z" fill="#2798ea"/><path d="M412.3 249 421.2 248.6 417.7 242.8 408.8 243.2Z" fill="#2895ec"/><path d="M420.5 248.7 429.5 248.2 426 242.5 417 242.9Z" fill="#2994ed"/><path d="M428.7 248.4 437.7 247.9 434.2 242.2 425.3 242.6Z" fill="#2a93ee"/><path d="M437 248 445.9 247.5 442.5 241.8 433.5 242.3Z" fill="#2c90f0"/><path d="M445.2 247.6 454.2 247 450.7 241.4 441.8 242Z" fill="#2c8ff1"/><path d="M453.5 247.2 462.4 246.5 458.9 240.9 450 241.5Z" fill="#2d8ef2"/><path d="M461.7 246.7 470.7 246 467.2 240.4 458.2 241.1Z" fill="#2d8cf3"/><path d="M469.9 246.1 478.9 245.4 475.4 239.9 466.5 240.6Z" fill="#2d8bf4"/><path d="M478.2 245.5 487.1 244.7 483.7 239.3 474.7 240.1Z" fill="#2d8af5"/><path d="M486.4 244.9 495.4 244.1 491.9 238.7 482.9 239.5Z" fill="#2d88f6"/><path d="M494.7 244.2 503.6 243.3 500.1 238 491.2 238.9Z" fill="#2e87f7"/><path d="M502.9 243.5 511.9 242.6 508.4 237.3 499.4 238.2Z" fill="#2e87f7"/><path d="M511.1 242.8 520.1 241.8 516.6 236.6 507.7 237.5Z" fill="#2e86f8"/><path d="M519.4 241.9 528.3 240.9 524.9 235.8 515.9 236.8Z" fill="#2e84f8"/><path d="M527.6 241.1 536.6 240 533.1 235 524.1 236Z" fill="#2e84f8"/><path d="M535.9 240.2 544.8 239.1 541.3 234.1 532.4 235.2Z" fill="#2e83f9"/><path d="M544.1 239.3 553.1 238.1 549.6 233.2 540.6 234.3Z" fill="#2e83f9"/><path d="M552.3 238.3 561.3 237 557.8 232.2 548.9 233.4Z" fill="#2f82fa"/><path d="M560.6 237.3 569.6 236 566.1 231.3 557.1 232.5Z" fill="#2f82fa"/><path d="M568.8 236.2 577.8 234.9 574.3 230.2 565.3 231.5Z" fill="#2f82fa"/><path d="M577.1 235.1 586 233.7 582.5 229.1 573.6 230.4Z" fill="#2f82fa"/><path d="M193.1 244.9 202.1 245.8 198.7 239.7 189.7 238.8Z" fill="#33c79d"/><path d="M201.4 245.9 210.3 246.7 206.9 240.6 197.9 239.8Z" fill="#2ec4a5"/><path d="M209.6 246.8 218.6 247.6 215.1 241.4 206.2 240.7Z" fill="#29c3aa"/><path d="M217.8 247.7 226.8 248.4 223.4 242.3 214.4 241.5Z" fill="#23c1af"/><path d="M226.1 248.5 235 249.2 231.6 243 222.7 242.4Z" fill="#1ac0b5"/><path d="M234.3 249.3 243.3 249.9 239.9 243.7 230.9 243.1Z" fill="#10beba"/><path d="M242.6 250 251.5 250.6 248.1 244.4 239.1 243.8Z" fill="#06bcbf"/><path d="M250.8 250.7 259.8 251.2 256.3 245 247.4 244.5Z" fill="#02bbc2"/><path d="M259.1 251.4 268 251.8 264.6 245.6 255.6 245.2Z" fill="#00b9c7"/><path d="M267.3 251.9 276.2 252.4 272.8 246.2 263.9 245.7Z" fill="#02b7cc"/><path d="M275.5 252.5 284.5 252.9 281 246.7 272.1 246.3Z" fill="#06b5cf"/><path d="M283.8 253 292.7 253.3 289.3 247.1 280.3 246.8Z" fill="#0eb3d4"/><path d="M292 253.4 301 253.7 297.5 247.5 288.6 247.2Z" fill="#12b1d6"/><path d="M300.3 253.8 309.2 254.1 305.8 247.9 296.8 247.6Z" fill="#17aeda"/><path d="M308.5 254.2 317.4 254.4 314 248.2 305.1 248Z" fill="#1aacdd"/><path d="M316.7 254.5 325.7 254.6 322.2 248.4 313.3 248.3Z" fill="#1caadf"/><path d="M325 254.7 333.9 254.8 330.5 248.6 321.5 248.6Z" fill="#1da8e1"/><path d="M333.2 254.9 342.2 255 338.7 248.8 329.8 248.8Z" fill="#1fa6e2"/><path d="M341.5 255.1 350.4 255.1 346.9 248.9 338 248.9Z" fill="#21a3e3"/><path d="M349.7 255.2 358.6 255.1 355.2 249 346.2 249.1Z" fill="#23a1e4"/><path d="M357.9 255.3 366.9 255.1 363.4 249.1 354.5 249.2Z" fill="#249fe5"/><path d="M366.2 255.3 375.1 255.1 371.7 249 362.7 249.2Z" fill="#259ce7"/><path d="M374.4 255.3 383.4 255 379.9 249 371 249.2Z" fill="#269ae8"/><path d="M382.7 255.2 391.6 254.9 388.1 248.9 379.2 249.1Z" fill="#2798ea"/><path d="M390.9 255.1 399.9 254.7 396.4 248.8 387.4 249Z" fill="#2797eb"/><path d="M399.1 254.9 408.1 254.5 404.6 248.6 395.7 248.9Z" fill="#2994ed"/><path d="M407.4 254.7 416.3 254.2 412.9 248.3 403.9 248.7Z" fill="#2a93ee"/><path d="M415.6 254.4 424.6 253.9 421.1 248.1 412.2 248.5Z" fill="#2c90f0"/><path d="M423.9 254.1 432.8 253.6 429.3 247.7 420.4 248.2Z" fill="#2c8ff1"/><path d="M432.1 253.7 441.1 253.1 437.6 247.4 428.6 247.9Z" fill="#2d8ef2"/><path d="M440.3 253.3 449.3 252.7 445.8 247 436.9 247.5Z" fill="#2d8cf3"/><path d="M448.6 252.9 457.5 252.2 454.1 246.5 445.1 247.1Z" fill="#2d8af5"/><path d="M456.8 252.4 465.8 251.6 462.3 246 453.3 246.7Z" fill="#2d88f6"/><path d="M465.1 251.8 474 251 470.5 245.5 461.6 246.2Z" fill="#2e87f7"/><path d="M473.3 251.2 482.3 250.4 478.8 244.9 469.8 245.6Z" fill="#2e86f8"/><path d="M481.5 250.6 490.5 249.7 487 244.2 478.1 245Z" fill="#2e86f8"/><path d="M489.8 249.9 498.7 249 495.3 243.6 486.3 244.4Z" fill="#2e84f8"/><path d="M498 249.2 507 248.2 503.5 242.8 494.5 243.7Z" fill="#2e83f9"/><path d="M506.3 248.4 515.2 247.4 511.7 242.1 502.8 243Z" fill="#2f82fa"/><path d="M514.5 247.6 523.5 246.5 520 241.3 511 242.3Z" fill="#2f82fa"/><path d="M522.7 246.7 531.7 245.6 528.2 240.4 519.3 241.5Z" fill="#2f80fa"/><path d="M531 245.8 539.9 244.6 536.5 239.5 527.5 240.6Z" fill="#2f80fa"/><path d="M539.2 244.8 548.2 243.6 544.7 238.6 535.7 239.7Z" fill="#307ffb"/><path d="M547.5 243.8 556.4 242.6 552.9 237.6 544 238.8Z" fill="#307ffb"/><path d="M555.7 242.8 564.7 241.5 561.2 236.6 552.2 237.8Z" fill="#307ffb"/><path d="M563.9 241.7 572.9 240.3 569.4 235.5 560.4 236.8Z" fill="#317dfc"/><path d="M572.2 240.5 581.1 239.1 577.7 234.4 568.7 235.7Z" fill="#317dfc"/><path d="M580.4 239.3 589.4 237.9 585.9 233.3 576.9 234.6Z" fill="#317dfc"/><path d="M196.5 250.5 205.4 251.4 202 245.2 193.1 244.4Z" fill="#2cc4a6"/><path d="M204.7 251.5 213.7 252.3 210.3 246.2 201.3 245.3Z" fill="#27c2ac"/><path d="M213 252.4 221.9 253.2 218.5 247 209.5 246.3Z" fill="#20c1b1"/><path d="M221.2 253.3 230.2 254.1 226.7 247.9 217.8 247.1Z" fill="#17bfb6"/><path d="M229.4 254.2 238.4 254.9 235 248.7 226 248Z" fill="#0dbdbc"/><path d="M237.7 255 246.6 255.6 243.2 249.4 234.3 248.8Z" fill="#04bbc1"/><path d="M245.9 255.7 254.9 256.3 251.4 250.1 242.5 249.5Z" fill="#00bac6"/><path d="M254.2 256.4 263.1 257 259.7 250.7 250.7 250.2Z" fill="#01b7ca"/><path d="M262.4 257.1 271.4 257.5 267.9 251.3 259 250.8Z" fill="#06b5cf"/><path d="M270.7 257.7 279.6 258.1 276.2 251.8 267.2 251.4Z" fill="#0bb3d2"/><path d="M278.9 258.2 287.8 258.6 284.4 252.3 275.5 252Z" fill="#12b1d6"/><path d="M287.1 258.7 296.1 259 292.6 252.8 283.7 252.4Z" fill="#16afd9"/><path d="M295.4 259.1 304.3 259.4 300.9 253.2 291.9 252.9Z" fill="#1aacdd"/><path d="M303.6 259.5 312.6 259.8 309.1 253.5 300.2 253.3Z" fill="#1caadf"/><path d="M311.9 259.9 320.8 260 317.3 253.8 308.4 253.6Z" fill="#1da8e1"/><path d="M320.1 260.2 329 260.3 325.6 254.1 316.6 253.9Z" fill="#20a5e3"/><path d="M328.3 260.4 337.3 260.5 333.8 254.3 324.9 254.2Z" fill="#22a2e4"/><path d="M336.6 260.6 345.5 260.6 342.1 254.4 333.1 254.4Z" fill="#23a0e5"/><path d="M344.8 260.8 353.8 260.7 350.3 254.5 341.4 254.6Z" fill="#249ee6"/><path d="M353.1 260.9 362 260.8 358.5 254.6 349.6 254.7Z" fill="#259be8"/><path d="M361.3 260.9 370.2 260.8 366.8 254.6 357.8 254.7Z" fill="#2699e9"/><path d="M369.5 260.9 378.5 260.7 375 254.6 366.1 254.8Z" fill="#2798ea"/><path d="M377.8 260.8 386.7 260.6 383.3 254.5 374.3 254.7Z" fill="#2895ec"/><path d="M386 260.7 395 260.4 391.5 254.4 382.6 254.6Z" fill="#2a93ee"/><path d="M394.3 260.6 403.2 260.2 399.7 254.2 390.8 254.5Z" fill="#2b91ef"/><path d="M402.5 260.4 411.4 260 408 254 399 254.4Z" fill="#2c8ff1"/><path d="M410.7 260.1 419.7 259.7 416.2 253.7 407.3 254.1Z" fill="#2d8ef2"/><path d="M419 259.8 427.9 259.3 424.5 253.4 415.5 253.9Z" fill="#2d8bf4"/><path d="M427.2 259.5 436.2 258.9 432.7 253 423.7 253.6Z" fill="#2d8af5"/><path d="M435.5 259.1 444.4 258.5 440.9 252.6 432 253.2Z" fill="#2d88f6"/><path d="M443.7 258.6 452.7 258 449.2 252.2 440.2 252.8Z" fill="#2e87f7"/><path d="M451.9 258.1 460.9 257.4 457.4 251.7 448.5 252.3Z" fill="#2e86f8"/><path d="M460.2 257.6 469.1 256.8 465.6 251.1 456.7 251.9Z" fill="#2e84f8"/><path d="M468.4 257 477.4 256.2 473.9 250.5 464.9 251.3Z" fill="#2e83f9"/><path d="M476.7 256.4 485.6 255.5 482.1 249.9 473.2 250.7Z" fill="#2f82fa"/><path d="M484.9 255.7 493.9 254.8 490.4 249.2 481.4 250.1Z" fill="#2f80fa"/><path d="M493.1 254.9 502.1 254 498.6 248.5 489.7 249.4Z" fill="#307ffb"/><path d="M501.4 254.2 510.3 253.1 506.8 247.7 497.9 248.7Z" fill="#307ffb"/><path d="M509.6 253.3 518.6 252.2 515.1 246.9 506.1 247.9Z" fill="#317dfc"/><path d="M517.9 252.4 526.8 251.3 523.3 246 514.4 247.1Z" fill="#327cfc"/><path d="M526.1 251.5 535.1 250.3 531.6 245.1 522.6 246.2Z" fill="#327cfc"/><path d="M534.3 250.5 543.3 249.3 539.8 244.1 530.8 245.3Z" fill="#327cfc"/><path d="M542.6 249.5 551.5 248.2 548 243.1 539.1 244.3Z" fill="#337afd"/><path d="M550.8 248.4 559.8 247.1 556.3 242.1 547.3 243.3Z" fill="#337afd"/><path d="M559.1 247.3 568 245.9 564.5 241 555.6 242.3Z" fill="#337afd"/><path d="M567.3 246.1 576.3 244.7 572.8 239.8 563.8 241.2Z" fill="#337afd"/><path d="M575.5 244.9 584.5 243.4 581 238.7 572 240.1Z" fill="#337afd"/><path d="M583.8 243.7 592.7 242.1 589.3 237.4 580.3 238.9Z" fill="#337afd"/><path d="M199.8 256.1 208.8 257 205.4 250.9 196.4 249.9Z" fill="#25c2ae"/><path d="M208.1 257.1 217 258 213.6 251.8 204.7 250.9Z" fill="#1dc0b3"/><path d="M216.3 258.1 225.3 258.9 221.8 252.7 212.9 251.9Z" fill="#10beba"/><path d="M224.6 259 233.5 259.8 230.1 253.5 221.1 252.8Z" fill="#06bcbf"/><path d="M232.8 259.9 241.8 260.6 238.3 254.3 229.4 253.6Z" fill="#01bac4"/><path d="M241 260.7 250 261.4 246.6 255.1 237.6 254.4Z" fill="#00b8c9"/><path d="M249.3 261.5 258.2 262.1 254.8 255.8 245.9 255.2Z" fill="#04b6ce"/><path d="M257.5 262.2 266.5 262.7 263 256.4 254.1 255.9Z" fill="#08b4d1"/><path d="M265.8 262.8 274.7 263.3 271.3 257 262.3 256.5Z" fill="#10b2d5"/><path d="M274 263.4 283 263.9 279.5 257.5 270.6 257.1Z" fill="#16afd9"/><path d="M282.3 264 291.2 264.3 287.7 258 278.8 257.7Z" fill="#19addc"/><path d="M290.5 264.5 299.4 264.8 296 258.5 287 258.2Z" fill="#1caadf"/><path d="M298.7 264.9 307.7 265.2 304.2 258.9 295.3 258.6Z" fill="#1da8e1"/><path d="M307 265.3 315.9 265.5 312.5 259.2 303.5 259Z" fill="#20a5e3"/><path d="M315.2 265.6 324.2 265.8 320.7 259.5 311.8 259.3Z" fill="#22a2e4"/><path d="M323.5 265.9 332.4 266 328.9 259.7 320 259.6Z" fill="#23a0e5"/><path d="M331.7 266.2 340.6 266.2 337.2 259.9 328.2 259.9Z" fill="#249ee6"/><path d="M339.9 266.3 348.9 266.3 345.4 260.1 336.5 260.1Z" fill="#259be8"/><path d="M348.2 266.5 357.1 266.4 353.7 260.2 344.7 260.2Z" fill="#2699e9"/><path d="M356.4 266.5 365.4 266.4 361.9 260.2 353 260.3Z" fill="#2797eb"/><path d="M364.7 266.6 373.6 266.4 370.1 260.2 361.2 260.4Z" fill="#2994ed"/><path d="M372.9 266.6 381.8 266.3 378.4 260.2 369.4 260.4Z" fill="#2b91ef"/><path d="M381.1 266.5 390.1 266.2 386.6 260.1 377.7 260.3Z" fill="#2c8ff1"/><path d="M389.4 266.3 398.3 266 394.8 259.9 385.9 260.2Z" fill="#2d8ef2"/><path d="M397.6 266.2 406.6 265.8 403.1 259.7 394.1 260.1Z" fill="#2d8bf4"/><path d="M405.9 265.9 414.8 265.5 411.3 259.4 402.4 259.9Z" fill="#2d8af5"/><path d="M414.1 265.7 423 265.2 419.6 259.1 410.6 259.6Z" fill="#2e87f7"/><path d="M422.3 265.3 431.3 264.8 427.8 258.8 418.9 259.3Z" fill="#2e86f8"/><path d="M430.6 264.9 439.5 264.3 436 258.4 427.1 259Z" fill="#2e84f8"/><path d="M438.8 264.5 447.8 263.8 444.3 257.9 435.3 258.6Z" fill="#2e83f9"/><path d="M447.1 264 456 263.3 452.5 257.5 443.6 258.1Z" fill="#2f82fa"/><path d="M455.3 263.5 464.2 262.7 460.8 256.9 451.8 257.6Z" fill="#2f80fa"/><path d="M463.5 262.9 472.5 262.1 469 256.3 460.1 257.1Z" fill="#307ffb"/><path d="M471.8 262.3 480.7 261.4 477.2 255.7 468.3 256.5Z" fill="#317dfc"/><path d="M480 261.6 489 260.6 485.5 255 476.5 255.9Z" fill="#327cfc"/><path d="M488.3 260.8 497.2 259.8 493.7 254.2 484.8 255.2Z" fill="#337afd"/><path d="M496.5 260 505.5 259 502 253.5 493 254.4Z" fill="#337afd"/><path d="M504.7 259.2 513.7 258.1 510.2 252.6 501.2 253.7Z" fill="#3579fd"/><path d="M513 258.3 521.9 257.2 518.4 251.7 509.5 252.8Z" fill="#3579fd"/><path d="M521.2 257.4 530.2 256.2 526.7 250.8 517.7 251.9Z" fill="#3677fe"/><path d="M529.5 256.4 538.4 255.1 534.9 249.8 526 251Z" fill="#3677fe"/><path d="M537.7 255.3 546.7 254 543.2 248.8 534.2 250Z" fill="#3876fe"/><path d="M545.9 254.2 554.9 252.9 551.4 247.7 542.4 249Z" fill="#3876fe"/><path d="M554.2 253.1 563.1 251.7 559.6 246.6 550.7 248Z" fill="#3876fe"/><path d="M562.4 251.9 571.4 250.4 567.9 245.5 558.9 246.8Z" fill="#3876fe"/><path d="M570.7 250.7 579.6 249.2 576.1 244.2 567.2 245.7Z" fill="#3876fe"/><path d="M578.9 249.4 587.9 247.8 584.4 243 575.4 244.5Z" fill="#3876fe"/><path d="M587.1 248 596.1 246.4 592.6 241.7 583.6 243.2Z" fill="#3876fe"/><path d="M203.2 261.8 212.1 262.7 208.7 256.5 199.8 255.6Z" fill="#17bfb6"/><path d="M211.4 262.8 220.4 263.7 217 257.5 208 256.6Z" fill="#0dbdbc"/><path d="M219.7 263.8 228.6 264.7 225.2 258.4 216.3 257.6Z" fill="#04bbc1"/><path d="M227.9 264.8 236.9 265.5 233.4 259.3 224.5 258.5Z" fill="#00bac6"/><path d="M236.2 265.6 245.1 266.4 241.7 260.1 232.7 259.3Z" fill="#01b7ca"/><path d="M244.4 266.5 253.3 267.1 249.9 260.8 241 260.2Z" fill="#06b5cf"/><path d="M252.6 267.2 261.6 267.8 258.2 261.5 249.2 260.9Z" fill="#0eb3d4"/><path d="M260.9 267.9 269.8 268.5 266.4 262.2 257.4 261.6Z" fill="#14b0d8"/><path d="M269.1 268.6 278.1 269.1 274.6 262.8 265.7 262.3Z" fill="#19addc"/><path d="M277.4 269.2 286.3 269.7 282.9 263.3 273.9 262.9Z" fill="#1babde"/><path d="M285.6 269.8 294.6 270.1 291.1 263.8 282.2 263.4Z" fill="#1da8e1"/><path d="M293.9 270.3 302.8 270.6 299.3 264.2 290.4 263.9Z" fill="#1fa6e2"/><path d="M302.1 270.7 311 271 307.6 264.6 298.6 264.4Z" fill="#22a2e4"/><path d="M310.3 271.1 319.3 271.3 315.8 265 306.9 264.8Z" fill="#23a0e5"/><path d="M318.6 271.4 327.5 271.6 324.1 265.2 315.1 265.1Z" fill="#259ce7"/><path d="M326.8 271.7 335.8 271.8 332.3 265.5 323.4 265.4Z" fill="#269ae8"/><path d="M335.1 271.9 344 272 340.5 265.7 331.6 265.6Z" fill="#2798ea"/><path d="M343.3 272.1 352.2 272.1 348.8 265.8 339.8 265.8Z" fill="#2895ec"/><path d="M351.5 272.2 360.5 272.1 357 265.9 348.1 265.9Z" fill="#2a93ee"/><path d="M359.8 272.3 368.7 272.2 365.2 265.9 356.3 266Z" fill="#2c90f0"/><path d="M368 272.3 377 272.1 373.5 265.9 364.6 266Z" fill="#2d8ef2"/><path d="M376.3 272.3 385.2 272 381.7 265.8 372.8 266Z" fill="#2d8cf3"/><path d="M384.5 272.2 393.4 271.9 390 265.7 381 265.9Z" fill="#2d8af5"/><path d="M392.7 272 401.7 271.6 398.2 265.5 389.3 265.8Z" fill="#2e87f7"/><path d="M401 271.8 409.9 271.4 406.4 265.2 397.5 265.6Z" fill="#2e86f8"/><path d="M409.2 271.5 418.2 271.1 414.7 265 405.7 265.4Z" fill="#2e84f8"/><path d="M417.5 271.2 426.4 270.7 422.9 264.6 414 265.1Z" fill="#2f82fa"/><path d="M425.7 270.9 434.6 270.3 431.2 264.2 422.2 264.8Z" fill="#2f80fa"/><path d="M433.9 270.4 442.9 269.8 439.4 263.8 430.5 264.4Z" fill="#307ffb"/><path d="M442.2 270 451.1 269.3 447.6 263.3 438.7 264Z" fill="#317dfc"/><path d="M450.4 269.4 459.4 268.7 455.9 262.8 446.9 263.5Z" fill="#327cfc"/><path d="M458.7 268.9 467.6 268.1 464.1 262.2 455.2 263Z" fill="#337afd"/><path d="M466.9 268.2 475.8 267.4 472.4 261.6 463.4 262.4Z" fill="#3579fd"/><path d="M475.1 267.6 484.1 266.6 480.6 260.9 471.7 261.7Z" fill="#3677fe"/><path d="M483.4 266.8 492.3 265.8 488.8 260.1 479.9 261.1Z" fill="#3876fe"/><path d="M491.6 266 500.6 265 497.1 259.3 488.1 260.3Z" fill="#3876fe"/><path d="M499.9 265.2 508.8 264.1 505.3 258.5 496.4 259.5Z" fill="#3974ff"/><path d="M508.1 264.3 517 263.2 513.6 257.6 504.6 258.7Z" fill="#3b73ff"/><path d="M516.3 263.4 525.3 262.1 521.8 256.7 512.8 257.8Z" fill="#3b73ff"/><path d="M524.6 262.4 533.5 261.1 530 255.7 521.1 256.9Z" fill="#3b73ff"/><path d="M532.8 261.3 541.8 260 538.3 254.6 529.3 255.9Z" fill="#3c71ff"/><path d="M541.1 260.2 550 258.8 546.5 253.5 537.6 254.8Z" fill="#3c71ff"/><path d="M549.3 259 558.3 257.6 554.8 252.4 545.8 253.8Z" fill="#3c71ff"/><path d="M557.5 257.8 566.5 256.4 563 251.2 554 252.6Z" fill="#3c71ff"/><path d="M565.8 256.6 574.7 255 571.2 250 562.3 251.4Z" fill="#3c71ff"/><path d="M574 255.3 583 253.7 579.5 248.7 570.5 250.2Z" fill="#3c71ff"/><path d="M582.3 253.9 591.2 252.3 587.7 247.4 578.7 248.9Z" fill="#3c71ff"/><path d="M590.5 252.5 599.5 250.8 596 246 587 247.6Z" fill="#3b73ff"/><path d="M206.5 267.5 215.5 268.5 212.1 262.2 203.1 261.2Z" fill="#09bdbd"/><path d="M214.8 268.6 223.7 269.5 220.3 263.2 211.4 262.3Z" fill="#02bbc2"/><path d="M223 269.6 232 270.4 228.6 264.1 219.6 263.3Z" fill="#00b8c9"/><path d="M231.3 270.5 240.2 271.3 236.8 265 227.8 264.2Z" fill="#04b6ce"/><path d="M239.5 271.4 248.5 272.2 245 265.8 236.1 265.1Z" fill="#0bb3d2"/><path d="M247.8 272.3 256.7 272.9 253.3 266.6 244.3 265.9Z" fill="#12b1d6"/><path d="M256 273 264.9 273.7 261.5 267.3 252.6 266.7Z" fill="#17aeda"/><path d="M264.2 273.8 273.2 274.3 269.7 268 260.8 267.4Z" fill="#1babde"/><path d="M272.5 274.4 281.4 274.9 278 268.6 269 268.1Z" fill="#1da9e0"/><path d="M280.7 275.1 289.7 275.5 286.2 269.1 277.3 268.7Z" fill="#1fa6e2"/><path d="M289 275.6 297.9 276 294.5 269.6 285.5 269.2Z" fill="#22a2e4"/><path d="M297.2 276.1 306.1 276.4 302.7 270 293.8 269.7Z" fill="#23a0e5"/><path d="M305.4 276.6 314.4 276.8 310.9 270.4 302 270.2Z" fill="#259ce7"/><path d="M313.7 276.9 322.6 277.1 319.2 270.8 310.2 270.6Z" fill="#269ae8"/><path d="M321.9 277.3 330.9 277.4 327.4 271 318.5 270.9Z" fill="#2798ea"/><path d="M330.2 277.5 339.1 277.6 335.6 271.3 326.7 271.2Z" fill="#2895ec"/><path d="M338.4 277.8 347.3 277.8 343.9 271.4 335 271.4Z" fill="#2b91ef"/><path d="M346.7 277.9 355.6 277.9 352.1 271.5 343.2 271.6Z" fill="#2c8ff1"/><path d="M354.9 278 363.8 277.9 360.4 271.6 351.4 271.7Z" fill="#2d8ef2"/><path d="M363.1 278.1 372.1 277.9 368.6 271.6 359.7 271.7Z" fill="#2d8bf4"/><path d="M371.4 278.1 380.3 277.9 376.8 271.6 367.9 271.8Z" fill="#2d88f6"/><path d="M379.6 278 388.6 277.7 385.1 271.5 376.1 271.7Z" fill="#2e86f8"/><path d="M387.9 277.9 396.8 277.6 393.3 271.3 384.4 271.6Z" fill="#2e84f8"/><path d="M396.1 277.7 405 277.3 401.6 271.1 392.6 271.5Z" fill="#2f82fa"/><path d="M404.3 277.5 413.3 277 409.8 270.8 400.9 271.3Z" fill="#2f80fa"/><path d="M412.6 277.2 421.5 276.7 418 270.5 409.1 271Z" fill="#317dfc"/><path d="M420.8 276.9 429.8 276.3 426.3 270.2 417.3 270.7Z" fill="#327cfc"/><path d="M429.1 276.5 438 275.8 434.5 269.7 425.6 270.3Z" fill="#337afd"/><path d="M437.3 276 446.2 275.3 442.8 269.3 433.8 269.9Z" fill="#3579fd"/><path d="M445.5 275.5 454.5 274.8 451 268.8 442.1 269.4Z" fill="#3876fe"/><path d="M453.8 274.9 462.7 274.1 459.2 268.2 450.3 268.9Z" fill="#3974ff"/><path d="M462 274.3 471 273.5 467.5 267.5 458.5 268.4Z" fill="#3974ff"/><path d="M470.3 273.6 479.2 272.7 475.7 266.9 466.8 267.7Z" fill="#3b73ff"/><path d="M478.5 272.9 487.4 271.9 483.9 266.1 475 267Z" fill="#3c71ff"/><path d="M486.7 272.1 495.7 271.1 492.2 265.3 483.2 266.3Z" fill="#3e70ff"/><path d="M495 271.3 503.9 270.2 500.4 264.5 491.5 265.5Z" fill="#3e70ff"/><path d="M503.2 270.4 512.2 269.3 508.7 263.6 499.7 264.7Z" fill="#3f6eff"/><path d="M511.5 269.5 520.4 268.3 516.9 262.7 508 263.8Z" fill="#3f6eff"/><path d="M519.7 268.5 528.6 267.2 525.1 261.7 516.2 262.9Z" fill="#406dfe"/><path d="M527.9 267.4 536.9 266.1 533.4 260.6 524.4 261.9Z" fill="#406dfe"/><path d="M536.2 266.3 545.1 264.9 541.6 259.5 532.7 260.8Z" fill="#406dfe"/><path d="M544.4 265.1 553.4 263.7 549.9 258.3 540.9 259.7Z" fill="#406dfe"/><path d="M552.7 263.9 561.6 262.4 558.1 257.1 549.2 258.6Z" fill="#406dfe"/><path d="M560.9 262.6 569.8 261.1 566.3 255.9 557.4 257.4Z" fill="#406dfe"/><path d="M569.1 261.3 578.1 259.7 574.6 254.6 565.6 256.1Z" fill="#406dfe"/><path d="M577.4 259.9 586.3 258.3 582.8 253.2 573.9 254.8Z" fill="#406dfe"/><path d="M585.6 258.5 594.6 256.8 591.1 251.8 582.1 253.4Z" fill="#406dfe"/><path d="M593.9 257 602.8 255.2 599.3 250.3 590.3 252Z" fill="#3f6eff"/><path d="M209.9 273.2 218.9 274.2 215.4 267.9 206.5 266.9Z" fill="#00bac6"/><path d="M218.1 274.3 227.1 275.3 223.7 268.9 214.7 268Z" fill="#01b7ca"/><path d="M226.4 275.4 235.3 276.2 231.9 269.9 223 269Z" fill="#06b5cf"/><path d="M234.6 276.3 243.6 277.2 240.2 270.8 231.2 270Z" fill="#0eb3d4"/><path d="M242.9 277.2 251.8 278 248.4 271.6 239.4 270.9Z" fill="#14b0d8"/><path d="M251.1 278.1 260.1 278.8 256.6 272.4 247.7 271.7Z" fill="#1aacdd"/><path d="M259.4 278.9 268.3 279.5 264.9 273.1 255.9 272.5Z" fill="#1caadf"/><path d="M267.6 279.6 276.5 280.2 273.1 273.8 264.2 273.2Z" fill="#1ea7e1"/><path d="M275.8 280.3 284.8 280.8 281.3 274.4 272.4 273.9Z" fill="#21a3e3"/><path d="M284.1 280.9 293 281.4 289.6 274.9 280.6 274.5Z" fill="#23a0e5"/><path d="M292.3 281.5 301.3 281.9 297.8 275.4 288.9 275.1Z" fill="#249ee6"/><path d="M300.6 282 309.5 282.3 306.1 275.9 297.1 275.6Z" fill="#269ae8"/><path d="M308.8 282.4 317.7 282.7 314.3 276.3 305.4 276Z" fill="#2798ea"/><path d="M317 282.8 326 283 322.5 276.6 313.6 276.4Z" fill="#2994ed"/><path d="M325.3 283.2 334.2 283.3 330.8 276.9 321.8 276.7Z" fill="#2b91ef"/><path d="M333.5 283.4 342.5 283.5 339 277.1 330.1 277Z" fill="#2c8ff1"/><path d="M341.8 283.6 350.7 283.7 347.2 277.2 338.3 277.2Z" fill="#2d8cf3"/><path d="M350 283.8 358.9 283.7 355.5 277.3 346.5 277.4Z" fill="#2d8af5"/><path d="M358.3 283.9 367.2 283.8 363.7 277.4 354.8 277.5Z" fill="#2e87f7"/><path d="M366.5 283.9 375.4 283.7 372 277.4 363 277.5Z" fill="#2e84f8"/><path d="M374.7 283.9 383.7 283.7 380.2 277.3 371.3 277.5Z" fill="#2f82fa"/><path d="M383 283.8 391.9 283.5 388.4 277.2 379.5 277.5Z" fill="#2f80fa"/><path d="M391.2 283.7 400.1 283.3 396.7 277 387.7 277.3Z" fill="#317dfc"/><path d="M399.5 283.5 408.4 283.1 404.9 276.8 396 277.2Z" fill="#337afd"/><path d="M407.7 283.2 416.6 282.7 413.1 276.5 404.2 276.9Z" fill="#3579fd"/><path d="M415.9 282.9 424.9 282.4 421.4 276.2 412.5 276.7Z" fill="#3677fe"/><path d="M424.2 282.5 433.1 281.9 429.6 275.8 420.7 276.3Z" fill="#3974ff"/><path d="M432.4 282.1 441.4 281.4 437.9 275.3 428.9 275.9Z" fill="#3b73ff"/><path d="M440.7 281.6 449.6 280.9 446.1 274.8 437.2 275.5Z" fill="#3c71ff"/><path d="M448.9 281.1 457.8 280.3 454.3 274.2 445.4 275Z" fill="#3e70ff"/><path d="M457.1 280.5 466.1 279.6 462.6 273.6 453.6 274.4Z" fill="#3f6eff"/><path d="M465.4 279.8 474.3 278.9 470.8 272.9 461.9 273.8Z" fill="#406dfe"/><path d="M473.6 279.1 482.6 278.1 479.1 272.2 470.1 273.1Z" fill="#406dfe"/><path d="M481.9 278.3 490.8 277.3 487.3 271.4 478.4 272.4Z" fill="#416bfe"/><path d="M490.1 277.5 499 276.4 495.5 270.6 486.6 271.6Z" fill="#426afe"/><path d="M498.3 276.6 507.3 275.5 503.8 269.7 494.8 270.8Z" fill="#426afe"/><path d="M506.6 275.7 515.5 274.5 512 268.7 503.1 269.9Z" fill="#4368fe"/><path d="M514.8 274.7 523.8 273.4 520.3 267.7 511.3 268.9Z" fill="#4368fe"/><path d="M523.1 273.6 532 272.3 528.5 266.7 519.6 268Z" fill="#4368fe"/><path d="M531.3 272.5 540.2 271.1 536.7 265.6 527.8 266.9Z" fill="#4368fe"/><path d="M539.5 271.3 548.5 269.9 545 264.4 536 265.8Z" fill="#4367fd"/><path d="M547.8 270.1 556.7 268.6 553.2 263.2 544.3 264.6Z" fill="#4367fd"/><path d="M556 268.8 565 267.3 561.5 261.9 552.5 263.4Z" fill="#4367fd"/><path d="M564.3 267.5 573.2 265.9 569.7 260.6 560.7 262.1Z" fill="#4368fe"/><path d="M572.5 266.1 581.4 264.4 577.9 259.2 569 260.8Z" fill="#4368fe"/><path d="M580.7 264.6 589.7 262.9 586.2 257.8 577.2 259.4Z" fill="#4368fe"/><path d="M589 263.1 597.9 261.3 594.4 256.3 585.5 258Z" fill="#426afe"/><path d="M597.2 261.6 606.2 259.7 602.7 254.7 593.7 256.5Z" fill="#426afe"/><path d="M213.3 279 222.2 280 218.8 273.7 209.8 272.7Z" fill="#02b7cc"/><path d="M221.5 280.1 230.5 281.1 227 274.7 218.1 273.8Z" fill="#0bb3d2"/><path d="M229.7 281.2 238.7 282.1 235.3 275.7 226.3 274.8Z" fill="#12b1d6"/><path d="M238 282.2 246.9 283 243.5 276.6 234.6 275.8Z" fill="#17aeda"/><path d="M246.2 283.1 255.2 283.9 251.7 277.5 242.8 276.7Z" fill="#1babde"/><path d="M254.5 284 263.4 284.7 260 278.3 251 277.6Z" fill="#1da8e1"/><path d="M262.7 284.8 271.7 285.4 268.2 279 259.3 278.4Z" fill="#20a5e3"/><path d="M271 285.5 279.9 286.1 276.5 279.7 267.5 279.1Z" fill="#23a1e4"/><path d="M279.2 286.2 288.1 286.8 284.7 280.3 275.8 279.8Z" fill="#249ee6"/><path d="M287.4 286.9 296.4 287.3 292.9 280.8 284 280.4Z" fill="#269ae8"/><path d="M295.7 287.4 304.6 287.8 301.2 281.3 292.2 280.9Z" fill="#2798ea"/><path d="M303.9 287.9 312.9 288.3 309.4 281.8 300.5 281.5Z" fill="#2994ed"/><path d="M312.2 288.4 321.1 288.6 317.6 282.2 308.7 281.9Z" fill="#2b91ef"/><path d="M320.4 288.8 329.3 289 325.9 282.5 316.9 282.3Z" fill="#2c8ff1"/><path d="M328.6 289.1 337.6 289.2 334.1 282.7 325.2 282.6Z" fill="#2d8bf4"/><path d="M336.9 289.4 345.8 289.4 342.4 283 333.4 282.9Z" fill="#2d88f6"/><path d="M345.1 289.6 354.1 289.6 350.6 283.1 341.7 283.1Z" fill="#2e86f8"/><path d="M353.4 289.7 362.3 289.6 358.8 283.2 349.9 283.2Z" fill="#2e83f9"/><path d="M361.6 289.8 370.5 289.7 367.1 283.2 358.1 283.3Z" fill="#2f80fa"/><path d="M369.9 289.8 378.8 289.6 375.3 283.2 366.4 283.4Z" fill="#317dfc"/><path d="M378.1 289.8 387 289.5 383.5 283.1 374.6 283.3Z" fill="#327cfc"/><path d="M386.3 289.7 395.3 289.3 391.8 283 382.9 283.3Z" fill="#3579fd"/><path d="M394.6 289.5 403.5 289.1 400 282.8 391.1 283.1Z" fill="#3876fe"/><path d="M402.8 289.3 411.7 288.8 408.3 282.5 399.3 282.9Z" fill="#3974ff"/><path d="M411.1 289 420 288.5 416.5 282.2 407.6 282.7Z" fill="#3c71ff"/><path d="M419.3 288.7 428.2 288.1 424.7 281.8 415.8 282.4Z" fill="#3e70ff"/><path d="M427.5 288.3 436.5 287.6 433 281.4 424.1 282Z" fill="#3f6eff"/><path d="M435.8 287.8 444.7 287.1 441.2 280.9 432.3 281.6Z" fill="#406dfe"/><path d="M444 287.3 452.9 286.5 449.5 280.4 440.5 281.1Z" fill="#416bfe"/><path d="M452.3 286.7 461.2 285.9 457.7 279.8 448.8 280.5Z" fill="#426afe"/><path d="M460.5 286.1 469.4 285.2 465.9 279.1 457 279.9Z" fill="#4368fe"/><path d="M468.7 285.4 477.7 284.4 474.2 278.4 465.2 279.3Z" fill="#4367fd"/><path d="M477 284.6 485.9 283.6 482.4 277.6 473.5 278.6Z" fill="#4465fd"/><path d="M485.2 283.8 494.2 282.7 490.7 276.8 481.7 277.8Z" fill="#4465fd"/><path d="M493.5 282.9 502.4 281.8 498.9 275.9 490 277Z" fill="#4564fd"/><path d="M501.7 282 510.6 280.8 507.1 275 498.2 276.1Z" fill="#4564fd"/><path d="M509.9 281 518.9 279.7 515.4 274 506.4 275.2Z" fill="#4562fc"/><path d="M518.2 279.9 527.1 278.6 523.6 272.9 514.7 274.2Z" fill="#4562fc"/><path d="M526.4 278.8 535.4 277.4 531.9 271.8 522.9 273.1Z" fill="#4562fc"/><path d="M534.7 277.7 543.6 276.2 540.1 270.6 531.1 272Z" fill="#4562fc"/><path d="M542.9 276.4 551.8 274.9 548.3 269.4 539.4 270.8Z" fill="#4562fc"/><path d="M551.1 275.1 560.1 273.6 556.6 268.1 547.6 269.6Z" fill="#4562fc"/><path d="M559.4 273.8 568.3 272.2 564.8 266.8 555.9 268.3Z" fill="#4562fc"/><path d="M567.6 272.4 576.6 270.7 573 265.4 564.1 267Z" fill="#4562fc"/><path d="M575.9 270.9 584.8 269.2 581.3 263.9 572.3 265.6Z" fill="#4564fd"/><path d="M584.1 269.4 593 267.6 589.5 262.4 580.6 264.2Z" fill="#4564fd"/><path d="M592.3 267.8 601.3 266 597.8 260.9 588.8 262.7Z" fill="#4564fd"/><path d="M600.6 266.2 609.5 264.3 606 259.2 597.1 261.1Z" fill="#4465fd"/><path d="M216.6 284.8 225.6 285.9 222.2 279.5 213.2 278.5Z" fill="#0eb3d4"/><path d="M224.9 286 233.8 287 230.4 280.5 221.4 279.6Z" fill="#14b0d8"/><path d="M233.1 287 242 288 238.6 281.5 229.7 280.6Z" fill="#1aacdd"/><path d="M241.3 288.1 250.3 288.9 246.9 282.5 237.9 281.6Z" fill="#1da9e0"/><path d="M249.6 289 258.5 289.8 255.1 283.3 246.2 282.6Z" fill="#1fa6e2"/><path d="M257.8 289.9 266.8 290.6 263.3 284.1 254.4 283.4Z" fill="#22a2e4"/><path d="M266.1 290.7 275 291.4 271.6 284.9 262.6 284.2Z" fill="#249fe5"/><path d="M274.3 291.5 283.2 292.1 279.8 285.6 270.9 285Z" fill="#259be8"/><path d="M282.6 292.2 291.5 292.7 288 286.2 279.1 285.7Z" fill="#2798ea"/><path d="M290.8 292.8 299.7 293.3 296.3 286.8 287.4 286.3Z" fill="#2895ec"/><path d="M299 293.4 308 293.8 304.5 287.3 295.6 286.9Z" fill="#2b91ef"/><path d="M307.3 293.9 316.2 294.2 312.8 287.7 303.8 287.4Z" fill="#2d8ef2"/><path d="M315.5 294.4 324.5 294.6 321 288.1 312.1 287.8Z" fill="#2d8bf4"/><path d="M323.8 294.7 332.7 294.9 329.2 288.4 320.3 288.2Z" fill="#2d88f6"/><path d="M332 295.1 340.9 295.2 337.5 288.7 328.5 288.5Z" fill="#2e84f8"/><path d="M340.2 295.3 349.2 295.4 345.7 288.9 336.8 288.8Z" fill="#2f82fa"/><path d="M348.5 295.5 357.4 295.5 353.9 289 345 289Z" fill="#307ffb"/><path d="M356.7 295.6 365.7 295.6 362.2 289.1 353.3 289.1Z" fill="#327cfc"/><path d="M365 295.7 373.9 295.6 370.4 289.1 361.5 289.2Z" fill="#3579fd"/><path d="M373.2 295.7 382.1 295.5 378.7 289.1 369.7 289.2Z" fill="#3677fe"/><path d="M381.5 295.7 390.4 295.4 386.9 289 378 289.2Z" fill="#3974ff"/><path d="M389.7 295.6 398.6 295.2 395.1 288.8 386.2 289.1Z" fill="#3c71ff"/><path d="M397.9 295.4 406.9 295 403.4 288.6 394.5 288.9Z" fill="#3e70ff"/><path d="M406.2 295.1 415.1 294.7 411.6 288.3 402.7 288.7Z" fill="#406dfe"/><path d="M414.4 294.8 423.3 294.3 419.9 288 410.9 288.5Z" fill="#416bfe"/><path d="M422.7 294.5 431.6 293.9 428.1 287.6 419.2 288.1Z" fill="#426afe"/><path d="M430.9 294 439.8 293.4 436.3 287.1 427.4 287.7Z" fill="#4367fd"/><path d="M439.1 293.5 448.1 292.8 444.6 286.6 435.6 287.3Z" fill="#4465fd"/><path d="M447.4 293 456.3 292.2 452.8 286 443.9 286.7Z" fill="#4564fd"/><path d="M455.6 292.4 464.5 291.5 461 285.4 452.1 286.2Z" fill="#4562fc"/><path d="M463.9 291.7 472.8 290.8 469.3 284.7 460.4 285.5Z" fill="#4562fc"/><path d="M472.1 291 481 290 477.5 283.9 468.6 284.8Z" fill="#4661fc"/><path d="M480.3 290.2 489.3 289.1 485.8 283.1 476.8 284.1Z" fill="#4660fb"/><path d="M488.6 289.3 497.5 288.2 494 282.2 485.1 283.3Z" fill="#4660fb"/><path d="M496.8 288.4 505.7 287.2 502.2 281.3 493.3 282.4Z" fill="#465efb"/><path d="M505.1 287.4 514 286.2 510.5 280.3 501.6 281.5Z" fill="#465efb"/><path d="M513.3 286.4 522.2 285.1 518.7 279.2 509.8 280.5Z" fill="#475dfa"/><path d="M521.5 285.3 530.5 283.9 527 278.1 518 279.4Z" fill="#475dfa"/><path d="M529.8 284.1 538.7 282.7 535.2 276.9 526.3 278.3Z" fill="#475dfa"/><path d="M538 282.9 547 281.4 543.4 275.7 534.5 277.2Z" fill="#475dfa"/><path d="M546.3 281.6 555.2 280 551.7 274.4 542.7 275.9Z" fill="#475dfa"/><path d="M554.5 280.2 563.4 278.6 559.9 273.1 551 274.6Z" fill="#475dfa"/><path d="M562.7 278.8 571.7 277.1 568.2 271.7 559.2 273.3Z" fill="#465efb"/><path d="M571 277.4 579.9 275.6 576.4 270.2 567.5 271.9Z" fill="#465efb"/><path d="M579.2 275.8 588.2 274 584.6 268.7 575.7 270.4Z" fill="#465efb"/><path d="M587.5 274.2 596.4 272.4 592.9 267.1 583.9 268.9Z" fill="#4660fb"/><path d="M595.7 272.6 604.6 270.6 601.1 265.5 592.2 267.4Z" fill="#4660fb"/><path d="M603.9 270.9 612.9 268.9 609.4 263.8 600.4 265.7Z" fill="#4661fc"/><path d="M220 290.7 228.9 291.8 225.5 285.3 216.6 284.3Z" fill="#16afd9"/><path d="M228.2 291.8 237.2 292.9 233.7 286.4 224.8 285.4Z" fill="#1babde"/><path d="M236.5 292.9 245.4 293.9 242 287.4 233 286.5Z" fill="#1da8e1"/><path d="M244.7 294 253.6 294.9 250.2 288.4 241.3 287.5Z" fill="#21a3e3"/><path d="M252.9 295 261.9 295.8 258.5 289.3 249.5 288.5Z" fill="#23a0e5"/><path d="M261.2 295.9 270.1 296.6 266.7 290.1 257.8 289.3Z" fill="#259ce7"/><path d="M269.4 296.7 278.4 297.4 274.9 290.8 266 290.2Z" fill="#2699e9"/><path d="M277.7 297.5 286.6 298.1 283.2 291.5 274.2 290.9Z" fill="#2895ec"/><path d="M285.9 298.2 294.8 298.7 291.4 292.2 282.5 291.6Z" fill="#2b91ef"/><path d="M294.2 298.8 303.1 299.3 299.6 292.7 290.7 292.3Z" fill="#2c8ff1"/><path d="M302.4 299.4 311.3 299.8 307.9 293.2 298.9 292.8Z" fill="#2d8bf4"/><path d="M310.6 299.9 319.6 300.3 316.1 293.7 307.2 293.4Z" fill="#2d88f6"/><path d="M318.9 300.4 327.8 300.6 324.4 294.1 315.4 293.8Z" fill="#2e84f8"/><path d="M327.1 300.8 336 300.9 332.6 294.4 323.7 294.2Z" fill="#2f82fa"/><path d="M335.4 301.1 344.3 301.2 340.8 294.6 331.9 294.5Z" fill="#307ffb"/><path d="M343.6 301.3 352.5 301.4 349.1 294.8 340.1 294.8Z" fill="#337afd"/><path d="M351.8 301.5 360.8 301.5 357.3 295 348.4 295Z" fill="#3677fe"/><path d="M360.1 301.6 369 301.6 365.5 295 356.6 295.1Z" fill="#3974ff"/><path d="M368.3 301.7 377.3 301.6 373.8 295 364.9 295.2Z" fill="#3c71ff"/><path d="M376.6 301.7 385.5 301.5 382 295 373.1 295.2Z" fill="#3e70ff"/><path d="M384.8 301.6 393.7 301.3 390.3 294.9 381.3 295.1Z" fill="#406dfe"/><path d="M393 301.5 402 301.1 398.5 294.7 389.6 295Z" fill="#426afe"/><path d="M401.3 301.3 410.2 300.9 406.7 294.4 397.8 294.8Z" fill="#4368fe"/><path d="M409.5 301 418.5 300.5 415 294.1 406 294.6Z" fill="#4465fd"/><path d="M417.8 300.7 426.7 300.2 423.2 293.8 414.3 294.3Z" fill="#4564fd"/><path d="M426 300.3 434.9 299.7 431.4 293.3 422.5 293.9Z" fill="#4562fc"/><path d="M434.3 299.9 443.2 299.2 439.7 292.8 430.8 293.5Z" fill="#4661fc"/><path d="M442.5 299.3 451.4 298.6 447.9 292.3 439 293Z" fill="#4660fb"/><path d="M450.7 298.8 459.7 297.9 456.2 291.7 447.2 292.5Z" fill="#465efb"/><path d="M459 298.1 467.9 297.2 464.4 291 455.5 291.8Z" fill="#475dfa"/><path d="M467.2 297.4 476.1 296.4 472.6 290.3 463.7 291.2Z" fill="#475bfa"/><path d="M475.5 296.6 484.4 295.6 480.9 289.5 472 290.4Z" fill="#475af9"/><path d="M483.7 295.8 492.6 294.7 489.1 288.6 480.2 289.6Z" fill="#475af9"/><path d="M491.9 294.9 500.9 293.7 497.4 287.7 488.4 288.8Z" fill="#4759f8"/><path d="M500.2 293.9 509.1 292.7 505.6 286.7 496.7 287.9Z" fill="#4759f8"/><path d="M508.4 292.9 517.3 291.6 513.8 285.6 504.9 286.9Z" fill="#4759f8"/><path d="M516.7 291.8 525.6 290.4 522.1 284.5 513.1 285.9Z" fill="#4757f7"/><path d="M524.9 290.6 533.8 289.2 530.3 283.4 521.4 284.8Z" fill="#4757f7"/><path d="M533.1 289.4 542.1 287.9 538.6 282.2 529.6 283.6Z" fill="#4757f7"/><path d="M541.4 288.1 550.3 286.6 546.8 280.9 537.9 282.4Z" fill="#4757f7"/><path d="M549.6 286.8 558.5 285.2 555 279.5 546.1 281.1Z" fill="#4757f7"/><path d="M557.9 285.4 566.8 283.7 563.3 278.1 554.3 279.7Z" fill="#4759f8"/><path d="M566.1 283.9 575 282.2 571.5 276.6 562.6 278.3Z" fill="#4759f8"/><path d="M574.3 282.4 583.3 280.6 579.8 275.1 570.8 276.9Z" fill="#4759f8"/><path d="M582.6 280.8 591.5 278.9 588 273.5 579.1 275.3Z" fill="#475af9"/><path d="M590.8 279.1 599.8 277.2 596.2 271.9 587.3 273.8Z" fill="#475bfa"/><path d="M599.1 277.4 608 275.4 604.5 270.2 595.5 272.1Z" fill="#475bfa"/><path d="M607.3 275.6 616.2 273.5 612.7 268.4 603.8 270.4Z" fill="#475dfa"/><path d="M223.3 296.6 232.3 297.7 228.9 291.2 219.9 290.1Z" fill="#1caadf"/><path d="M231.6 297.7 240.5 298.8 237.1 292.3 228.2 291.3Z" fill="#1fa6e2"/><path d="M239.8 298.9 248.8 299.9 245.3 293.3 236.4 292.4Z" fill="#22a2e4"/><path d="M248.1 299.9 257 300.8 253.6 294.3 244.6 293.4Z" fill="#249fe5"/><path d="M256.3 300.9 265.2 301.8 261.8 295.2 252.9 294.4Z" fill="#269ae8"/><path d="M264.5 301.9 273.5 302.6 270 296 261.1 295.3Z" fill="#2797eb"/><path d="M272.8 302.7 281.7 303.4 278.3 296.8 269.3 296.1Z" fill="#2a93ee"/><path d="M281 303.5 290 304.1 286.5 297.5 277.6 296.9Z" fill="#2c8ff1"/><path d="M289.3 304.2 298.2 304.8 294.8 298.2 285.8 297.6Z" fill="#2d8bf4"/><path d="M297.5 304.9 306.4 305.4 303 298.7 294.1 298.3Z" fill="#2d88f6"/><path d="M305.8 305.5 314.7 305.9 311.2 299.2 302.3 298.9Z" fill="#2e84f8"/><path d="M314 306 322.9 306.3 319.5 299.7 310.5 299.4Z" fill="#2f82fa"/><path d="M322.2 306.4 331.2 306.7 327.7 300.1 318.8 299.8Z" fill="#317dfc"/><path d="M330.5 306.8 339.4 307 335.9 300.4 327 300.2Z" fill="#337afd"/><path d="M338.7 307.1 347.6 307.3 344.2 300.6 335.3 300.5Z" fill="#3677fe"/><path d="M347 307.4 355.9 307.4 352.4 300.8 343.5 300.8Z" fill="#3b73ff"/><path d="M355.2 307.6 364.1 307.5 360.7 300.9 351.7 301Z" fill="#3e70ff"/><path d="M363.4 307.7 372.4 307.6 368.9 301 360 301.1Z" fill="#406dfe"/><path d="M371.7 307.7 380.6 307.6 377.1 301 368.2 301.1Z" fill="#416bfe"/><path d="M379.9 307.7 388.8 307.5 385.4 300.9 376.4 301.1Z" fill="#4368fe"/><path d="M388.2 307.6 397.1 307.3 393.6 300.8 384.7 301.1Z" fill="#4465fd"/><path d="M396.4 307.5 405.3 307.1 401.8 300.6 392.9 300.9Z" fill="#4562fc"/><path d="M404.6 307.3 413.6 306.8 410.1 300.3 401.2 300.7Z" fill="#4661fc"/><path d="M412.9 307 421.8 306.5 418.3 300 409.4 300.5Z" fill="#4660fb"/><path d="M421.1 306.6 430.1 306.1 426.6 299.6 417.6 300.2Z" fill="#475dfa"/><path d="M429.4 306.2 438.3 305.6 434.8 299.1 425.9 299.8Z" fill="#475bfa"/><path d="M437.6 305.7 446.5 305 443 298.6 434.1 299.3Z" fill="#475af9"/><path d="M445.9 305.2 454.8 304.4 451.3 298 442.4 298.8Z" fill="#4759f8"/><path d="M454.1 304.6 463 303.7 459.5 297.4 450.6 298.2Z" fill="#4757f7"/><path d="M462.3 303.9 471.3 303 467.8 296.7 458.8 297.6Z" fill="#4756f7"/><path d="M470.6 303.1 479.5 302.1 476 295.9 467.1 296.9Z" fill="#4756f7"/><path d="M478.8 302.3 487.7 301.3 484.2 295.1 475.3 296.1Z" fill="#4854f6"/><path d="M487.1 301.5 496 300.3 492.5 294.2 483.5 295.3Z" fill="#4853f5"/><path d="M495.3 300.5 504.2 299.3 500.7 293.2 491.8 294.4Z" fill="#4853f5"/><path d="M503.5 299.5 512.5 298.2 509 292.2 500 293.4Z" fill="#4853f5"/><path d="M511.8 298.4 520.7 297.1 517.2 291.1 508.3 292.4Z" fill="#4852f4"/><path d="M520 297.3 528.9 295.9 525.4 289.9 516.5 291.3Z" fill="#4852f4"/><path d="M528.3 296.1 537.2 294.6 533.7 288.7 524.7 290.1Z" fill="#4852f4"/><path d="M536.5 294.8 545.4 293.3 541.9 287.4 533 288.9Z" fill="#4852f4"/><path d="M544.7 293.5 553.7 291.9 550.1 286.1 541.2 287.6Z" fill="#4852f4"/><path d="M553 292.1 561.9 290.4 558.4 284.7 549.5 286.3Z" fill="#4853f5"/><path d="M561.2 290.6 570.1 288.8 566.6 283.2 557.7 284.9Z" fill="#4853f5"/><path d="M569.5 289.1 578.4 287.2 574.9 281.7 565.9 283.4Z" fill="#4853f5"/><path d="M577.7 287.5 586.6 285.6 583.1 280.1 574.2 281.9Z" fill="#4854f6"/><path d="M585.9 285.8 594.9 283.9 591.3 278.4 582.4 280.3Z" fill="#4854f6"/><path d="M594.2 284.1 603.1 282.1 599.6 276.7 590.6 278.7Z" fill="#4756f7"/><path d="M602.4 282.3 611.3 280.2 607.8 274.9 598.9 276.9Z" fill="#4757f7"/><path d="M610.6 280.4 619.6 278.3 616.1 273.1 607.1 275.2Z" fill="#4759f8"/><path d="M226.7 302.5 235.6 303.6 232.2 297.1 223.3 296Z" fill="#20a5e3"/><path d="M234.9 303.7 243.9 304.8 240.5 298.2 231.5 297.2Z" fill="#23a1e4"/><path d="M243.2 304.9 252.1 305.8 248.7 299.3 239.7 298.3Z" fill="#259ce7"/><path d="M251.4 305.9 260.4 306.9 256.9 300.3 248 299.4Z" fill="#2699e9"/><path d="M259.7 306.9 268.6 307.8 265.2 301.2 256.2 300.4Z" fill="#2994ed"/><path d="M267.9 307.9 276.8 308.7 273.4 302.1 264.5 301.3Z" fill="#2c90f0"/><path d="M276.1 308.8 285.1 309.5 281.6 302.8 272.7 302.2Z" fill="#2d8cf3"/><path d="M284.4 309.6 293.3 310.2 289.9 303.6 280.9 302.9Z" fill="#2d88f6"/><path d="M292.6 310.3 301.6 310.9 298.1 304.2 289.2 303.7Z" fill="#2e84f8"/><path d="M300.9 311 309.8 311.4 306.3 304.8 297.4 304.3Z" fill="#2f82fa"/><path d="M309.1 311.6 318 312 314.6 305.3 305.7 304.9Z" fill="#317dfc"/><path d="M317.4 312.1 326.3 312.4 322.8 305.8 313.9 305.4Z" fill="#337afd"/><path d="M325.6 312.5 334.5 312.8 331.1 306.1 322.1 305.9Z" fill="#3876fe"/><path d="M333.8 312.9 342.8 313.1 339.3 306.4 330.4 306.3Z" fill="#3b73ff"/><path d="M342.1 313.2 351 313.4 347.5 306.7 338.6 306.6Z" fill="#3e70ff"/><path d="M350.3 313.5 359.2 313.5 355.8 306.9 346.9 306.8Z" fill="#416bfe"/><path d="M358.6 313.7 367.5 313.6 364 307 355.1 307Z" fill="#4368fe"/><path d="M366.8 313.8 375.7 313.7 372.2 307 363.3 307.1Z" fill="#4465fd"/><path d="M375 313.8 384 313.6 380.5 307 371.6 307.2Z" fill="#4564fd"/><path d="M383.3 313.8 392.2 313.5 388.7 306.9 379.8 307.2Z" fill="#4661fc"/><path d="M391.5 313.7 400.4 313.4 397 306.8 388 307.1Z" fill="#465efb"/><path d="M399.8 313.5 408.7 313.1 405.2 306.6 396.3 306.9Z" fill="#475dfa"/><path d="M408 313.3 416.9 312.8 413.4 306.3 404.5 306.7Z" fill="#475af9"/><path d="M416.2 313 425.2 312.4 421.7 305.9 412.8 306.4Z" fill="#4759f8"/><path d="M424.5 312.6 433.4 312 429.9 305.5 421 306.1Z" fill="#4756f7"/><path d="M432.7 312.2 441.6 311.5 438.2 305 429.2 305.7Z" fill="#4854f6"/><path d="M441 311.7 449.9 310.9 446.4 304.5 437.5 305.2Z" fill="#4853f5"/><path d="M449.2 311.1 458.1 310.3 454.6 303.9 445.7 304.6Z" fill="#4852f4"/><path d="M457.4 310.4 466.4 309.5 462.9 303.2 454 304Z" fill="#4850f3"/><path d="M465.7 309.7 474.6 308.8 471.1 302.4 462.2 303.3Z" fill="#4850f3"/><path d="M473.9 308.9 482.9 307.9 479.3 301.6 470.4 302.6Z" fill="#484ff2"/><path d="M482.2 308.1 491.1 307 487.6 300.7 478.7 301.8Z" fill="#484ef1"/><path d="M490.4 307.2 499.3 306 495.8 299.8 486.9 300.9Z" fill="#484ef1"/><path d="M498.7 306.2 507.6 304.9 504.1 298.8 495.1 300Z" fill="#484ef1"/><path d="M506.9 305.1 515.8 303.8 512.3 297.7 503.4 299Z" fill="#484cf0"/><path d="M515.1 304 524.1 302.6 520.5 296.6 511.6 297.9Z" fill="#484cf0"/><path d="M523.4 302.8 532.3 301.4 528.8 295.4 519.9 296.8Z" fill="#484cf0"/><path d="M531.6 301.6 540.5 300 537 294.1 528.1 295.6Z" fill="#484cf0"/><path d="M539.9 300.2 548.8 298.6 545.3 292.7 536.3 294.3Z" fill="#484cf0"/><path d="M548.1 298.9 557 297.2 553.5 291.3 544.6 293Z" fill="#484cf0"/><path d="M556.3 297.4 565.3 295.6 561.7 289.9 552.8 291.6Z" fill="#484ef1"/><path d="M564.6 295.9 573.5 294.1 570 288.3 561 290.1Z" fill="#484ef1"/><path d="M572.8 294.3 581.7 292.4 578.2 286.7 569.3 288.6Z" fill="#484ff2"/><path d="M581.1 292.6 590 290.7 586.5 285.1 577.5 287Z" fill="#484ff2"/><path d="M589.3 290.9 598.2 288.9 594.7 283.4 585.8 285.3Z" fill="#4850f3"/><path d="M597.5 289.1 606.5 287 602.9 281.6 594 283.6Z" fill="#4852f4"/><path d="M605.8 287.2 614.7 285.1 611.2 279.7 602.2 281.8Z" fill="#4853f5"/><path d="M614 285.3 622.9 283.1 619.4 277.8 610.5 280Z" fill="#4854f6"/><path d="M230 308.4 239 309.6 235.6 303.1 226.6 301.9Z" fill="#249fe5"/><path d="M238.3 309.7 247.2 310.8 243.8 304.2 234.9 303.1Z" fill="#259be8"/><path d="M246.5 310.9 255.5 311.9 252 305.3 243.1 304.3Z" fill="#2797eb"/><path d="M254.8 312 263.7 312.9 260.3 306.3 251.3 305.4Z" fill="#2a93ee"/><path d="M263 313 271.9 313.9 268.5 307.2 259.6 306.4Z" fill="#2c8ff1"/><path d="M271.3 314 280.2 314.8 276.8 308.1 267.8 307.3Z" fill="#2d8af5"/><path d="M279.5 314.9 288.4 315.6 285 308.9 276.1 308.2Z" fill="#2e86f8"/><path d="M287.7 315.7 296.7 316.3 293.2 309.6 284.3 309Z" fill="#2f82fa"/><path d="M296 316.4 304.9 317 301.5 310.3 292.5 309.7Z" fill="#317dfc"/><path d="M304.2 317.1 313.2 317.6 309.7 310.9 300.8 310.4Z" fill="#337afd"/><path d="M312.5 317.7 321.4 318.1 317.9 311.4 309 311Z" fill="#3876fe"/><path d="M320.7 318.2 329.6 318.6 326.2 311.9 317.3 311.5Z" fill="#3c71ff"/><path d="M328.9 318.7 337.9 318.9 334.4 312.2 325.5 312Z" fill="#3f6eff"/><path d="M337.2 319.1 346.1 319.3 342.7 312.5 333.7 312.4Z" fill="#416bfe"/><path d="M345.4 319.4 354.4 319.5 350.9 312.8 342 312.7Z" fill="#4367fd"/><path d="M353.7 319.6 362.6 319.7 359.1 313 350.2 312.9Z" fill="#4564fd"/><path d="M361.9 319.8 370.8 319.8 367.4 313.1 358.4 313.1Z" fill="#4661fc"/><path d="M370.2 319.9 379.1 319.8 375.6 313.1 366.7 313.2Z" fill="#465efb"/><path d="M378.4 319.9 387.3 319.7 383.8 313.1 374.9 313.3Z" fill="#475bfa"/><path d="M386.6 319.9 395.6 319.6 392.1 313 383.2 313.2Z" fill="#475af9"/><path d="M394.9 319.8 403.8 319.4 400.3 312.8 391.4 313.1Z" fill="#4757f7"/><path d="M403.1 319.6 412 319.2 408.6 312.6 399.6 313Z" fill="#4756f7"/><path d="M411.4 319.3 420.3 318.9 416.8 312.3 407.9 312.7Z" fill="#4853f5"/><path d="M419.6 319 428.5 318.5 425 311.9 416.1 312.4Z" fill="#4852f4"/><path d="M427.8 318.6 436.8 318 433.3 311.4 424.4 312.1Z" fill="#4850f3"/><path d="M436.1 318.2 445 317.5 441.5 310.9 432.6 311.6Z" fill="#484ef1"/><path d="M444.3 317.6 453.2 316.9 449.7 310.4 440.8 311.1Z" fill="#484cf0"/><path d="M452.6 317 461.5 316.2 458 309.7 449.1 310.5Z" fill="#484bee"/><path d="M460.8 316.3 469.7 315.4 466.2 309 457.3 309.9Z" fill="#484bee"/><path d="M469 315.6 478 314.6 474.5 308.2 465.5 309.2Z" fill="#4849ed"/><path d="M477.3 314.8 486.2 313.7 482.7 307.4 473.8 308.4Z" fill="#4848ec"/><path d="M485.5 313.9 494.4 312.8 490.9 306.4 482 307.6Z" fill="#4848ec"/><path d="M493.8 312.9 502.7 311.7 499.2 305.5 490.3 306.6Z" fill="#4746eb"/><path d="M502 311.9 510.9 310.6 507.4 304.4 498.5 305.7Z" fill="#4746eb"/><path d="M510.2 310.8 519.2 309.5 515.7 303.3 506.7 304.6Z" fill="#4746eb"/><path d="M518.5 309.7 527.4 308.2 523.9 302.1 515 303.5Z" fill="#4746eb"/><path d="M526.7 308.4 535.7 306.9 532.1 300.8 523.2 302.3Z" fill="#4746eb"/><path d="M535 307.1 543.9 305.5 540.4 299.5 531.5 301.1Z" fill="#4746eb"/><path d="M543.2 305.7 552.1 304.1 548.6 298.1 539.7 299.7Z" fill="#4746eb"/><path d="M551.4 304.3 560.4 302.6 556.9 296.7 547.9 298.3Z" fill="#4746eb"/><path d="M559.7 302.8 568.6 301 565.1 295.1 556.2 296.9Z" fill="#4848ec"/><path d="M567.9 301.2 576.9 299.3 573.3 293.5 564.4 295.4Z" fill="#4848ec"/><path d="M576.2 299.5 585.1 297.6 581.6 291.9 572.6 293.8Z" fill="#4849ed"/><path d="M584.4 297.8 593.3 295.8 589.8 290.2 580.9 292.1Z" fill="#4849ed"/><path d="M592.6 296 601.6 293.9 598.1 288.4 589.1 290.4Z" fill="#484bee"/><path d="M600.9 294.2 609.8 292 606.3 286.5 597.4 288.6Z" fill="#484cf0"/><path d="M609.1 292.3 618.1 290 614.5 284.6 605.6 286.8Z" fill="#484ef1"/><path d="M617.4 290.3 626.3 287.9 622.8 282.6 613.8 284.8Z" fill="#484ff2"/><path d="M233.4 314.4 242.3 315.6 238.9 309.1 230 307.9Z" fill="#2699e9"/><path d="M241.6 315.7 250.6 316.8 247.2 310.2 238.2 309.1Z" fill="#2895ec"/><path d="M249.9 316.9 258.8 318 255.4 311.3 246.5 310.3Z" fill="#2c90f0"/><path d="M258.1 318 267.1 319 263.6 312.4 254.7 311.4Z" fill="#2d8cf3"/><path d="M266.4 319.1 275.3 320 271.9 313.3 262.9 312.4Z" fill="#2d88f6"/><path d="M274.6 320.1 283.5 320.9 280.1 314.2 271.2 313.4Z" fill="#2e83f9"/><path d="M282.9 321 291.8 321.7 288.3 315 279.4 314.3Z" fill="#307ffb"/><path d="M291.1 321.8 300 322.5 296.6 315.7 287.7 315.1Z" fill="#337afd"/><path d="M299.3 322.6 308.3 323.1 304.8 316.4 295.9 315.9Z" fill="#3876fe"/><path d="M307.6 323.3 316.5 323.8 313.1 317 304.1 316.5Z" fill="#3b73ff"/><path d="M315.8 323.9 324.7 324.3 321.3 317.5 312.4 317.1Z" fill="#3f6eff"/><path d="M324.1 324.4 333 324.7 329.5 318 320.6 317.7Z" fill="#426afe"/><path d="M332.3 324.9 341.2 325.1 337.8 318.4 328.8 318.1Z" fill="#4367fd"/><path d="M340.5 325.3 349.5 325.4 346 318.7 337.1 318.5Z" fill="#4562fc"/><path d="M348.8 325.6 357.7 325.7 354.2 318.9 345.3 318.8Z" fill="#4660fb"/><path d="M357 325.8 365.9 325.8 362.5 319.1 353.6 319.1Z" fill="#475dfa"/><path d="M365.3 326 374.2 325.9 370.7 319.2 361.8 319.2Z" fill="#475af9"/><path d="M373.5 326.1 382.4 326 379 319.2 370 319.3Z" fill="#4757f7"/><path d="M381.8 326.1 390.7 325.9 387.2 319.2 378.3 319.4Z" fill="#4854f6"/><path d="M390 326.1 398.9 325.8 395.4 319.1 386.5 319.3Z" fill="#4853f5"/><path d="M398.2 325.9 407.2 325.6 403.7 318.9 394.8 319.2Z" fill="#4850f3"/><path d="M406.5 325.7 415.4 325.3 411.9 318.6 403 319Z" fill="#484ef1"/><path d="M414.7 325.5 423.6 325 420.1 318.3 411.2 318.8Z" fill="#484cf0"/><path d="M423 325.1 431.9 324.5 428.4 317.9 419.5 318.5Z" fill="#484bee"/><path d="M431.2 324.7 440.1 324 436.6 317.4 427.7 318.1Z" fill="#4849ed"/><path d="M439.4 324.2 448.4 323.5 444.9 316.9 435.9 317.6Z" fill="#4746eb"/><path d="M447.7 323.7 456.6 322.8 453.1 316.3 444.2 317.1Z" fill="#4745e9"/><path d="M455.9 323 464.8 322.1 461.3 315.6 452.4 316.5Z" fill="#4745e9"/><path d="M464.2 322.3 473.1 321.4 469.6 314.9 460.7 315.8Z" fill="#4744e8"/><path d="M472.4 321.5 481.3 320.5 477.8 314.1 468.9 315.1Z" fill="#4742e6"/><path d="M480.6 320.7 489.6 319.6 486.1 313.2 477.1 314.2Z" fill="#4742e6"/><path d="M488.9 319.8 497.8 318.6 494.3 312.2 485.4 313.4Z" fill="#4741e5"/><path d="M497.1 318.8 506 317.5 502.5 311.2 493.6 312.4Z" fill="#4741e5"/><path d="M505.4 317.7 514.3 316.4 510.8 310.1 501.9 311.4Z" fill="#4741e5"/><path d="M513.6 316.6 522.5 315.1 519 308.9 510.1 310.3Z" fill="#473fe3"/><path d="M521.8 315.4 530.8 313.9 527.3 307.7 518.3 309.1Z" fill="#473fe3"/><path d="M530.1 314.1 539 312.5 535.5 306.4 526.6 307.9Z" fill="#473fe3"/><path d="M538.3 312.7 547.2 311.1 543.7 305 534.8 306.6Z" fill="#4741e5"/><path d="M546.6 311.3 555.5 309.6 552 303.6 543 305.2Z" fill="#4741e5"/><path d="M554.8 309.8 563.7 308 560.2 302 551.3 303.8Z" fill="#4741e5"/><path d="M563 308.2 572 306.4 568.4 300.5 559.5 302.3Z" fill="#4742e6"/><path d="M571.3 306.6 580.2 304.6 576.7 298.8 567.8 300.7Z" fill="#4742e6"/><path d="M579.5 304.9 588.5 302.8 584.9 297.1 576 299Z" fill="#4744e8"/><path d="M587.8 303.1 596.7 301 593.2 295.3 584.2 297.3Z" fill="#4745e9"/><path d="M596 301.2 604.9 299.1 601.4 293.4 592.5 295.5Z" fill="#4745e9"/><path d="M604.2 299.3 613.2 297.1 609.6 291.5 600.7 293.7Z" fill="#4746eb"/><path d="M612.5 297.3 621.4 295 617.9 289.5 609 291.8Z" fill="#4849ed"/><path d="M620.7 295.2 629.7 292.8 626.1 287.5 617.2 289.8Z" fill="#484bee"/><path d="M236.8 320.4 245.7 321.7 242.3 315.1 233.3 313.9Z" fill="#2a93ee"/><path d="M245 321.8 253.9 322.9 250.5 316.3 241.6 315.1Z" fill="#2c8ff1"/><path d="M253.2 323 262.2 324.1 258.8 317.4 249.8 316.3Z" fill="#2d8af5"/><path d="M261.5 324.1 270.4 325.1 267 318.4 258.1 317.5Z" fill="#2e86f8"/><path d="M269.7 325.2 278.7 326.1 275.2 319.4 266.3 318.5Z" fill="#2f80fa"/><path d="M278 326.2 286.9 327 283.5 320.3 274.5 319.5Z" fill="#327cfc"/><path d="M286.2 327.1 295.1 327.9 291.7 321.1 282.8 320.4Z" fill="#3677fe"/><path d="M294.5 328 303.4 328.7 299.9 321.9 291 321.2Z" fill="#3b73ff"/><path d="M302.7 328.8 311.6 329.4 308.2 322.6 299.3 322Z" fill="#3f6eff"/><path d="M310.9 329.5 319.9 330 316.4 323.2 307.5 322.7Z" fill="#426afe"/><path d="M319.2 330.1 328.1 330.5 324.6 323.7 315.7 323.3Z" fill="#4367fd"/><path d="M327.4 330.6 336.3 331 332.9 324.2 324 323.8Z" fill="#4562fc"/><path d="M335.7 331.1 344.6 331.4 341.1 324.6 332.2 324.3Z" fill="#4660fb"/><path d="M343.9 331.5 352.8 331.7 349.4 324.9 340.4 324.7Z" fill="#475bfa"/><path d="M352.1 331.8 361.1 331.9 357.6 325.1 348.7 325Z" fill="#4759f8"/><path d="M360.4 332 369.3 332.1 365.8 325.3 356.9 325.2Z" fill="#4756f7"/><path d="M368.6 332.2 377.5 332.2 374.1 325.4 365.2 325.4Z" fill="#4853f5"/><path d="M376.9 332.3 385.8 332.2 382.3 325.4 373.4 325.5Z" fill="#4850f3"/><path d="M385.1 332.3 394 332.1 390.6 325.3 381.6 325.5Z" fill="#484ef1"/><path d="M393.4 332.3 402.3 332 398.8 325.2 389.9 325.5Z" fill="#484bee"/><path d="M401.6 332.1 410.5 331.7 407 325 398.1 325.4Z" fill="#4849ed"/><path d="M409.8 331.9 418.7 331.5 415.3 324.7 406.4 325.2Z" fill="#4746eb"/><path d="M418.1 331.6 427 331.1 423.5 324.4 414.6 324.9Z" fill="#4745e9"/><path d="M426.3 331.3 435.2 330.7 431.7 324 422.8 324.6Z" fill="#4744e8"/><path d="M434.6 330.8 443.5 330.1 440 323.5 431.1 324.1Z" fill="#4742e6"/><path d="M442.8 330.3 451.7 329.6 448.2 322.9 439.3 323.7Z" fill="#473fe3"/><path d="M451 329.7 460 328.9 456.5 322.3 447.5 323.1Z" fill="#473fe3"/><path d="M459.3 329.1 468.2 328.1 464.7 321.6 455.8 322.5Z" fill="#473ee1"/><path d="M467.5 328.3 476.4 327.3 472.9 320.8 464 321.8Z" fill="#463de0"/><path d="M475.8 327.5 484.7 326.4 481.2 320 472.3 321Z" fill="#463bde"/><path d="M484 326.6 492.9 325.5 489.4 319 480.5 320.1Z" fill="#463bde"/><path d="M492.2 325.7 501.2 324.4 497.6 318 488.7 319.2Z" fill="#463adc"/><path d="M500.5 324.6 509.4 323.3 505.9 317 497 318.2Z" fill="#463adc"/><path d="M508.7 323.5 517.6 322.2 514.1 315.8 505.2 317.2Z" fill="#463adc"/><path d="M517 322.4 525.9 320.9 522.4 314.6 513.4 316Z" fill="#463adc"/><path d="M525.2 321.1 534.1 319.6 530.6 313.3 521.7 314.8Z" fill="#463adc"/><path d="M533.4 319.8 542.4 318.2 538.8 312 529.9 313.5Z" fill="#463adc"/><path d="M541.7 318.4 550.6 316.7 547.1 310.5 538.2 312.2Z" fill="#463adc"/><path d="M549.9 316.9 558.8 315.1 555.3 309.1 546.4 310.8Z" fill="#463adc"/><path d="M558.2 315.3 567.1 313.5 563.6 307.5 554.6 309.3Z" fill="#463bde"/><path d="M566.4 313.7 575.3 311.8 571.8 305.8 562.9 307.7Z" fill="#463bde"/><path d="M574.6 312 583.6 310 580 304.1 571.1 306.1Z" fill="#463de0"/><path d="M582.9 310.3 591.8 308.2 588.3 302.3 579.4 304.4Z" fill="#473ee1"/><path d="M591.1 308.4 600.1 306.2 596.5 300.5 587.6 302.6Z" fill="#473fe3"/><path d="M599.4 306.5 608.3 304.2 604.8 298.6 595.8 300.7Z" fill="#4741e5"/><path d="M607.6 304.5 616.5 302.2 613 296.6 604.1 298.8Z" fill="#4742e6"/><path d="M615.8 302.4 624.8 300 621.2 294.5 612.3 296.8Z" fill="#4744e8"/><path d="M624.1 300.3 633 297.8 629.5 292.4 620.5 294.8Z" fill="#4745e9"/><path d="M240.1 326.5 249.1 327.8 245.6 321.1 236.7 319.9Z" fill="#2d8cf3"/><path d="M248.4 327.8 257.3 329 253.9 322.3 244.9 321.2Z" fill="#2d88f6"/><path d="M256.6 329.1 265.5 330.2 262.1 323.5 253.2 322.4Z" fill="#2e83f9"/><path d="M264.8 330.3 273.8 331.3 270.3 324.6 261.4 323.6Z" fill="#307ffb"/><path d="M273.1 331.4 282 332.3 278.6 325.6 269.7 324.7Z" fill="#3579fd"/><path d="M281.3 332.4 290.3 333.3 286.8 326.5 277.9 325.7Z" fill="#3974ff"/><path d="M289.6 333.3 298.5 334.1 295.1 327.3 286.1 326.6Z" fill="#3e70ff"/><path d="M297.8 334.2 306.7 334.9 303.3 328.1 294.4 327.4Z" fill="#416bfe"/><path d="M306.1 335 315 335.6 311.5 328.8 302.6 328.2Z" fill="#4367fd"/><path d="M314.3 335.7 323.2 336.2 319.8 329.4 310.8 328.9Z" fill="#4562fc"/><path d="M322.5 336.3 331.5 336.8 328 329.9 319.1 329.5Z" fill="#465efb"/><path d="M330.8 336.9 339.7 337.2 336.2 330.4 327.3 330.1Z" fill="#475bfa"/><path d="M339 337.4 347.9 337.6 344.5 330.8 335.6 330.5Z" fill="#4757f7"/><path d="M347.3 337.8 356.2 337.9 352.7 331.1 343.8 330.9Z" fill="#4854f6"/><path d="M355.5 338.1 364.4 338.2 361 331.3 352 331.2Z" fill="#4852f4"/><path d="M363.7 338.3 372.7 338.3 369.2 331.5 360.3 331.5Z" fill="#484ff2"/><path d="M372 338.5 380.9 338.4 377.4 331.6 368.5 331.6Z" fill="#484cf0"/><path d="M380.2 338.6 389.1 338.4 385.7 331.6 376.8 331.7Z" fill="#4849ed"/><path d="M388.5 338.6 397.4 338.3 393.9 331.5 385 331.7Z" fill="#4746eb"/><path d="M396.7 338.5 405.6 338.2 402.1 331.4 393.2 331.7Z" fill="#4744e8"/><path d="M405 338.3 413.9 338 410.4 331.2 401.5 331.5Z" fill="#4742e6"/><path d="M413.2 338.1 422.1 337.7 418.6 330.9 409.7 331.3Z" fill="#473fe3"/><path d="M421.4 337.8 430.3 337.3 426.9 330.5 417.9 331.1Z" fill="#473ee1"/><path d="M429.7 337.4 438.6 336.8 435.1 330.1 426.2 330.7Z" fill="#463de0"/><path d="M437.9 337 446.8 336.3 443.3 329.6 434.4 330.3Z" fill="#463adc"/><path d="M446.2 336.5 455.1 335.7 451.6 329 442.7 329.8Z" fill="#4639d9"/><path d="M454.4 335.8 463.3 335 459.8 328.3 450.9 329.2Z" fill="#4538d7"/><path d="M462.6 335.2 471.6 334.2 468 327.6 459.1 328.5Z" fill="#4538d7"/><path d="M470.9 334.4 479.8 333.4 476.3 326.8 467.4 327.8Z" fill="#4537d5"/><path d="M479.1 333.5 488 332.4 484.5 325.9 475.6 327Z" fill="#4535d2"/><path d="M487.4 332.6 496.3 331.4 492.8 324.9 483.9 326.1Z" fill="#4535d2"/><path d="M495.6 331.6 504.5 330.4 501 323.9 492.1 325.1Z" fill="#4535d2"/><path d="M503.8 330.6 512.8 329.2 509.2 322.8 500.3 324.1Z" fill="#4434d0"/><path d="M512.1 329.4 521 328 517.5 321.6 508.6 323Z" fill="#4434d0"/><path d="M520.3 328.2 529.2 326.7 525.7 320.4 516.8 321.8Z" fill="#4434d0"/><path d="M528.6 326.9 537.5 325.3 534 319 525 320.6Z" fill="#4434d0"/><path d="M536.8 325.5 545.7 323.9 542.2 317.6 533.3 319.2Z" fill="#4434d0"/><path d="M545 324.1 554 322.3 550.4 316.1 541.5 317.8Z" fill="#4535d2"/><path d="M553.3 322.5 562.2 320.7 558.7 314.6 549.8 316.4Z" fill="#4535d2"/><path d="M561.5 320.9 570.4 319 566.9 313 558 314.8Z" fill="#4537d5"/><path d="M569.8 319.3 578.7 317.3 575.2 311.3 566.2 313.2Z" fill="#4537d5"/><path d="M578 317.5 586.9 315.4 583.4 309.5 574.5 311.5Z" fill="#4538d7"/><path d="M586.2 315.7 595.2 313.5 591.6 307.7 582.7 309.7Z" fill="#4639d9"/><path d="M594.5 313.8 603.4 311.6 599.9 305.7 590.9 307.9Z" fill="#463adc"/><path d="M602.7 311.8 611.6 309.5 608.1 303.8 599.2 306Z" fill="#463bde"/><path d="M611 309.7 619.9 307.4 616.3 301.7 607.4 304Z" fill="#463de0"/><path d="M619.2 307.6 628.1 305.1 624.6 299.6 615.7 301.9Z" fill="#473ee1"/><path d="M627.4 305.4 636.4 302.9 632.8 297.3 623.9 299.8Z" fill="#4741e5"/><path d="M243.5 332.6 252.4 333.9 249 327.2 240.1 326Z" fill="#2e86f8"/><path d="M251.7 334 260.6 335.2 257.2 328.5 248.3 327.3Z" fill="#2f82fa"/><path d="M260 335.3 268.9 336.4 265.5 329.6 256.5 328.5Z" fill="#327cfc"/><path d="M268.2 336.5 277.1 337.5 273.7 330.7 264.8 329.7Z" fill="#3677fe"/><path d="M276.4 337.6 285.4 338.5 281.9 331.7 273 330.8Z" fill="#3c71ff"/><path d="M284.7 338.6 293.6 339.5 290.2 332.7 281.2 331.8Z" fill="#406dfe"/><path d="M292.9 339.6 301.8 340.4 298.4 333.5 289.5 332.8Z" fill="#4368fe"/><path d="M301.2 340.5 310.1 341.2 306.6 334.3 297.7 333.6Z" fill="#4564fd"/><path d="M309.4 341.3 318.3 341.9 314.9 335 306 334.4Z" fill="#4660fb"/><path d="M317.7 342 326.6 342.5 323.1 335.7 314.2 335.1Z" fill="#475bfa"/><path d="M325.9 342.6 334.8 343.1 331.4 336.2 322.4 335.8Z" fill="#4757f7"/><path d="M334.1 343.2 343.1 343.5 339.6 336.7 330.7 336.3Z" fill="#4854f6"/><path d="M342.4 343.7 351.3 343.9 347.8 337.1 338.9 336.8Z" fill="#4850f3"/><path d="M350.6 344.1 359.5 344.3 356.1 337.4 347.2 337.2Z" fill="#484ef1"/><path d="M358.9 344.4 367.8 344.5 364.3 337.6 355.4 337.5Z" fill="#4849ed"/><path d="M367.1 344.6 376 344.6 372.5 337.8 363.6 337.7Z" fill="#4746eb"/><path d="M375.3 344.8 384.3 344.7 380.8 337.8 371.9 337.9Z" fill="#4744e8"/><path d="M383.6 344.9 392.5 344.7 389 337.9 380.1 338Z" fill="#4741e5"/><path d="M391.8 344.9 400.7 344.6 397.3 337.8 388.3 338Z" fill="#473fe3"/><path d="M400.1 344.8 409 344.5 405.5 337.6 396.6 337.9Z" fill="#463de0"/><path d="M408.3 344.6 417.2 344.2 413.7 337.4 404.8 337.8Z" fill="#463adc"/><path d="M416.6 344.4 425.5 343.9 422 337.1 413.1 337.6Z" fill="#4639d9"/><path d="M424.8 344.1 433.7 343.5 430.2 336.7 421.3 337.3Z" fill="#4538d7"/><path d="M433 343.7 441.9 343 438.4 336.3 429.5 336.9Z" fill="#4535d2"/><path d="M441.3 343.2 450.2 342.5 446.7 335.7 437.8 336.4Z" fill="#4434d0"/><path d="M449.5 342.6 458.4 341.8 454.9 335.1 446 335.9Z" fill="#4433cd"/><path d="M457.8 342 466.7 341.1 463.2 334.4 454.3 335.3Z" fill="#4332ca"/><path d="M466 341.3 474.9 340.3 471.4 333.7 462.5 334.6Z" fill="#4332ca"/><path d="M474.2 340.5 483.1 339.4 479.6 332.8 470.7 333.8Z" fill="#4331c8"/><path d="M482.5 339.6 491.4 338.5 487.9 331.9 479 333Z" fill="#4330c5"/><path d="M490.7 338.7 499.6 337.5 496.1 330.9 487.2 332.1Z" fill="#4330c5"/><path d="M499 337.7 507.9 336.3 504.4 329.8 495.4 331.1Z" fill="#4330c5"/><path d="M507.2 336.5 516.1 335.2 512.6 328.7 503.7 330Z" fill="#422fc2"/><path d="M515.4 335.4 524.4 333.9 520.8 327.5 511.9 328.9Z" fill="#422fc2"/><path d="M523.7 334.1 532.6 332.5 529.1 326.2 520.2 327.7Z" fill="#422fc2"/><path d="M531.9 332.8 540.8 331.1 537.3 324.8 528.4 326.4Z" fill="#4330c5"/><path d="M540.2 331.3 549.1 329.6 545.5 323.3 536.6 325Z" fill="#4330c5"/><path d="M548.4 329.8 557.3 328 553.8 321.8 544.9 323.5Z" fill="#4330c5"/><path d="M556.6 328.3 565.6 326.4 562 320.2 553.1 322Z" fill="#4331c8"/><path d="M564.9 326.6 573.8 324.6 570.3 318.5 561.4 320.4Z" fill="#4331c8"/><path d="M573.1 324.9 582 322.8 578.5 316.8 569.6 318.8Z" fill="#4332ca"/><path d="M581.4 323.1 590.3 320.9 586.7 314.9 577.8 317Z" fill="#4433cd"/><path d="M589.6 321.2 598.5 319 595 313 586.1 315.2Z" fill="#4434d0"/><path d="M597.8 319.2 606.8 316.9 603.2 311.1 594.3 313.3Z" fill="#4535d2"/><path d="M606.1 317.2 615 314.8 611.5 309 602.5 311.3Z" fill="#4537d5"/><path d="M614.3 315 623.2 312.6 619.7 306.9 610.8 309.3Z" fill="#4538d7"/><path d="M622.6 312.9 631.5 310.3 627.9 304.7 619 307.1Z" fill="#4639d9"/><path d="M630.8 310.6 639.7 308 636.2 302.4 627.3 304.9Z" fill="#463bde"/><path d="M246.8 338.7 255.8 340.1 252.3 333.3 243.4 332Z" fill="#307ffb"/><path d="M255.1 340.1 264 341.4 260.6 334.6 251.6 333.4Z" fill="#337afd"/><path d="M263.3 341.4 272.2 342.6 268.8 335.8 259.9 334.7Z" fill="#3974ff"/><path d="M271.6 342.7 280.5 343.7 277.1 336.9 268.1 335.9Z" fill="#3f6eff"/><path d="M279.8 343.8 288.7 344.8 285.3 338 276.4 337Z" fill="#426afe"/><path d="M288 344.9 297 345.8 293.5 338.9 284.6 338.1Z" fill="#4465fd"/><path d="M296.3 345.9 305.2 346.7 301.8 339.8 292.8 339Z" fill="#4660fb"/><path d="M304.5 346.8 313.4 347.5 310 340.6 301.1 339.9Z" fill="#475bfa"/><path d="M312.8 347.6 321.7 348.2 318.2 341.3 309.3 340.7Z" fill="#4757f7"/><path d="M321 348.3 329.9 348.8 326.5 341.9 317.6 341.4Z" fill="#4853f5"/><path d="M329.2 349 338.2 349.4 334.7 342.5 325.8 342.1Z" fill="#4850f3"/><path d="M337.5 349.5 346.4 349.9 343 343 334 342.6Z" fill="#484cf0"/><path d="M345.7 350 354.6 350.3 351.2 343.4 342.3 343.1Z" fill="#4849ed"/><path d="M354 350.4 362.9 350.6 359.4 343.7 350.5 343.5Z" fill="#4745e9"/><path d="M362.2 350.7 371.1 350.8 367.7 343.9 358.8 343.8Z" fill="#4742e6"/><path d="M370.5 351 379.4 351 375.9 344.1 367 344.1Z" fill="#473fe3"/><path d="M378.7 351.1 387.6 351.1 384.1 344.2 375.2 344.2Z" fill="#463de0"/><path d="M386.9 351.2 395.9 351.1 392.4 344.1 383.5 344.3Z" fill="#463adc"/><path d="M395.2 351.2 404.1 351 400.6 344.1 391.7 344.3Z" fill="#4538d7"/><path d="M403.4 351.1 412.3 350.8 408.9 343.9 399.9 344.2Z" fill="#4537d5"/><path d="M411.7 350.9 420.6 350.5 417.1 343.7 408.2 344.1Z" fill="#4434d0"/><path d="M419.9 350.7 428.8 350.2 425.3 343.3 416.4 343.8Z" fill="#4433cd"/><path d="M428.1 350.4 437.1 349.8 433.6 342.9 424.7 343.5Z" fill="#4331c8"/><path d="M436.4 349.9 445.3 349.3 441.8 342.5 432.9 343.1Z" fill="#4330c5"/><path d="M444.6 349.5 453.5 348.7 450 341.9 441.1 342.6Z" fill="#422fc2"/><path d="M452.9 348.9 461.8 348 458.3 341.3 449.4 342.1Z" fill="#422ebf"/><path d="M461.1 348.2 470 347.3 466.5 340.6 457.6 341.4Z" fill="#412dbd"/><path d="M469.4 347.5 478.3 346.5 474.8 339.8 465.8 340.7Z" fill="#412cba"/><path d="M477.6 346.7 486.5 345.6 483 338.9 474.1 339.9Z" fill="#412cba"/><path d="M485.8 345.8 494.7 344.6 491.2 337.9 482.3 339.1Z" fill="#402bb7"/><path d="M494.1 344.8 503 343.5 499.5 336.9 490.6 338.1Z" fill="#402bb7"/><path d="M502.3 343.7 511.2 342.4 507.7 335.8 498.8 337.1Z" fill="#402bb7"/><path d="M510.6 342.6 519.5 341.1 515.9 334.6 507 336Z" fill="#402bb7"/><path d="M518.8 341.3 527.7 339.8 524.2 333.4 515.3 334.8Z" fill="#402ab4"/><path d="M527 340 535.9 338.4 532.4 332 523.5 333.6Z" fill="#402bb7"/><path d="M535.3 338.7 544.2 337 540.7 330.6 531.8 332.2Z" fill="#402bb7"/><path d="M543.5 337.2 552.4 335.4 548.9 329.1 540 330.8Z" fill="#402bb7"/><path d="M551.8 335.7 560.7 333.8 557.1 327.5 548.2 329.3Z" fill="#412cba"/><path d="M560 334 568.9 332.1 565.4 325.9 556.5 327.7Z" fill="#412cba"/><path d="M568.2 332.3 577.2 330.3 573.6 324.1 564.7 326.1Z" fill="#412dbd"/><path d="M576.5 330.5 585.4 328.4 581.9 322.3 572.9 324.4Z" fill="#412dbd"/><path d="M584.7 328.7 593.6 326.5 590.1 320.4 581.2 322.6Z" fill="#422ebf"/><path d="M593 326.7 601.9 324.5 598.3 318.5 589.4 320.7Z" fill="#422fc2"/><path d="M601.2 324.7 610.1 322.3 606.6 316.4 597.7 318.7Z" fill="#4331c8"/><path d="M609.4 322.6 618.4 320.2 614.8 314.3 605.9 316.7Z" fill="#4332ca"/><path d="M617.7 320.4 626.6 317.9 623.1 312.1 614.1 314.6Z" fill="#4433cd"/><path d="M625.9 318.1 634.8 315.5 631.3 309.8 622.4 312.4Z" fill="#4535d2"/><path d="M634.2 315.8 643.1 313.1 639.5 307.5 630.6 310.1Z" fill="#4537d5"/><path d="M250.2 344.9 259.1 346.3 255.7 339.5 246.8 338.2Z" fill="#3677fe"/><path d="M258.4 346.3 267.4 347.6 263.9 340.8 255 339.6Z" fill="#3c71ff"/><path d="M266.7 347.7 275.6 348.8 272.2 342 263.2 340.9Z" fill="#406dfe"/><path d="M274.9 348.9 283.8 350 280.4 343.2 271.5 342.1Z" fill="#4367fd"/><path d="M283.2 350.1 292.1 351.1 288.6 344.2 279.7 343.2Z" fill="#4562fc"/><path d="M291.4 351.2 300.3 352.1 296.9 345.2 288 344.3Z" fill="#475dfa"/><path d="M299.6 352.2 308.6 353 305.1 346.1 296.2 345.3Z" fill="#4759f8"/><path d="M307.9 353.1 316.8 353.8 313.4 346.9 304.4 346.2Z" fill="#4854f6"/><path d="M316.1 353.9 325 354.6 321.6 347.6 312.7 347Z" fill="#4850f3"/><path d="M324.4 354.7 333.3 355.2 329.8 348.3 320.9 347.7Z" fill="#484cf0"/><path d="M332.6 355.3 341.5 355.8 338.1 348.8 329.2 348.4Z" fill="#4848ec"/><path d="M340.8 355.9 349.8 356.3 346.3 349.3 337.4 349Z" fill="#4745e9"/><path d="M349.1 356.4 358 356.7 354.5 349.7 345.6 349.4Z" fill="#4741e5"/><path d="M357.3 356.8 366.2 357 362.8 350 353.9 349.8Z" fill="#473ee1"/><path d="M365.6 357.1 374.5 357.2 371 350.3 362.1 350.2Z" fill="#463bde"/><path d="M373.8 357.4 382.7 357.4 379.3 350.4 370.3 350.4Z" fill="#4538d7"/><path d="M382.1 357.5 391 357.5 387.5 350.5 378.6 350.6Z" fill="#4535d2"/><path d="M390.3 357.6 399.2 357.4 395.7 350.5 386.8 350.6Z" fill="#4434d0"/><path d="M398.5 357.6 407.4 357.3 404 350.4 395.1 350.6Z" fill="#4332ca"/><path d="M406.8 357.5 415.7 357.2 412.2 350.2 403.3 350.5Z" fill="#4330c5"/><path d="M415 357.3 423.9 356.9 420.4 350 411.5 350.4Z" fill="#422fc2"/><path d="M423.3 357 432.2 356.5 428.7 349.6 419.8 350.1Z" fill="#412dbd"/><path d="M431.5 356.7 440.4 356.1 436.9 349.2 428 349.8Z" fill="#412cba"/><path d="M439.7 356.3 448.7 355.6 445.2 348.7 436.3 349.4Z" fill="#402bb7"/><path d="M448 355.8 456.9 355 453.4 348.1 444.5 348.9Z" fill="#402ab4"/><path d="M456.2 355.2 465.1 354.3 461.6 347.5 452.7 348.3Z" fill="#3f29b2"/><path d="M464.5 354.5 473.4 353.5 469.9 346.7 461 347.7Z" fill="#3f28af"/><path d="M472.7 353.7 481.6 352.7 478.1 345.9 469.2 346.9Z" fill="#3e27ac"/><path d="M481 352.9 489.9 351.8 486.3 345 477.4 346.1Z" fill="#3e27ac"/><path d="M489.2 351.9 498.1 350.7 494.6 344 485.7 345.2Z" fill="#3e26a8"/><path d="M497.4 350.9 506.3 349.6 502.8 343 493.9 344.2Z" fill="#3e26a8"/><path d="M505.7 349.8 514.6 348.5 511.1 341.8 502.2 343.2Z" fill="#3e26a8"/><path d="M513.9 348.6 522.8 347.2 519.3 340.6 510.4 342Z" fill="#3e26a8"/><path d="M522.2 347.4 531.1 345.8 527.5 339.3 518.6 340.8Z" fill="#3e26a8"/><path d="M530.4 346 539.3 344.4 535.8 337.9 526.9 339.5Z" fill="#3e26a8"/><path d="M538.6 344.6 547.5 342.9 544 336.4 535.1 338.1Z" fill="#3e26a8"/><path d="M546.9 343.1 555.8 341.3 552.3 334.9 543.3 336.7Z" fill="#3e26a8"/><path d="M555.1 341.5 564 339.6 560.5 333.3 551.6 335.1Z" fill="#3e27ac"/><path d="M563.4 339.8 572.3 337.9 568.7 331.6 559.8 333.5Z" fill="#3e27ac"/><path d="M571.6 338.1 580.5 336 577 329.8 568.1 331.8Z" fill="#3f28af"/><path d="M579.8 336.2 588.8 334.1 585.2 327.9 576.3 330Z" fill="#3f29b2"/><path d="M588.1 334.3 597 332.1 593.5 326 584.5 328.2Z" fill="#402ab4"/><path d="M596.3 332.3 605.2 330 601.7 323.9 592.8 326.2Z" fill="#402bb7"/><path d="M604.6 330.2 613.5 327.8 609.9 321.8 601 324.2Z" fill="#412cba"/><path d="M612.8 328.1 621.7 325.6 618.2 319.7 609.3 322.1Z" fill="#422ebf"/><path d="M621 325.8 630 323.2 626.4 317.4 617.5 319.9Z" fill="#422fc2"/><path d="M629.3 323.5 638.2 320.8 634.6 315 625.7 317.7Z" fill="#4331c8"/><path d="M637.5 321.1 646.4 318.3 642.9 312.6 634 315.3Z" fill="#4332ca"/></g><path d="M250.5 344.6 247.1 338.4 243.8 332.3 240.4 326.2 237.1 320.1 233.7 314.1 230.4 308.1 227 302.2 223.7 296.2 220.3 290.4 216.9 284.5 213.6 278.7 210.2 272.9 206.9 267.2 203.5 261.5 200.2 255.8 196.8 250.2 193.5 244.6 190.1 239 186.7 233.5 183.4 228 180 222.6 176.7 217.2 173.3 211.8 170 206.5 166.6 201.2 163.2 196 159.9 190.8 156.5 185.7 153.2 180.5 149.8 175.5 146.5 170.4 143.1 165.4 139.8 160.5 136.4 155.6 133 150.7 129.7 145.9 126.3 141.1 123 136.4 119.6 131.7 116.3 127.1 112.9 122.5 109.6 117.9 106.2 113.4 102.8 109 99.5 104.6 96.1 100.2 92.8 95.9 89.4 91.6 86.1 87.4 82.7 83.2 79.4 79.1 76 75M258.7 346 255.4 339.8 252 333.7 248.7 327.5 245.3 321.4 242 315.4 238.6 309.4 235.2 303.4 231.9 297.4 228.5 291.5 225.2 285.6 221.8 279.8 218.5 274 215.1 268.2 211.8 262.5 208.4 256.8 205 251.2 201.7 245.6 198.3 240 195 234.4 191.6 228.9 188.3 223.5 184.9 218.1 181.6 212.7 178.2 207.4 174.8 202.1 171.5 196.8 168.1 191.6 164.8 186.4 161.4 181.3 158.1 176.2 154.7 171.2 151.4 166.2 148 161.2 144.6 156.3 141.3 151.4 137.9 146.6 134.6 141.8 131.2 137 127.9 132.4 124.5 127.7 121.2 123.1 117.8 118.5 114.4 114 111.1 109.6 107.7 105.1 104.4 100.8 101 96.4 97.7 92.1 94.3 87.9 91 83.7 87.6 79.6 84.2 75.5M267 347.3 263.6 341.1 260.3 334.9 256.9 328.8 253.6 322.7 250.2 316.6 246.8 310.5 243.5 304.5 240.1 298.6 236.8 292.6 233.4 286.7 230.1 280.9 226.7 275 223.4 269.2 220 263.5 216.6 257.8 213.3 252.1 209.9 246.5 206.6 240.9 203.2 235.3 199.9 229.8 196.5 224.3 193.2 218.9 189.8 213.5 186.4 208.2 183.1 202.9 179.7 197.6 176.4 192.4 173 187.2 169.7 182 166.3 176.9 163 171.9 159.6 166.8 156.2 161.9 152.9 156.9 149.5 152.1 146.2 147.2 142.8 142.4 139.5 137.7 136.1 133 132.7 128.3 129.4 123.7 126 119.1 122.7 114.6 119.3 110.1 116 105.7 112.6 101.3 109.3 97 105.9 92.7 102.5 88.5 99.2 84.3 95.8 80.2 92.5 76.1M275.2 348.6 271.9 342.3 268.5 336.1 265.2 330 261.8 323.8 258.4 317.7 255.1 311.6 251.7 305.6 248.4 299.6 245 293.7 241.7 287.7 238.3 281.9 234.9 276 231.6 270.2 228.2 264.4 224.9 258.7 221.5 253 218.2 247.4 214.8 241.8 211.5 236.2 208.1 230.7 204.7 225.2 201.4 219.7 198 214.3 194.7 208.9 191.3 203.6 188 198.3 184.6 193.1 181.3 187.9 177.9 182.7 174.5 177.6 171.2 172.6 167.8 167.5 164.5 162.5 161.1 157.6 157.8 152.7 154.4 147.9 151.1 143.1 147.7 138.3 144.3 133.6 141 128.9 137.6 124.3 134.3 119.7 130.9 115.2 127.6 110.7 124.2 106.3 120.9 101.9 117.5 97.6 114.1 93.3 110.8 89.1 107.4 84.9 104.1 80.7 100.7 76.7M283.5 349.8 280.1 343.5 276.7 337.3 273.4 331.1 270 324.9 266.7 318.8 263.3 312.7 260 306.6 256.6 300.6 253.3 294.6 249.9 288.7 246.5 282.8 243.2 276.9 239.8 271.1 236.5 265.3 233.1 259.6 229.8 253.9 226.4 248.2 223.1 242.6 219.7 237 216.3 231.4 213 225.9 209.6 220.5 206.3 215.1 202.9 209.7 199.6 204.3 196.2 199 192.9 193.8 189.5 188.6 186.1 183.4 182.8 178.3 179.4 173.2 176.1 168.2 172.7 163.2 169.4 158.3 166 153.4 162.7 148.5 159.3 143.7 155.9 138.9 152.6 134.2 149.2 129.6 145.9 124.9 142.5 120.4 139.2 115.8 135.8 111.4 132.4 106.9 129.1 102.5 125.7 98.2 122.4 93.9 119 89.7 115.7 85.5 112.3 81.4 109 77.3M291.7 350.8 288.3 344.6 285 338.3 281.6 332.1 278.3 325.9 274.9 319.7 271.6 313.6 268.2 307.6 264.9 301.5 261.5 295.5 258.1 289.6 254.8 283.7 251.4 277.8 248.1 271.9 244.7 266.1 241.4 260.4 238 254.7 234.6 249 231.3 243.3 227.9 237.7 224.6 232.2 221.2 226.7 217.9 221.2 214.5 215.8 211.2 210.4 207.8 205 204.4 199.7 201.1 194.5 197.7 189.3 194.4 184.1 191 179 187.7 173.9 184.3 168.8 181 163.8 177.6 158.9 174.2 154 170.9 149.1 167.5 144.3 164.2 139.6 160.8 134.8 157.5 130.2 154.1 125.5 150.8 121 147.4 116.4 144 112 140.7 107.5 137.3 103.2 134 98.8 130.6 94.5 127.3 90.3 123.9 86.1 120.6 82 117.2 77.9M299.9 351.8 296.6 345.5 293.2 339.3 289.9 333 286.5 326.8 283.2 320.6 279.8 314.5 276.4 308.4 273.1 302.4 269.7 296.4 266.4 290.4 263 284.5 259.7 278.6 256.3 272.7 253 266.9 249.6 261.1 246.2 255.4 242.9 249.7 239.5 244.1 236.2 238.5 232.8 232.9 229.5 227.4 226.1 221.9 222.8 216.4 219.4 211 216 205.7 212.7 200.4 209.3 195.1 206 189.9 202.6 184.7 199.3 179.6 195.9 174.5 192.6 169.5 189.2 164.5 185.8 159.5 182.5 154.6 179.1 149.7 175.8 144.9 172.4 140.2 169.1 135.5 165.7 130.8 162.4 126.2 159 121.6 155.6 117.1 152.3 112.6 148.9 108.2 145.6 103.8 142.2 99.5 138.9 95.2 135.5 91 132.1 86.8 128.8 82.7 125.4 78.6M308.2 352.8 304.8 346.4 301.5 340.1 298.1 333.9 294.8 327.7 291.4 321.5 288 315.3 284.7 309.2 281.3 303.2 278 297.1 274.6 291.2 271.3 285.2 267.9 279.3 264.6 273.4 261.2 267.6 257.8 261.8 254.5 256.1 251.1 250.4 247.8 244.7 244.4 239.1 241.1 233.5 237.7 228 234.4 222.5 231 217.1 227.6 211.7 224.3 206.3 220.9 201 217.6 195.7 214.2 190.5 210.9 185.3 207.5 180.2 204.1 175.1 200.8 170.1 197.4 165.1 194.1 160.1 190.7 155.2 187.4 150.4 184 145.5 180.7 140.8 177.3 136.1 173.9 131.4 170.6 126.8 167.2 122.2 163.9 117.7 160.5 113.2 157.2 108.8 153.8 104.4 150.5 100.1 147.1 95.9 143.7 91.6 140.4 87.5 137 83.3 133.7 79.3M316.4 353.6 313.1 347.2 309.7 340.9 306.3 334.7 303 328.4 299.6 322.2 296.3 316.1 292.9 310 289.6 303.9 286.2 297.9 282.9 291.9 279.5 285.9 276.1 280 272.8 274.1 269.4 268.3 266.1 262.5 262.7 256.7 259.4 251 256 245.4 252.7 239.7 249.3 234.2 245.9 228.6 242.6 223.1 239.2 217.7 235.9 212.3 232.5 206.9 229.2 201.6 225.8 196.3 222.5 191.1 219.1 185.9 215.7 180.8 212.4 175.7 209 170.7 205.7 165.7 202.3 160.7 199 155.8 195.6 151 192.3 146.2 188.9 141.4 185.5 136.7 182.2 132 178.8 127.4 175.5 122.9 172.1 118.3 168.8 113.9 165.4 109.5 162.1 105.1 158.7 100.8 155.3 96.5 152 92.3 148.6 88.2 145.3 84.1 141.9 80M324.7 354.3 321.3 348 317.9 341.6 314.6 335.4 311.2 329.1 307.9 322.9 304.5 316.8 301.2 310.6 297.8 304.5 294.5 298.5 291.1 292.5 287.7 286.5 284.4 280.6 281 274.7 277.7 268.9 274.3 263.1 271 257.3 267.6 251.6 264.3 246 260.9 240.3 257.5 234.7 254.2 229.2 250.8 223.7 247.5 218.3 244.1 212.9 240.8 207.5 237.4 202.2 234.1 196.9 230.7 191.7 227.3 186.5 224 181.4 220.6 176.3 217.3 171.2 213.9 166.2 210.6 161.3 207.2 156.4 203.8 151.6 200.5 146.8 197.1 142 193.8 137.3 190.4 132.6 187.1 128 183.7 123.5 180.4 119 177 114.5 173.6 110.1 170.3 105.8 166.9 101.5 163.6 97.2 160.2 93 156.9 88.9 153.5 84.8 150.2 80.8M332.9 355 329.5 348.6 326.2 342.3 322.8 336 319.5 329.7 316.1 323.5 312.8 317.4 309.4 311.2 306 305.1 302.7 299.1 299.3 293.1 296 287.1 292.6 281.2 289.3 275.3 285.9 269.4 282.6 263.6 279.2 257.9 275.8 252.2 272.5 246.5 269.1 240.9 265.8 235.3 262.4 229.7 259.1 224.2 255.7 218.8 252.4 213.4 249 208 245.6 202.7 242.3 197.4 238.9 192.2 235.6 187 232.2 181.9 228.9 176.8 225.5 171.8 222.2 166.8 218.8 161.9 215.4 157 212.1 152.1 208.7 147.4 205.4 142.6 202 137.9 198.7 133.3 195.3 128.7 192 124.1 188.6 119.6 185.2 115.2 181.9 110.8 178.5 106.5 175.2 102.2 171.8 97.9 168.5 93.8 165.1 89.6 161.8 85.5 158.4 81.5M341.1 355.6 337.8 349.2 334.4 342.8 331.1 336.5 327.7 330.3 324.4 324.1 321 317.9 317.6 311.7 314.3 305.6 310.9 299.6 307.6 293.6 304.2 287.6 300.9 281.7 297.5 275.8 294.2 269.9 290.8 264.1 287.4 258.4 284.1 252.7 280.7 247 277.4 241.4 274 235.8 270.7 230.2 267.3 224.7 264 219.3 260.6 213.9 257.2 208.5 253.9 203.2 250.5 198 247.2 192.7 243.8 187.6 240.5 182.4 237.1 177.4 233.8 172.3 230.4 167.4 227 162.4 223.7 157.6 220.3 152.7 217 147.9 213.6 143.2 210.3 138.5 206.9 133.9 203.5 129.3 200.2 124.8 196.8 120.3 193.5 115.9 190.1 111.5 186.8 107.2 183.4 102.9 180.1 98.7 176.7 94.5 173.3 90.4 170 86.3 166.6 82.3M349.4 356.1 346 349.7 342.7 343.3 339.3 337 336 330.7 332.6 324.5 329.2 318.3 325.9 312.2 322.5 306.1 319.2 300 315.8 294 312.5 288 309.1 282.1 305.8 276.2 302.4 270.4 299 264.6 295.7 258.8 292.3 253.1 289 247.4 285.6 241.8 282.3 236.2 278.9 230.7 275.5 225.2 272.2 219.8 268.8 214.4 265.5 209 262.1 203.7 258.8 198.4 255.4 193.2 252.1 188.1 248.7 183 245.3 177.9 242 172.9 238.6 167.9 235.3 163 231.9 158.1 228.6 153.3 225.2 148.5 221.9 143.8 218.5 139.1 215.1 134.5 211.8 129.9 208.4 125.4 205.1 121 201.7 116.6 198.4 112.2 195 107.9 191.7 103.6 188.3 99.4 184.9 95.3 181.6 91.2 178.2 87.1 174.9 83.2M357.6 356.5 354.3 350.1 350.9 343.7 347.5 337.4 344.2 331.1 340.8 324.9 337.5 318.7 334.1 312.6 330.8 306.5 327.4 300.4 324.1 294.4 320.7 288.4 317.3 282.5 314 276.6 310.6 270.8 307.3 265 303.9 259.2 300.6 253.5 297.2 247.8 293.9 242.2 290.5 236.6 287.1 231.1 283.8 225.6 280.4 220.2 277.1 214.8 273.7 209.5 270.4 204.2 267 198.9 263.7 193.7 260.3 188.6 256.9 183.5 253.6 178.4 250.2 173.4 246.9 168.4 243.5 163.5 240.2 158.7 236.8 153.9 233.5 149.1 230.1 144.4 226.7 139.7 223.4 135.1 220 130.6 216.7 126.1 213.3 121.6 210 117.2 206.6 112.9 203.2 108.6 199.9 104.4 196.5 100.2 193.2 96.1 189.8 92 186.5 88 183.1 84M365.9 356.8 362.5 350.4 359.1 344 355.8 337.7 352.4 331.5 349.1 325.2 345.7 319 342.4 312.9 339 306.8 335.7 300.7 332.3 294.7 328.9 288.7 325.6 282.8 322.2 276.9 318.9 271.1 315.5 265.3 312.2 259.5 308.8 253.8 305.5 248.2 302.1 242.6 298.7 237 295.4 231.5 292 226 288.7 220.6 285.3 215.2 282 209.9 278.6 204.6 275.2 199.3 271.9 194.2 268.5 189 265.2 183.9 261.8 178.9 258.5 173.9 255.1 168.9 251.8 164.1 248.4 159.2 245 154.4 241.7 149.7 238.3 145 235 140.4 231.6 135.8 228.3 131.2 224.9 126.8 221.6 122.3 218.2 117.9 214.8 113.6 211.5 109.4 208.1 105.1 204.8 101 201.4 96.9 198.1 92.8 194.7 88.8 191.4 84.9M374.1 357 370.7 350.6 367.4 344.3 364 338 360.7 331.7 357.3 325.5 354 319.3 350.6 313.1 347.2 307 343.9 301 340.5 295 337.2 289 333.8 283.1 330.5 277.2 327.1 271.4 323.8 265.6 320.4 259.8 317 254.1 313.7 248.5 310.3 242.9 307 237.3 303.6 231.8 300.3 226.4 296.9 220.9 293.6 215.6 290.2 210.2 286.8 205 283.5 199.8 280.1 194.6 276.8 189.4 273.4 184.4 270.1 179.3 266.7 174.4 263.4 169.4 260 164.6 256.6 159.7 253.3 155 249.9 150.2 246.6 145.6 243.2 141 239.9 136.4 236.5 131.9 233.2 127.4 229.8 123 226.4 118.7 223.1 114.4 219.7 110.1 216.4 105.9 213 101.8 209.7 97.7 206.3 93.7 202.9 89.7 199.6 85.8M382.3 357.2 379 350.8 375.6 344.4 372.3 338.1 368.9 331.9 365.6 325.6 362.2 319.5 358.8 313.3 355.5 307.2 352.1 301.2 348.8 295.2 345.4 289.2 342.1 283.3 338.7 277.4 335.4 271.6 332 265.8 328.6 260.1 325.3 254.4 321.9 248.8 318.6 243.2 315.2 237.6 311.9 232.1 308.5 226.7 305.2 221.3 301.8 215.9 298.4 210.6 295.1 205.3 291.7 200.1 288.4 195 285 189.9 281.7 184.8 278.3 179.8 274.9 174.8 271.6 169.9 268.2 165.1 264.9 160.3 261.5 155.5 258.2 150.8 254.8 146.2 251.5 141.6 248.1 137 244.7 132.5 241.4 128.1 238 123.7 234.7 119.4 231.3 115.1 228 110.9 224.6 106.7 221.3 102.6 217.9 98.6 214.5 94.6 211.2 90.6 207.8 86.7M390.6 357.2 387.2 350.9 383.9 344.5 380.5 338.2 377.1 331.9 373.8 325.7 370.4 319.6 367.1 313.4 363.7 307.3 360.4 301.3 357 295.3 353.7 289.3 350.3 283.4 346.9 277.6 343.6 271.8 340.2 266 336.9 260.3 333.5 254.6 330.2 249 326.8 243.4 323.5 237.9 320.1 232.4 316.7 226.9 313.4 221.6 310 216.2 306.7 210.9 303.3 205.7 300 200.5 296.6 195.3 293.3 190.3 289.9 185.2 286.5 180.2 283.2 175.3 279.8 170.4 276.5 165.6 273.1 160.8 269.8 156 266.4 151.4 263.1 146.7 259.7 142.2 256.3 137.7 253 133.2 249.6 128.8 246.3 124.4 242.9 120.1 239.6 115.9 236.2 111.7 232.9 107.5 229.5 103.5 226.1 99.4 222.8 95.5 219.4 91.5 216.1 87.7M398.8 357.2 395.5 350.8 392.1 344.5 388.7 338.2 385.4 332 382 325.7 378.7 319.6 375.3 313.5 372 307.4 368.6 301.4 365.3 295.4 361.9 289.4 358.5 283.5 355.2 277.7 351.8 271.9 348.5 266.1 345.1 260.4 341.8 254.8 338.4 249.1 335.1 243.6 331.7 238.1 328.3 232.6 325 227.2 321.6 221.8 318.3 216.5 314.9 211.2 311.6 206 308.2 200.8 304.9 195.7 301.5 190.6 298.1 185.6 294.8 180.6 291.4 175.7 288.1 170.9 284.7 166 281.4 161.3 278 156.6 274.6 151.9 271.3 147.3 267.9 142.8 264.6 138.3 261.2 133.8 257.9 129.5 254.5 125.1 251.2 120.9 247.8 116.6 244.4 112.5 241.1 108.4 237.7 104.3 234.4 100.3 231 96.4 227.7 92.5 224.3 88.7M407.1 357.1 403.7 350.8 400.3 344.4 397 338.1 393.6 331.9 390.3 325.7 386.9 319.5 383.6 313.4 380.2 307.4 376.9 301.3 373.5 295.4 370.1 289.4 366.8 283.6 363.4 277.7 360.1 271.9 356.7 266.2 353.4 260.5 350 254.9 346.6 249.3 343.3 243.7 339.9 238.2 336.6 232.8 333.2 227.4 329.9 222 326.5 216.7 323.2 211.5 319.8 206.3 316.4 201.1 313.1 196 309.7 191 306.4 186 303 181 299.7 176.1 296.3 171.3 293 166.5 289.6 161.8 286.2 157.1 282.9 152.5 279.5 147.9 276.2 143.4 272.8 138.9 269.5 134.5 266.1 130.2 262.8 125.9 259.4 121.6 256 117.4 252.7 113.3 249.3 109.2 246 105.2 242.6 101.2 239.3 97.3 235.9 93.5 232.6 89.7M415.3 356.9 411.9 350.6 408.6 344.3 405.2 338 401.9 331.8 398.5 325.6 395.2 319.4 391.8 313.3 388.4 307.3 385.1 301.3 381.7 295.3 378.4 289.4 375 283.5 371.7 277.7 368.3 272 365 266.2 361.6 260.6 358.2 254.9 354.9 249.4 351.5 243.8 348.2 238.3 344.8 232.9 341.5 227.5 338.1 222.2 334.8 216.9 331.4 211.7 328 206.5 324.7 201.4 321.3 196.3 318 191.3 314.6 186.3 311.3 181.4 307.9 176.5 304.6 171.7 301.2 167 297.8 162.3 294.5 157.6 291.1 153 287.8 148.5 284.4 144 281.1 139.6 277.7 135.2 274.3 130.8 271 126.6 267.6 122.4 264.3 118.2 260.9 114.1 257.6 110.1 254.2 106.1 250.9 102.2 247.5 98.3 244.1 94.5 240.8 90.7M423.5 356.7 420.2 350.3 416.8 344 413.5 337.8 410.1 331.5 406.8 325.4 403.4 319.2 400 313.2 396.7 307.1 393.3 301.1 390 295.2 386.6 289.3 383.3 283.5 379.9 277.7 376.6 271.9 373.2 266.2 369.8 260.6 366.5 254.9 363.1 249.4 359.8 243.9 356.4 238.4 353.1 233 349.7 227.7 346.3 222.4 343 217.1 339.6 211.9 336.3 206.8 332.9 201.7 329.6 196.6 326.2 191.6 322.9 186.7 319.5 181.8 316.1 176.9 312.8 172.2 309.4 167.4 306.1 162.7 302.7 158.1 299.4 153.6 296 149 292.7 144.6 289.3 140.2 285.9 135.8 282.6 131.6 279.2 127.3 275.9 123.1 272.5 119 269.2 115 265.8 111 262.5 107 259.1 103.1 255.7 99.3 252.4 95.5 249 91.8M431.8 356.3 428.4 350 425.1 343.7 421.7 337.5 418.3 331.3 415 325.1 411.6 319 408.3 312.9 404.9 306.9 401.6 300.9 398.2 295 394.9 289.1 391.5 283.3 388.1 277.5 384.8 271.8 381.4 266.1 378.1 260.5 374.7 254.9 371.4 249.4 368 243.9 364.7 238.5 361.3 233.1 357.9 227.8 354.6 222.5 351.2 217.2 347.9 212.1 344.5 206.9 341.2 201.9 337.8 196.9 334.5 191.9 331.1 187 327.7 182.1 324.4 177.3 321 172.6 317.7 167.9 314.3 163.2 311 158.6 307.6 154.1 304.3 149.6 300.9 145.2 297.5 140.8 294.2 136.5 290.8 132.3 287.5 128.1 284.1 123.9 280.8 119.8 277.4 115.8 274 111.9 270.7 107.9 267.3 104.1 264 100.3 260.6 96.6 257.3 92.9M440 355.9 436.7 349.6 433.3 343.3 429.9 337.1 426.6 330.9 423.2 324.8 419.9 318.7 416.5 312.6 413.2 306.6 409.8 300.7 406.5 294.8 403.1 288.9 399.7 283.1 396.4 277.4 393 271.7 389.7 266 386.3 260.4 383 254.8 379.6 249.3 376.3 243.9 372.9 238.5 369.5 233.1 366.2 227.8 362.8 222.6 359.5 217.4 356.1 212.2 352.8 207.1 349.4 202.1 346 197.1 342.7 192.2 339.3 187.3 336 182.4 332.6 177.7 329.3 172.9 325.9 168.3 322.6 163.7 319.2 159.1 315.8 154.6 312.5 150.2 309.1 145.8 305.8 141.5 302.4 137.2 299.1 133 295.7 128.8 292.4 124.7 289 120.7 285.6 116.7 282.3 112.8 278.9 108.9 275.6 105.1 272.2 101.4 268.9 97.7 265.5 94M448.2 355.4 444.9 349.1 441.5 342.8 438.2 336.6 434.8 330.5 431.5 324.3 428.1 318.3 424.8 312.2 421.4 306.3 418 300.4 414.7 294.5 411.3 288.6 408 282.9 404.6 277.1 401.3 271.5 397.9 265.8 394.6 260.2 391.2 254.7 387.8 249.2 384.5 243.8 381.1 238.4 377.8 233.1 374.4 227.8 371.1 222.6 367.7 217.4 364.4 212.3 361 207.3 357.6 202.2 354.3 197.3 350.9 192.4 347.6 187.5 344.2 182.7 340.9 178 337.5 173.3 334.2 168.7 330.8 164.1 327.4 159.6 324.1 155.1 320.7 150.7 317.4 146.4 314 142.1 310.7 137.9 307.3 133.7 304 129.6 300.6 125.5 297.2 121.5 293.9 117.6 290.5 113.7 287.2 109.9 283.8 106.1 280.5 102.4 277.1 98.8 273.8 95.2M456.5 354.8 453.1 348.5 449.8 342.3 446.4 336.1 443.1 329.9 439.7 323.9 436.4 317.8 433 311.8 429.6 305.9 426.3 300 422.9 294.1 419.6 288.3 416.2 282.6 412.9 276.8 409.5 271.2 406.2 265.6 402.8 260 399.4 254.5 396.1 249.1 392.7 243.7 389.4 238.3 386 233.1 382.7 227.8 379.3 222.6 376 217.5 372.6 212.4 369.2 207.4 365.9 202.4 362.5 197.5 359.2 192.6 355.8 187.8 352.5 183 349.1 178.3 345.7 173.7 342.4 169.1 339 164.6 335.7 160.1 332.3 155.7 329 151.3 325.6 147 322.3 142.8 318.9 138.6 315.5 134.4 312.2 130.4 308.8 126.3 305.5 122.4 302.1 118.5 298.8 114.7 295.4 110.9 292.1 107.2 288.7 103.5 285.3 99.9 282 96.4M464.7 354.1 461.4 347.9 458 341.6 454.7 335.5 451.3 329.4 448 323.3 444.6 317.3 441.2 311.3 437.9 305.4 434.5 299.5 431.2 293.7 427.8 287.9 424.5 282.2 421.1 276.5 417.7 270.9 414.4 265.3 411 259.8 407.7 254.3 404.3 248.9 401 243.5 397.6 238.2 394.3 233 390.9 227.8 387.5 222.6 384.2 217.5 380.8 212.5 377.5 207.5 374.1 202.5 370.8 197.6 367.4 192.8 364.1 188 360.7 183.3 357.3 178.7 354 174 350.6 169.5 347.3 165 343.9 160.6 340.6 156.2 337.2 151.9 333.9 147.6 330.5 143.4 327.1 139.3 323.8 135.2 320.4 131.1 317.1 127.2 313.7 123.3 310.4 119.4 307 115.6 303.7 111.9 300.3 108.2 296.9 104.6 293.6 101.1 290.2 97.6M473 353.3 469.6 347.1 466.3 340.9 462.9 334.8 459.5 328.7 456.2 322.7 452.8 316.7 449.5 310.7 446.1 304.8 442.8 299 439.4 293.2 436.1 287.4 432.7 281.8 429.3 276.1 426 270.5 422.6 265 419.3 259.5 415.9 254.1 412.6 248.7 409.2 243.3 405.9 238.1 402.5 232.8 399.1 227.7 395.8 222.5 392.4 217.5 389.1 212.5 385.7 207.5 382.4 202.6 379 197.8 375.7 193 372.3 188.2 368.9 183.6 365.6 179 362.2 174.4 358.9 169.9 355.5 165.4 352.2 161 348.8 156.7 345.4 152.4 342.1 148.2 338.7 144 335.4 139.9 332 135.9 328.7 131.9 325.3 128 322 124.1 318.6 120.3 315.2 116.6 311.9 112.9 308.5 109.3 305.2 105.7 301.8 102.2 298.5 98.8M481.2 352.5 477.9 346.3 474.5 340.1 471.1 334 467.8 328 464.4 321.9 461.1 316 457.7 310.1 454.4 304.2 451 298.4 447.7 292.6 444.3 286.9 440.9 281.3 437.6 275.7 434.2 270.1 430.9 264.6 427.5 259.1 424.2 253.7 420.8 248.4 417.4 243.1 414.1 237.9 410.7 232.7 407.4 227.5 404 222.5 400.7 217.4 397.3 212.5 394 207.5 390.6 202.7 387.2 197.9 383.9 193.1 380.5 188.4 377.2 183.8 373.8 179.2 370.5 174.7 367.1 170.3 363.8 165.8 360.4 161.5 357 157.2 353.7 153 350.3 148.8 347 144.7 343.6 140.6 340.3 136.7 336.9 132.7 333.6 128.8 330.2 125 326.8 121.3 323.5 117.6 320.1 114 316.8 110.4 313.4 106.9 310.1 103.5 306.7 100.1M489.4 351.6 486.1 345.4 482.7 339.3 479.4 333.2 476 327.2 472.7 321.2 469.3 315.2 466 309.4 462.6 303.5 459.2 297.8 455.9 292 452.5 286.3 449.2 280.7 445.8 275.1 442.5 269.6 439.1 264.2 435.8 258.7 432.4 253.4 429 248.1 425.7 242.8 422.3 237.6 419 232.5 415.6 227.4 412.3 222.3 408.9 217.4 405.6 212.4 402.2 207.6 398.8 202.7 395.5 198 392.1 193.3 388.8 188.6 385.4 184 382.1 179.5 378.7 175 375.4 170.6 372 166.3 368.6 162 365.3 157.7 361.9 153.5 358.6 149.4 355.2 145.4 351.9 141.3 348.5 137.4 345.1 133.5 341.8 129.7 338.4 125.9 335.1 122.3 331.7 118.6 328.4 115 325 111.5 321.7 108.1 318.3 104.7 314.9 101.4M497.7 350.6 494.3 344.4 491 338.3 487.6 332.3 484.3 326.3 480.9 320.3 477.6 314.4 474.2 308.6 470.8 302.8 467.5 297 464.1 291.3 460.8 285.7 457.4 280.1 454.1 274.6 450.7 269.1 447.4 263.7 444 258.3 440.6 253 437.3 247.7 433.9 242.5 430.6 237.3 427.2 232.2 423.9 227.2 420.5 222.2 417.1 217.2 413.8 212.4 410.4 207.5 407.1 202.8 403.7 198 400.4 193.4 397 188.8 393.7 184.2 390.3 179.8 386.9 175.3 383.6 171 380.2 166.7 376.9 162.4 373.5 158.2 370.2 154.1 366.8 150 363.5 146 360.1 142.1 356.7 138.2 353.4 134.3 350 130.6 346.7 126.9 343.3 123.2 340 119.6 336.6 116.1 333.3 112.7 329.9 109.3 326.5 106 323.2 102.7M505.9 349.5 502.6 343.3 499.2 337.3 495.9 331.3 492.5 325.3 489.1 319.4 485.8 313.5 482.4 307.7 479.1 302 475.7 296.3 472.4 290.6 469 285 465.7 279.5 462.3 274 458.9 268.5 455.6 263.1 452.2 257.8 448.9 252.5 445.5 247.3 442.2 242.1 438.8 237 435.5 231.9 432.1 226.9 428.7 222 425.4 217.1 422 212.3 418.7 207.5 415.3 202.8 412 198.1 408.6 193.5 405.3 188.9 401.9 184.4 398.5 180 395.2 175.6 391.8 171.3 388.5 167.1 385.1 162.9 381.8 158.7 378.4 154.6 375.1 150.6 371.7 146.7 368.3 142.8 365 138.9 361.6 135.2 358.3 131.5 354.9 127.8 351.6 124.2 348.2 120.7 344.9 117.2 341.5 113.8 338.1 110.5 334.8 107.2 331.4 104M514.2 348.3 510.8 342.2 507.5 336.2 504.1 330.2 500.7 324.3 497.4 318.4 494 312.6 490.7 306.8 487.3 301.1 484 295.4 480.6 289.8 477.3 284.3 473.9 278.7 470.5 273.3 467.2 267.9 463.8 262.5 460.5 257.3 457.1 252 453.8 246.8 450.4 241.7 447.1 236.6 443.7 231.6 440.3 226.7 437 221.8 433.6 216.9 430.3 212.1 426.9 207.4 423.6 202.7 420.2 198.1 416.8 193.5 413.5 189 410.1 184.6 406.8 180.2 403.4 175.9 400.1 171.6 396.7 167.4 393.4 163.3 390 159.2 386.6 155.2 383.3 151.2 379.9 147.3 376.6 143.5 373.2 139.7 369.9 136 366.5 132.3 363.2 128.8 359.8 125.2 356.4 121.8 353.1 118.4 349.7 115 346.4 111.8 343 108.6 339.7 105.4M522.4 347 519.1 341 515.7 335 512.3 329.1 509 323.2 505.6 317.3 502.3 311.6 498.9 305.8 495.6 300.1 492.2 294.5 488.8 289 485.5 283.4 482.1 278 478.8 272.6 475.4 267.2 472.1 261.9 468.7 256.7 465.4 251.5 462 246.3 458.6 241.3 455.3 236.2 451.9 231.3 448.6 226.4 445.2 221.5 441.9 216.7 438.5 212 435.2 207.3 431.8 202.7 428.4 198.1 425.1 193.6 421.7 189.2 418.4 184.8 415 180.4 411.7 176.2 408.3 172 405 167.8 401.6 163.7 398.2 159.7 394.9 155.7 391.5 151.8 388.2 148 384.8 144.2 381.5 140.5 378.1 136.8 374.8 133.2 371.4 129.7 368 126.3 364.7 122.9 361.3 119.5 358 116.2 354.6 113 351.3 109.9 347.9 106.8M530.6 345.7 527.3 339.7 523.9 333.7 520.6 327.8 517.2 322 513.9 316.2 510.5 310.5 507.2 304.8 503.8 299.1 500.4 293.6 497.1 288 493.7 282.6 490.4 277.1 487 271.8 483.7 266.5 480.3 261.2 477 256 473.6 250.9 470.2 245.8 466.9 240.8 463.5 235.8 460.2 230.9 456.8 226 453.5 221.2 450.1 216.5 446.8 211.8 443.4 207.2 440 202.6 436.7 198.1 433.3 193.6 430 189.2 426.6 184.9 423.3 180.6 419.9 176.4 416.5 172.3 413.2 168.2 409.8 164.2 406.5 160.2 403.1 156.3 399.8 152.4 396.4 148.7 393.1 144.9 389.7 141.3 386.3 137.7 383 134.2 379.6 130.7 376.3 127.3 372.9 124 369.6 120.7 366.2 117.5 362.9 114.3 359.5 111.3 356.1 108.3M538.9 344.2 535.5 338.3 532.2 332.4 528.8 326.5 525.5 320.7 522.1 315 518.8 309.3 515.4 303.6 512 298.1 508.7 292.5 505.3 287.1 502 281.6 498.6 276.3 495.3 270.9 491.9 265.7 488.5 260.5 485.2 255.3 481.8 250.2 478.5 245.2 475.1 240.2 471.8 235.3 468.4 230.4 465.1 225.6 461.7 220.9 458.3 216.2 455 211.6 451.6 207 448.3 202.5 444.9 198 441.6 193.6 438.2 189.3 434.9 185 431.5 180.8 428.1 176.7 424.8 172.6 421.4 168.5 418.1 164.6 414.7 160.7 411.4 156.8 408 153 404.7 149.3 401.3 145.7 397.9 142.1 394.6 138.6 391.2 135.1 387.9 131.7 384.5 128.4 381.2 125.1 377.8 121.9 374.5 118.7 371.1 115.7 367.7 112.7 364.4 109.7M547.1 342.7 543.8 336.8 540.4 331 537.1 325.2 533.7 319.4 530.3 313.7 527 308.1 523.6 302.5 520.3 296.9 516.9 291.4 513.6 286 510.2 280.6 506.9 275.3 503.5 270 500.1 264.8 496.8 259.7 493.4 254.6 490.1 249.6 486.7 244.6 483.4 239.6 480 234.8 476.7 230 473.3 225.2 469.9 220.5 466.6 215.9 463.2 211.3 459.9 206.8 456.5 202.4 453.2 198 449.8 193.6 446.5 189.4 443.1 185.1 439.7 181 436.4 176.9 433 172.9 429.7 168.9 426.3 165 423 161.1 419.6 157.4 416.2 153.7 412.9 150 409.5 146.4 406.2 142.9 402.8 139.4 399.5 136 396.1 132.7 392.8 129.4 389.4 126.2 386 123.1 382.7 120 379.3 117 376 114.1 372.6 111.2M555.4 341.1 552 335.3 548.7 329.5 545.3 323.7 541.9 318 538.6 312.3 535.2 306.7 531.9 301.2 528.5 295.7 525.2 290.3 521.8 284.9 518.5 279.6 515.1 274.3 511.7 269.1 508.4 263.9 505 258.8 501.7 253.8 498.3 248.8 495 243.9 491.6 239 488.2 234.2 484.9 229.5 481.5 224.8 478.2 220.1 474.8 215.6 471.5 211.1 468.1 206.6 464.8 202.2 461.4 197.9 458 193.6 454.7 189.4 451.3 185.2 448 181.1 444.6 177.1 441.3 173.1 437.9 169.2 434.6 165.4 431.2 161.6 427.8 157.9 424.5 154.3 421.1 150.7 417.8 147.2 414.4 143.7 411.1 140.3 407.7 137 404.4 133.7 401 130.5 397.6 127.4 394.3 124.3 390.9 121.3 387.6 118.4 384.2 115.5 380.9 112.7M563.6 339.5 560.2 333.6 556.9 327.9 553.5 322.2 550.2 316.5 546.8 310.9 543.5 305.4 540.1 299.9 536.8 294.4 533.4 289.1 530 283.7 526.7 278.5 523.3 273.3 520 268.1 516.6 263 513.3 258 509.9 253 506.6 248 503.2 243.2 499.8 238.4 496.5 233.6 493.1 228.9 489.8 224.3 486.4 219.7 483.1 215.2 479.7 210.7 476.4 206.4 473 202 469.6 197.8 466.3 193.5 462.9 189.4 459.6 185.3 456.2 181.3 452.9 177.3 449.5 173.4 446.2 169.6 442.8 165.8 439.4 162.1 436.1 158.5 432.7 154.9 429.4 151.4 426 147.9 422.7 144.5 419.3 141.2 416 137.9 412.6 134.7 409.2 131.6 405.9 128.6 402.5 125.6 399.2 122.6 395.8 119.8 392.5 117 389.1 114.3M571.8 337.7 568.5 331.9 565.1 326.2 561.8 320.6 558.4 315 555.1 309.4 551.7 303.9 548.4 298.5 545 293.1 541.6 287.8 538.3 282.5 534.9 277.3 531.6 272.1 528.2 267 524.9 262 521.5 257 518.2 252.1 514.8 247.2 511.4 242.4 508.1 237.7 504.7 233 501.4 228.3 498 223.8 494.7 219.3 491.3 214.8 487.9 210.4 484.6 206.1 481.2 201.8 477.9 197.6 474.5 193.5 471.2 189.4 467.8 185.4 464.5 181.4 461.1 177.5 457.7 173.7 454.4 169.9 451 166.2 447.7 162.6 444.3 159 441 155.5 437.6 152 434.3 148.7 430.9 145.3 427.5 142.1 424.2 138.9 420.8 135.8 417.5 132.7 414.1 129.8 410.8 126.8 407.4 124 404.1 121.2 400.7 118.5 397.3 115.9M580.1 335.9 576.7 330.2 573.4 324.5 570 318.9 566.7 313.3 563.3 307.9 559.9 302.4 556.6 297 553.2 291.7 549.9 286.4 546.5 281.2 543.2 276.1 539.8 271 536.5 265.9 533.1 261 529.7 256 526.4 251.2 523 246.4 519.7 241.6 516.3 236.9 513 232.3 509.6 227.7 506.3 223.2 502.9 218.8 499.5 214.4 496.2 210.1 492.8 205.8 489.5 201.6 486.1 197.5 482.8 193.4 479.4 189.4 476.1 185.4 472.7 181.5 469.3 177.7 466 173.9 462.6 170.2 459.3 166.6 455.9 163 452.6 159.5 449.2 156.1 445.9 152.7 442.5 149.4 439.1 146.2 435.8 143 432.4 139.9 429.1 136.8 425.7 133.9 422.4 131 419 128.1 415.7 125.4 412.3 122.7 408.9 120 405.6 117.5M588.3 334 585 328.3 581.6 322.7 578.3 317.1 574.9 311.6 571.5 306.2 568.2 300.8 564.8 295.5 561.5 290.2 558.1 285 554.8 279.9 551.4 274.8 548.1 269.7 544.7 264.8 541.3 259.8 538 255 534.6 250.2 531.3 245.4 527.9 240.8 524.6 236.1 521.2 231.6 517.9 227.1 514.5 222.6 511.1 218.2 507.8 213.9 504.4 209.7 501.1 205.5 497.7 201.3 494.4 197.3 491 193.3 487.6 189.3 484.3 185.4 480.9 181.6 477.6 177.9 474.2 174.2 470.9 170.5 467.5 167 464.2 163.5 460.8 160.1 457.4 156.7 454.1 153.4 450.7 150.2 447.4 147 444 143.9 440.7 140.9 437.3 137.9 434 135 430.6 132.2 427.2 129.4 423.9 126.7 420.5 124.1 417.2 121.6 413.8 119.1M596.6 331.9 593.2 326.3 589.9 320.8 586.5 315.3 583.1 309.9 579.8 304.5 576.4 299.2 573.1 293.9 569.7 288.7 566.4 283.6 563 278.5 559.6 273.4 556.3 268.5 552.9 263.5 549.6 258.7 546.2 253.9 542.9 249.2 539.5 244.5 536.2 239.9 532.8 235.3 529.4 230.8 526.1 226.4 522.7 222 519.4 217.7 516 213.4 512.7 209.3 509.3 205.1 506 201.1 502.6 197.1 499.2 193.1 495.9 189.3 492.5 185.4 489.2 181.7 485.8 178 482.5 174.4 479.1 170.9 475.8 167.4 472.4 164 469 160.6 465.7 157.3 462.3 154.1 459 150.9 455.6 147.9 452.3 144.8 448.9 141.9 445.6 139 442.2 136.2 438.8 133.4 435.5 130.8 432.1 128.2 428.8 125.6 425.4 123.2 422.1 120.8M604.8 329.9 601.4 324.3 598.1 318.8 594.7 313.4 591.4 308 588 302.7 584.7 297.5 581.3 292.3 578 287.1 574.6 282 571.2 277 567.9 272 564.5 267.1 561.2 262.3 557.8 257.5 554.5 252.8 551.1 248.1 547.8 243.5 544.4 238.9 541 234.4 537.7 230 534.3 225.6 531 221.3 527.6 217.1 524.3 212.9 520.9 208.8 517.6 204.8 514.2 200.8 510.8 196.8 507.5 193 504.1 189.2 500.8 185.4 497.4 181.8 494.1 178.2 490.7 174.6 487.4 171.2 484 167.8 480.6 164.4 477.3 161.1 473.9 157.9 470.6 154.8 467.2 151.7 463.9 148.7 460.5 145.8 457.1 142.9 453.8 140.1 450.4 137.4 447.1 134.7 443.7 132.1 440.4 129.6 437 127.1 433.7 124.8 430.3 122.4M613 327.7 609.7 322.2 606.3 316.8 603 311.4 599.6 306.1 596.3 300.9 592.9 295.7 589.6 290.5 586.2 285.5 582.8 280.4 579.5 275.5 576.1 270.6 572.8 265.7 569.4 260.9 566.1 256.2 562.7 251.6 559.3 247 556 242.4 552.6 237.9 549.3 233.5 545.9 229.2 542.6 224.9 539.2 220.6 535.9 216.5 532.5 212.4 529.1 208.3 525.8 204.4 522.4 200.4 519.1 196.6 515.7 192.8 512.4 189.1 509 185.4 505.7 181.8 502.3 178.3 498.9 174.8 495.6 171.5 492.2 168.1 488.9 164.9 485.5 161.7 482.2 158.5 478.8 155.5 475.5 152.5 472.1 149.6 468.7 146.7 465.4 143.9 462 141.2 458.7 138.6 455.3 136 452 133.5 448.6 131.1 445.3 128.7 441.9 126.4 438.5 124.2M621.3 325.4 617.9 320 614.6 314.7 611.2 309.4 607.9 304.1 604.5 298.9 601.1 293.8 597.8 288.7 594.4 283.7 591.1 278.8 587.7 273.9 584.4 269.1 581 264.3 577.7 259.6 574.3 254.9 570.9 250.3 567.6 245.8 564.2 241.3 560.9 236.9 557.5 232.6 554.2 228.3 550.8 224.1 547.5 219.9 544.1 215.8 540.7 211.8 537.4 207.8 534 203.9 530.7 200.1 527.3 196.3 524 192.6 520.6 189 517.3 185.4 513.9 181.9 510.5 178.4 507.2 175.1 503.8 171.7 500.5 168.5 497.1 165.3 493.8 162.2 490.4 159.2 487.1 156.2 483.7 153.3 480.3 150.4 477 147.7 473.6 145 470.3 142.4 466.9 139.8 463.6 137.3 460.2 134.9 456.8 132.5 453.5 130.3 450.1 128.1 446.8 125.9M629.5 323.1 626.2 317.8 622.8 312.5 619.5 307.2 616.1 302.1 612.7 296.9 609.4 291.9 606 286.9 602.7 281.9 599.3 277.1 596 272.2 592.6 267.5 589.3 262.8 585.9 258.1 582.5 253.6 579.2 249 575.8 244.6 572.5 240.2 569.1 235.9 565.8 231.6 562.4 227.4 559 223.2 555.7 219.2 552.3 215.1 549 211.2 545.6 207.3 542.3 203.5 538.9 199.7 535.6 196 532.2 192.4 528.8 188.8 525.5 185.3 522.1 181.9 518.8 178.5 515.4 175.3 512.1 172 508.7 168.9 505.4 165.8 502 162.7 498.6 159.8 495.3 156.9 491.9 154.1 488.6 151.3 485.2 148.6 481.9 146 478.5 143.5 475.2 141 471.8 138.6 468.4 136.3 465.1 134 461.7 131.9 458.4 129.7 455 127.7M637.8 320.7 634.4 315.4 631 310.2 627.7 305 624.3 299.9 621 294.9 617.6 289.9 614.3 285 610.9 280.1 607.6 275.3 604.2 270.5 600.8 265.8 597.5 261.2 594.1 256.6 590.8 252.1 587.4 247.7 584.1 243.3 580.7 239 577.4 234.7 574 230.5 570.6 226.4 567.3 222.4 563.9 218.4 560.6 214.4 557.2 210.5 553.9 206.7 550.5 203 547.2 199.3 543.8 195.7 540.4 192.2 537.1 188.7 533.7 185.3 530.4 181.9 527 178.6 523.7 175.4 520.3 172.3 517 169.2 513.6 166.2 510.2 163.3 506.9 160.4 503.5 157.6 500.2 154.9 496.8 152.2 493.5 149.6 490.1 147.1 486.8 144.7 483.4 142.3 480 140 476.7 137.7 473.3 135.6 470 133.5 466.6 131.5 463.3 129.5M646 318.2 642.6 313 639.3 307.8 635.9 302.8 632.6 297.7 629.2 292.7 625.9 287.8 622.5 283 619.2 278.2 615.8 273.4 612.4 268.8 609.1 264.1 605.7 259.6 602.4 255.1 599 250.7 595.7 246.3 592.3 242 589 237.8 585.6 233.6 582.2 229.5 578.9 225.4 575.5 221.4 572.2 217.5 568.8 213.7 565.5 209.9 562.1 206.2 558.8 202.5 555.4 198.9 552 195.4 548.7 191.9 545.3 188.5 542 185.2 538.6 181.9 535.3 178.7 531.9 175.6 528.5 172.6 525.2 169.6 521.8 166.7 518.5 163.8 515.1 161 511.8 158.3 508.4 155.7 505.1 153.1 501.7 150.6 498.3 148.2 495 145.8 491.6 143.5 488.3 141.3 484.9 139.2 481.6 137.1 478.2 135.1 474.9 133.2 471.5 131.4M250.5 344.6 258.7 346 267 347.3 275.2 348.6 283.5 349.8 291.7 350.8 299.9 351.8 308.2 352.8 316.4 353.6 324.7 354.3 332.9 355 341.1 355.6 349.4 356.1 357.6 356.5 365.9 356.8 374.1 357 382.3 357.2 390.6 357.2 398.8 357.2 407.1 357.1 415.3 356.9 423.5 356.7 431.8 356.3 440 355.9 448.2 355.4 456.5 354.8 464.7 354.1 473 353.3 481.2 352.5 489.4 351.6 497.7 350.6 505.9 349.5 514.2 348.3 522.4 347 530.6 345.7 538.9 344.2 547.1 342.7 555.4 341.1 563.6 339.5 571.8 337.7 580.1 335.9 588.3 334 596.6 331.9 604.8 329.9 613 327.7 621.3 325.4 629.5 323.1 637.8 320.7 646 318.2M247.1 338.4 255.4 339.8 263.6 341.1 271.9 342.3 280.1 343.5 288.3 344.6 296.6 345.5 304.8 346.4 313.1 347.2 321.3 348 329.5 348.6 337.8 349.2 346 349.7 354.3 350.1 362.5 350.4 370.7 350.6 379 350.8 387.2 350.9 395.5 350.8 403.7 350.8 411.9 350.6 420.2 350.3 428.4 350 436.7 349.6 444.9 349.1 453.1 348.5 461.4 347.9 469.6 347.1 477.9 346.3 486.1 345.4 494.3 344.4 502.6 343.3 510.8 342.2 519.1 341 527.3 339.7 535.5 338.3 543.8 336.8 552 335.3 560.2 333.6 568.5 331.9 576.7 330.2 585 328.3 593.2 326.3 601.4 324.3 609.7 322.2 617.9 320 626.2 317.8 634.4 315.4 642.6 313M243.8 332.3 252 333.7 260.3 334.9 268.5 336.1 276.7 337.3 285 338.3 293.2 339.3 301.5 340.1 309.7 340.9 317.9 341.6 326.2 342.3 334.4 342.8 342.7 343.3 350.9 343.7 359.1 344 367.4 344.3 375.6 344.4 383.9 344.5 392.1 344.5 400.3 344.4 408.6 344.3 416.8 344 425.1 343.7 433.3 343.3 441.5 342.8 449.8 342.3 458 341.6 466.3 340.9 474.5 340.1 482.7 339.3 491 338.3 499.2 337.3 507.5 336.2 515.7 335 523.9 333.7 532.2 332.4 540.4 331 548.7 329.5 556.9 327.9 565.1 326.2 573.4 324.5 581.6 322.7 589.9 320.8 598.1 318.8 606.3 316.8 614.6 314.7 622.8 312.5 631 310.2 639.3 307.8M240.4 326.2 248.7 327.5 256.9 328.8 265.2 330 273.4 331.1 281.6 332.1 289.9 333 298.1 333.9 306.3 334.7 314.6 335.4 322.8 336 331.1 336.5 339.3 337 347.5 337.4 355.8 337.7 364 338 372.3 338.1 380.5 338.2 388.7 338.2 397 338.1 405.2 338 413.5 337.8 421.7 337.5 429.9 337.1 438.2 336.6 446.4 336.1 454.7 335.5 462.9 334.8 471.1 334 479.4 333.2 487.6 332.3 495.9 331.3 504.1 330.2 512.3 329.1 520.6 327.8 528.8 326.5 537.1 325.2 545.3 323.7 553.5 322.2 561.8 320.6 570 318.9 578.3 317.1 586.5 315.3 594.7 313.4 603 311.4 611.2 309.4 619.5 307.2 627.7 305 635.9 302.8M237.1 320.1 245.3 321.4 253.6 322.7 261.8 323.8 270 324.9 278.3 325.9 286.5 326.8 294.8 327.7 303 328.4 311.2 329.1 319.5 329.7 327.7 330.3 336 330.7 344.2 331.1 352.4 331.5 360.7 331.7 368.9 331.9 377.1 331.9 385.4 332 393.6 331.9 401.9 331.8 410.1 331.5 418.3 331.3 426.6 330.9 434.8 330.5 443.1 329.9 451.3 329.4 459.5 328.7 467.8 328 476 327.2 484.3 326.3 492.5 325.3 500.7 324.3 509 323.2 517.2 322 525.5 320.7 533.7 319.4 541.9 318 550.2 316.5 558.4 315 566.7 313.3 574.9 311.6 583.1 309.9 591.4 308 599.6 306.1 607.9 304.1 616.1 302.1 624.3 299.9 632.6 297.7M233.7 314.1 242 315.4 250.2 316.6 258.4 317.7 266.7 318.8 274.9 319.7 283.2 320.6 291.4 321.5 299.6 322.2 307.9 322.9 316.1 323.5 324.4 324.1 332.6 324.5 340.8 324.9 349.1 325.2 357.3 325.5 365.6 325.6 373.8 325.7 382 325.7 390.3 325.7 398.5 325.6 406.8 325.4 415 325.1 423.2 324.8 431.5 324.3 439.7 323.9 448 323.3 456.2 322.7 464.4 321.9 472.7 321.2 480.9 320.3 489.1 319.4 497.4 318.4 505.6 317.3 513.9 316.2 522.1 315 530.3 313.7 538.6 312.3 546.8 310.9 555.1 309.4 563.3 307.9 571.5 306.2 579.8 304.5 588 302.7 596.3 300.9 604.5 298.9 612.7 296.9 621 294.9 629.2 292.7M230.4 308.1 238.6 309.4 246.8 310.5 255.1 311.6 263.3 312.7 271.6 313.6 279.8 314.5 288 315.3 296.3 316.1 304.5 316.8 312.8 317.4 321 317.9 329.2 318.3 337.5 318.7 345.7 319 354 319.3 362.2 319.5 370.4 319.6 378.7 319.6 386.9 319.5 395.2 319.4 403.4 319.2 411.6 319 419.9 318.7 428.1 318.3 436.4 317.8 444.6 317.3 452.8 316.7 461.1 316 469.3 315.2 477.6 314.4 485.8 313.5 494 312.6 502.3 311.6 510.5 310.5 518.8 309.3 527 308.1 535.2 306.7 543.5 305.4 551.7 303.9 559.9 302.4 568.2 300.8 576.4 299.2 584.7 297.5 592.9 295.7 601.1 293.8 609.4 291.9 617.6 289.9 625.9 287.8M227 302.2 235.2 303.4 243.5 304.5 251.7 305.6 260 306.6 268.2 307.6 276.4 308.4 284.7 309.2 292.9 310 301.2 310.6 309.4 311.2 317.6 311.7 325.9 312.2 334.1 312.6 342.4 312.9 350.6 313.1 358.8 313.3 367.1 313.4 375.3 313.5 383.6 313.4 391.8 313.3 400 313.2 408.3 312.9 416.5 312.6 424.8 312.2 433 311.8 441.2 311.3 449.5 310.7 457.7 310.1 466 309.4 474.2 308.6 482.4 307.7 490.7 306.8 498.9 305.8 507.2 304.8 515.4 303.6 523.6 302.5 531.9 301.2 540.1 299.9 548.4 298.5 556.6 297 564.8 295.5 573.1 293.9 581.3 292.3 589.6 290.5 597.8 288.7 606 286.9 614.3 285 622.5 283M223.7 296.2 231.9 297.4 240.1 298.6 248.4 299.6 256.6 300.6 264.9 301.5 273.1 302.4 281.3 303.2 289.6 303.9 297.8 304.5 306 305.1 314.3 305.6 322.5 306.1 330.8 306.5 339 306.8 347.2 307 355.5 307.2 363.7 307.3 372 307.4 380.2 307.4 388.4 307.3 396.7 307.1 404.9 306.9 413.2 306.6 421.4 306.3 429.6 305.9 437.9 305.4 446.1 304.8 454.4 304.2 462.6 303.5 470.8 302.8 479.1 302 487.3 301.1 495.6 300.1 503.8 299.1 512 298.1 520.3 296.9 528.5 295.7 536.8 294.4 545 293.1 553.2 291.7 561.5 290.2 569.7 288.7 578 287.1 586.2 285.5 594.4 283.7 602.7 281.9 610.9 280.1 619.2 278.2M220.3 290.4 228.5 291.5 236.8 292.6 245 293.7 253.3 294.6 261.5 295.5 269.7 296.4 278 297.1 286.2 297.9 294.5 298.5 302.7 299.1 310.9 299.6 319.2 300 327.4 300.4 335.7 300.7 343.9 301 352.1 301.2 360.4 301.3 368.6 301.4 376.9 301.3 385.1 301.3 393.3 301.1 401.6 300.9 409.8 300.7 418 300.4 426.3 300 434.5 299.5 442.8 299 451 298.4 459.2 297.8 467.5 297 475.7 296.3 484 295.4 492.2 294.5 500.4 293.6 508.7 292.5 516.9 291.4 525.2 290.3 533.4 289.1 541.6 287.8 549.9 286.4 558.1 285 566.4 283.6 574.6 282 582.8 280.4 591.1 278.8 599.3 277.1 607.6 275.3 615.8 273.4M216.9 284.5 225.2 285.6 233.4 286.7 241.7 287.7 249.9 288.7 258.1 289.6 266.4 290.4 274.6 291.2 282.9 291.9 291.1 292.5 299.3 293.1 307.6 293.6 315.8 294 324.1 294.4 332.3 294.7 340.5 295 348.8 295.2 357 295.3 365.3 295.4 373.5 295.4 381.7 295.3 390 295.2 398.2 295 406.5 294.8 414.7 294.5 422.9 294.1 431.2 293.7 439.4 293.2 447.7 292.6 455.9 292 464.1 291.3 472.4 290.6 480.6 289.8 488.8 289 497.1 288 505.3 287.1 513.6 286 521.8 284.9 530 283.7 538.3 282.5 546.5 281.2 554.8 279.9 563 278.5 571.2 277 579.5 275.5 587.7 273.9 596 272.2 604.2 270.5 612.4 268.8M213.6 278.7 221.8 279.8 230.1 280.9 238.3 281.9 246.5 282.8 254.8 283.7 263 284.5 271.3 285.2 279.5 285.9 287.7 286.5 296 287.1 304.2 287.6 312.5 288 320.7 288.4 328.9 288.7 337.2 289 345.4 289.2 353.7 289.3 361.9 289.4 370.1 289.4 378.4 289.4 386.6 289.3 394.9 289.1 403.1 288.9 411.3 288.6 419.6 288.3 427.8 287.9 436.1 287.4 444.3 286.9 452.5 286.3 460.8 285.7 469 285 477.3 284.3 485.5 283.4 493.7 282.6 502 281.6 510.2 280.6 518.5 279.6 526.7 278.5 534.9 277.3 543.2 276.1 551.4 274.8 559.6 273.4 567.9 272 576.1 270.6 584.4 269.1 592.6 267.5 600.8 265.8 609.1 264.1M210.2 272.9 218.5 274 226.7 275 234.9 276 243.2 276.9 251.4 277.8 259.7 278.6 267.9 279.3 276.1 280 284.4 280.6 292.6 281.2 300.9 281.7 309.1 282.1 317.3 282.5 325.6 282.8 333.8 283.1 342.1 283.3 350.3 283.4 358.5 283.5 366.8 283.6 375 283.5 383.3 283.5 391.5 283.3 399.7 283.1 408 282.9 416.2 282.6 424.5 282.2 432.7 281.8 440.9 281.3 449.2 280.7 457.4 280.1 465.7 279.5 473.9 278.7 482.1 278 490.4 277.1 498.6 276.3 506.9 275.3 515.1 274.3 523.3 273.3 531.6 272.1 539.8 271 548.1 269.7 556.3 268.5 564.5 267.1 572.8 265.7 581 264.3 589.3 262.8 597.5 261.2 605.7 259.6M206.9 267.2 215.1 268.2 223.4 269.2 231.6 270.2 239.8 271.1 248.1 271.9 256.3 272.7 264.6 273.4 272.8 274.1 281 274.7 289.3 275.3 297.5 275.8 305.8 276.2 314 276.6 322.2 276.9 330.5 277.2 338.7 277.4 346.9 277.6 355.2 277.7 363.4 277.7 371.7 277.7 379.9 277.7 388.1 277.5 396.4 277.4 404.6 277.1 412.9 276.8 421.1 276.5 429.3 276.1 437.6 275.7 445.8 275.1 454.1 274.6 462.3 274 470.5 273.3 478.8 272.6 487 271.8 495.3 270.9 503.5 270 511.7 269.1 520 268.1 528.2 267 536.5 265.9 544.7 264.8 552.9 263.5 561.2 262.3 569.4 260.9 577.7 259.6 585.9 258.1 594.1 256.6 602.4 255.1M203.5 261.5 211.8 262.5 220 263.5 228.2 264.4 236.5 265.3 244.7 266.1 253 266.9 261.2 267.6 269.4 268.3 277.7 268.9 285.9 269.4 294.2 269.9 302.4 270.4 310.6 270.8 318.9 271.1 327.1 271.4 335.4 271.6 343.6 271.8 351.8 271.9 360.1 271.9 368.3 272 376.6 271.9 384.8 271.8 393 271.7 401.3 271.5 409.5 271.2 417.7 270.9 426 270.5 434.2 270.1 442.5 269.6 450.7 269.1 458.9 268.5 467.2 267.9 475.4 267.2 483.7 266.5 491.9 265.7 500.1 264.8 508.4 263.9 516.6 263 524.9 262 533.1 261 541.3 259.8 549.6 258.7 557.8 257.5 566.1 256.2 574.3 254.9 582.5 253.6 590.8 252.1 599 250.7M200.2 255.8 208.4 256.8 216.6 257.8 224.9 258.7 233.1 259.6 241.4 260.4 249.6 261.1 257.8 261.8 266.1 262.5 274.3 263.1 282.6 263.6 290.8 264.1 299 264.6 307.3 265 315.5 265.3 323.8 265.6 332 265.8 340.2 266 348.5 266.1 356.7 266.2 365 266.2 373.2 266.2 381.4 266.1 389.7 266 397.9 265.8 406.2 265.6 414.4 265.3 422.6 265 430.9 264.6 439.1 264.2 447.4 263.7 455.6 263.1 463.8 262.5 472.1 261.9 480.3 261.2 488.5 260.5 496.8 259.7 505 258.8 513.3 258 521.5 257 529.7 256 538 255 546.2 253.9 554.5 252.8 562.7 251.6 570.9 250.3 579.2 249 587.4 247.7 595.7 246.3M196.8 250.2 205 251.2 213.3 252.1 221.5 253 229.8 253.9 238 254.7 246.2 255.4 254.5 256.1 262.7 256.7 271 257.3 279.2 257.9 287.4 258.4 295.7 258.8 303.9 259.2 312.2 259.5 320.4 259.8 328.6 260.1 336.9 260.3 345.1 260.4 353.4 260.5 361.6 260.6 369.8 260.6 378.1 260.5 386.3 260.4 394.6 260.2 402.8 260 411 259.8 419.3 259.5 427.5 259.1 435.8 258.7 444 258.3 452.2 257.8 460.5 257.3 468.7 256.7 477 256 485.2 255.3 493.4 254.6 501.7 253.8 509.9 253 518.2 252.1 526.4 251.2 534.6 250.2 542.9 249.2 551.1 248.1 559.3 247 567.6 245.8 575.8 244.6 584.1 243.3 592.3 242M193.5 244.6 201.7 245.6 209.9 246.5 218.2 247.4 226.4 248.2 234.6 249 242.9 249.7 251.1 250.4 259.4 251 267.6 251.6 275.8 252.2 284.1 252.7 292.3 253.1 300.6 253.5 308.8 253.8 317 254.1 325.3 254.4 333.5 254.6 341.8 254.8 350 254.9 358.2 254.9 366.5 254.9 374.7 254.9 383 254.8 391.2 254.7 399.4 254.5 407.7 254.3 415.9 254.1 424.2 253.7 432.4 253.4 440.6 253 448.9 252.5 457.1 252 465.4 251.5 473.6 250.9 481.8 250.2 490.1 249.6 498.3 248.8 506.6 248 514.8 247.2 523 246.4 531.3 245.4 539.5 244.5 547.8 243.5 556 242.4 564.2 241.3 572.5 240.2 580.7 239 589 237.8M190.1 239 198.3 240 206.6 240.9 214.8 241.8 223.1 242.6 231.3 243.3 239.5 244.1 247.8 244.7 256 245.4 264.3 246 272.5 246.5 280.7 247 289 247.4 297.2 247.8 305.5 248.2 313.7 248.5 321.9 248.8 330.2 249 338.4 249.1 346.6 249.3 354.9 249.4 363.1 249.4 371.4 249.4 379.6 249.3 387.8 249.2 396.1 249.1 404.3 248.9 412.6 248.7 420.8 248.4 429 248.1 437.3 247.7 445.5 247.3 453.8 246.8 462 246.3 470.2 245.8 478.5 245.2 486.7 244.6 495 243.9 503.2 243.2 511.4 242.4 519.7 241.6 527.9 240.8 536.2 239.9 544.4 238.9 552.6 237.9 560.9 236.9 569.1 235.9 577.4 234.7 585.6 233.6M186.7 233.5 195 234.4 203.2 235.3 211.5 236.2 219.7 237 227.9 237.7 236.2 238.5 244.4 239.1 252.7 239.7 260.9 240.3 269.1 240.9 277.4 241.4 285.6 241.8 293.9 242.2 302.1 242.6 310.3 242.9 318.6 243.2 326.8 243.4 335.1 243.6 343.3 243.7 351.5 243.8 359.8 243.9 368 243.9 376.3 243.9 384.5 243.8 392.7 243.7 401 243.5 409.2 243.3 417.4 243.1 425.7 242.8 433.9 242.5 442.2 242.1 450.4 241.7 458.6 241.3 466.9 240.8 475.1 240.2 483.4 239.6 491.6 239 499.8 238.4 508.1 237.7 516.3 236.9 524.6 236.1 532.8 235.3 541 234.4 549.3 233.5 557.5 232.6 565.8 231.6 574 230.5 582.2 229.5M183.4 228 191.6 228.9 199.9 229.8 208.1 230.7 216.3 231.4 224.6 232.2 232.8 232.9 241.1 233.5 249.3 234.2 257.5 234.7 265.8 235.3 274 235.8 282.3 236.2 290.5 236.6 298.7 237 307 237.3 315.2 237.6 323.5 237.9 331.7 238.1 339.9 238.2 348.2 238.3 356.4 238.4 364.7 238.5 372.9 238.5 381.1 238.4 389.4 238.3 397.6 238.2 405.9 238.1 414.1 237.9 422.3 237.6 430.6 237.3 438.8 237 447.1 236.6 455.3 236.2 463.5 235.8 471.8 235.3 480 234.8 488.2 234.2 496.5 233.6 504.7 233 513 232.3 521.2 231.6 529.4 230.8 537.7 230 545.9 229.2 554.2 228.3 562.4 227.4 570.6 226.4 578.9 225.4M180 222.6 188.3 223.5 196.5 224.3 204.7 225.2 213 225.9 221.2 226.7 229.5 227.4 237.7 228 245.9 228.6 254.2 229.2 262.4 229.7 270.7 230.2 278.9 230.7 287.1 231.1 295.4 231.5 303.6 231.8 311.9 232.1 320.1 232.4 328.3 232.6 336.6 232.8 344.8 232.9 353.1 233 361.3 233.1 369.5 233.1 377.8 233.1 386 233.1 394.3 233 402.5 232.8 410.7 232.7 419 232.5 427.2 232.2 435.5 231.9 443.7 231.6 451.9 231.3 460.2 230.9 468.4 230.4 476.7 230 484.9 229.5 493.1 228.9 501.4 228.3 509.6 227.7 517.9 227.1 526.1 226.4 534.3 225.6 542.6 224.9 550.8 224.1 559 223.2 567.3 222.4 575.5 221.4M176.7 217.2 184.9 218.1 193.2 218.9 201.4 219.7 209.6 220.5 217.9 221.2 226.1 221.9 234.4 222.5 242.6 223.1 250.8 223.7 259.1 224.2 267.3 224.7 275.5 225.2 283.8 225.6 292 226 300.3 226.4 308.5 226.7 316.7 226.9 325 227.2 333.2 227.4 341.5 227.5 349.7 227.7 357.9 227.8 366.2 227.8 374.4 227.8 382.7 227.8 390.9 227.8 399.1 227.7 407.4 227.5 415.6 227.4 423.9 227.2 432.1 226.9 440.3 226.7 448.6 226.4 456.8 226 465.1 225.6 473.3 225.2 481.5 224.8 489.8 224.3 498 223.8 506.3 223.2 514.5 222.6 522.7 222 531 221.3 539.2 220.6 547.5 219.9 555.7 219.2 563.9 218.4 572.2 217.5M173.3 211.8 181.6 212.7 189.8 213.5 198 214.3 206.3 215.1 214.5 215.8 222.8 216.4 231 217.1 239.2 217.7 247.5 218.3 255.7 218.8 264 219.3 272.2 219.8 280.4 220.2 288.7 220.6 296.9 220.9 305.2 221.3 313.4 221.6 321.6 221.8 329.9 222 338.1 222.2 346.3 222.4 354.6 222.5 362.8 222.6 371.1 222.6 379.3 222.6 387.5 222.6 395.8 222.5 404 222.5 412.3 222.3 420.5 222.2 428.7 222 437 221.8 445.2 221.5 453.5 221.2 461.7 220.9 469.9 220.5 478.2 220.1 486.4 219.7 494.7 219.3 502.9 218.8 511.1 218.2 519.4 217.7 527.6 217.1 535.9 216.5 544.1 215.8 552.3 215.1 560.6 214.4 568.8 213.7M170 206.5 178.2 207.4 186.4 208.2 194.7 208.9 202.9 209.7 211.2 210.4 219.4 211 227.6 211.7 235.9 212.3 244.1 212.9 252.4 213.4 260.6 213.9 268.8 214.4 277.1 214.8 285.3 215.2 293.6 215.6 301.8 215.9 310 216.2 318.3 216.5 326.5 216.7 334.8 216.9 343 217.1 351.2 217.2 359.5 217.4 367.7 217.4 376 217.5 384.2 217.5 392.4 217.5 400.7 217.4 408.9 217.4 417.1 217.2 425.4 217.1 433.6 216.9 441.9 216.7 450.1 216.5 458.3 216.2 466.6 215.9 474.8 215.6 483.1 215.2 491.3 214.8 499.5 214.4 507.8 213.9 516 213.4 524.3 212.9 532.5 212.4 540.7 211.8 549 211.2 557.2 210.5 565.5 209.9M166.6 201.2 174.8 202.1 183.1 202.9 191.3 203.6 199.6 204.3 207.8 205 216 205.7 224.3 206.3 232.5 206.9 240.8 207.5 249 208 257.2 208.5 265.5 209 273.7 209.5 282 209.9 290.2 210.2 298.4 210.6 306.7 210.9 314.9 211.2 323.2 211.5 331.4 211.7 339.6 211.9 347.9 212.1 356.1 212.2 364.4 212.3 372.6 212.4 380.8 212.5 389.1 212.5 397.3 212.5 405.6 212.4 413.8 212.4 422 212.3 430.3 212.1 438.5 212 446.8 211.8 455 211.6 463.2 211.3 471.5 211.1 479.7 210.7 487.9 210.4 496.2 210.1 504.4 209.7 512.7 209.3 520.9 208.8 529.1 208.3 537.4 207.8 545.6 207.3 553.9 206.7 562.1 206.2M163.2 196 171.5 196.8 179.7 197.6 188 198.3 196.2 199 204.4 199.7 212.7 200.4 220.9 201 229.2 201.6 237.4 202.2 245.6 202.7 253.9 203.2 262.1 203.7 270.4 204.2 278.6 204.6 286.8 205 295.1 205.3 303.3 205.7 311.6 206 319.8 206.3 328 206.5 336.3 206.8 344.5 206.9 352.8 207.1 361 207.3 369.2 207.4 377.5 207.5 385.7 207.5 394 207.5 402.2 207.6 410.4 207.5 418.7 207.5 426.9 207.4 435.2 207.3 443.4 207.2 451.6 207 459.9 206.8 468.1 206.6 476.4 206.4 484.6 206.1 492.8 205.8 501.1 205.5 509.3 205.1 517.6 204.8 525.8 204.4 534 203.9 542.3 203.5 550.5 203 558.8 202.5M159.9 190.8 168.1 191.6 176.4 192.4 184.6 193.1 192.9 193.8 201.1 194.5 209.3 195.1 217.6 195.7 225.8 196.3 234.1 196.9 242.3 197.4 250.5 198 258.8 198.4 267 198.9 275.2 199.3 283.5 199.8 291.7 200.1 300 200.5 308.2 200.8 316.4 201.1 324.7 201.4 332.9 201.7 341.2 201.9 349.4 202.1 357.6 202.2 365.9 202.4 374.1 202.5 382.4 202.6 390.6 202.7 398.8 202.7 407.1 202.8 415.3 202.8 423.6 202.7 431.8 202.7 440 202.6 448.3 202.5 456.5 202.4 464.8 202.2 473 202 481.2 201.8 489.5 201.6 497.7 201.3 506 201.1 514.2 200.8 522.4 200.4 530.7 200.1 538.9 199.7 547.2 199.3 555.4 198.9M156.5 185.7 164.8 186.4 173 187.2 181.3 187.9 189.5 188.6 197.7 189.3 206 189.9 214.2 190.5 222.5 191.1 230.7 191.7 238.9 192.2 247.2 192.7 255.4 193.2 263.7 193.7 271.9 194.2 280.1 194.6 288.4 195 296.6 195.3 304.9 195.7 313.1 196 321.3 196.3 329.6 196.6 337.8 196.9 346 197.1 354.3 197.3 362.5 197.5 370.8 197.6 379 197.8 387.2 197.9 395.5 198 403.7 198 412 198.1 420.2 198.1 428.4 198.1 436.7 198.1 444.9 198 453.2 198 461.4 197.9 469.6 197.8 477.9 197.6 486.1 197.5 494.4 197.3 502.6 197.1 510.8 196.8 519.1 196.6 527.3 196.3 535.6 196 543.8 195.7 552 195.4M153.2 180.5 161.4 181.3 169.7 182 177.9 182.7 186.1 183.4 194.4 184.1 202.6 184.7 210.9 185.3 219.1 185.9 227.3 186.5 235.6 187 243.8 187.6 252.1 188.1 260.3 188.6 268.5 189 276.8 189.4 285 189.9 293.3 190.3 301.5 190.6 309.7 191 318 191.3 326.2 191.6 334.5 191.9 342.7 192.2 350.9 192.4 359.2 192.6 367.4 192.8 375.7 193 383.9 193.1 392.1 193.3 400.4 193.4 408.6 193.5 416.8 193.5 425.1 193.6 433.3 193.6 441.6 193.6 449.8 193.6 458 193.6 466.3 193.5 474.5 193.5 482.8 193.4 491 193.3 499.2 193.1 507.5 193 515.7 192.8 524 192.6 532.2 192.4 540.4 192.2 548.7 191.9M149.8 175.5 158.1 176.2 166.3 176.9 174.5 177.6 182.8 178.3 191 179 199.3 179.6 207.5 180.2 215.7 180.8 224 181.4 232.2 181.9 240.5 182.4 248.7 183 256.9 183.5 265.2 183.9 273.4 184.4 281.7 184.8 289.9 185.2 298.1 185.6 306.4 186 314.6 186.3 322.9 186.7 331.1 187 339.3 187.3 347.6 187.5 355.8 187.8 364.1 188 372.3 188.2 380.5 188.4 388.8 188.6 397 188.8 405.3 188.9 413.5 189 421.7 189.2 430 189.2 438.2 189.3 446.5 189.4 454.7 189.4 462.9 189.4 471.2 189.4 479.4 189.4 487.6 189.3 495.9 189.3 504.1 189.2 512.4 189.1 520.6 189 528.8 188.8 537.1 188.7 545.3 188.5M146.5 170.4 154.7 171.2 163 171.9 171.2 172.6 179.4 173.2 187.7 173.9 195.9 174.5 204.1 175.1 212.4 175.7 220.6 176.3 228.9 176.8 237.1 177.4 245.3 177.9 253.6 178.4 261.8 178.9 270.1 179.3 278.3 179.8 286.5 180.2 294.8 180.6 303 181 311.3 181.4 319.5 181.8 327.7 182.1 336 182.4 344.2 182.7 352.5 183 360.7 183.3 368.9 183.6 377.2 183.8 385.4 184 393.7 184.2 401.9 184.4 410.1 184.6 418.4 184.8 426.6 184.9 434.9 185 443.1 185.1 451.3 185.2 459.6 185.3 467.8 185.4 476.1 185.4 484.3 185.4 492.5 185.4 500.8 185.4 509 185.4 517.3 185.4 525.5 185.3 533.7 185.3 542 185.2M143.1 165.4 151.4 166.2 159.6 166.8 167.8 167.5 176.1 168.2 184.3 168.8 192.6 169.5 200.8 170.1 209 170.7 217.3 171.2 225.5 171.8 233.8 172.3 242 172.9 250.2 173.4 258.5 173.9 266.7 174.4 274.9 174.8 283.2 175.3 291.4 175.7 299.7 176.1 307.9 176.5 316.1 176.9 324.4 177.3 332.6 177.7 340.9 178 349.1 178.3 357.3 178.7 365.6 179 373.8 179.2 382.1 179.5 390.3 179.8 398.5 180 406.8 180.2 415 180.4 423.3 180.6 431.5 180.8 439.7 181 448 181.1 456.2 181.3 464.5 181.4 472.7 181.5 480.9 181.6 489.2 181.7 497.4 181.8 505.7 181.8 513.9 181.9 522.1 181.9 530.4 181.9 538.6 181.9M139.8 160.5 148 161.2 156.2 161.9 164.5 162.5 172.7 163.2 181 163.8 189.2 164.5 197.4 165.1 205.7 165.7 213.9 166.2 222.2 166.8 230.4 167.4 238.6 167.9 246.9 168.4 255.1 168.9 263.4 169.4 271.6 169.9 279.8 170.4 288.1 170.9 296.3 171.3 304.6 171.7 312.8 172.2 321 172.6 329.3 172.9 337.5 173.3 345.7 173.7 354 174 362.2 174.4 370.5 174.7 378.7 175 386.9 175.3 395.2 175.6 403.4 175.9 411.7 176.2 419.9 176.4 428.1 176.7 436.4 176.9 444.6 177.1 452.9 177.3 461.1 177.5 469.3 177.7 477.6 177.9 485.8 178 494.1 178.2 502.3 178.3 510.5 178.4 518.8 178.5 527 178.6 535.3 178.7M136.4 155.6 144.6 156.3 152.9 156.9 161.1 157.6 169.4 158.3 177.6 158.9 185.8 159.5 194.1 160.1 202.3 160.7 210.6 161.3 218.8 161.9 227 162.4 235.3 163 243.5 163.5 251.8 164.1 260 164.6 268.2 165.1 276.5 165.6 284.7 166 293 166.5 301.2 167 309.4 167.4 317.7 167.9 325.9 168.3 334.2 168.7 342.4 169.1 350.6 169.5 358.9 169.9 367.1 170.3 375.4 170.6 383.6 171 391.8 171.3 400.1 171.6 408.3 172 416.5 172.3 424.8 172.6 433 172.9 441.3 173.1 449.5 173.4 457.7 173.7 466 173.9 474.2 174.2 482.5 174.4 490.7 174.6 498.9 174.8 507.2 175.1 515.4 175.3 523.7 175.4 531.9 175.6M133 150.7 141.3 151.4 149.5 152.1 157.8 152.7 166 153.4 174.2 154 182.5 154.6 190.7 155.2 199 155.8 207.2 156.4 215.4 157 223.7 157.6 231.9 158.1 240.2 158.7 248.4 159.2 256.6 159.7 264.9 160.3 273.1 160.8 281.4 161.3 289.6 161.8 297.8 162.3 306.1 162.7 314.3 163.2 322.6 163.7 330.8 164.1 339 164.6 347.3 165 355.5 165.4 363.8 165.8 372 166.3 380.2 166.7 388.5 167.1 396.7 167.4 405 167.8 413.2 168.2 421.4 168.5 429.7 168.9 437.9 169.2 446.2 169.6 454.4 169.9 462.6 170.2 470.9 170.5 479.1 170.9 487.4 171.2 495.6 171.5 503.8 171.7 512.1 172 520.3 172.3 528.5 172.6M129.7 145.9 137.9 146.6 146.2 147.2 154.4 147.9 162.7 148.5 170.9 149.1 179.1 149.7 187.4 150.4 195.6 151 203.8 151.6 212.1 152.1 220.3 152.7 228.6 153.3 236.8 153.9 245 154.4 253.3 155 261.5 155.5 269.8 156 278 156.6 286.2 157.1 294.5 157.6 302.7 158.1 311 158.6 319.2 159.1 327.4 159.6 335.7 160.1 343.9 160.6 352.2 161 360.4 161.5 368.6 162 376.9 162.4 385.1 162.9 393.4 163.3 401.6 163.7 409.8 164.2 418.1 164.6 426.3 165 434.6 165.4 442.8 165.8 451 166.2 459.3 166.6 467.5 167 475.8 167.4 484 167.8 492.2 168.1 500.5 168.5 508.7 168.9 517 169.2 525.2 169.6M126.3 141.1 134.6 141.8 142.8 142.4 151.1 143.1 159.3 143.7 167.5 144.3 175.8 144.9 184 145.5 192.3 146.2 200.5 146.8 208.7 147.4 217 147.9 225.2 148.5 233.5 149.1 241.7 149.7 249.9 150.2 258.2 150.8 266.4 151.4 274.6 151.9 282.9 152.5 291.1 153 299.4 153.6 307.6 154.1 315.8 154.6 324.1 155.1 332.3 155.7 340.6 156.2 348.8 156.7 357 157.2 365.3 157.7 373.5 158.2 381.8 158.7 390 159.2 398.2 159.7 406.5 160.2 414.7 160.7 423 161.1 431.2 161.6 439.4 162.1 447.7 162.6 455.9 163 464.2 163.5 472.4 164 480.6 164.4 488.9 164.9 497.1 165.3 505.4 165.8 513.6 166.2 521.8 166.7M123 136.4 131.2 137 139.5 137.7 147.7 138.3 155.9 138.9 164.2 139.6 172.4 140.2 180.7 140.8 188.9 141.4 197.1 142 205.4 142.6 213.6 143.2 221.9 143.8 230.1 144.4 238.3 145 246.6 145.6 254.8 146.2 263.1 146.7 271.3 147.3 279.5 147.9 287.8 148.5 296 149 304.3 149.6 312.5 150.2 320.7 150.7 329 151.3 337.2 151.9 345.4 152.4 353.7 153 361.9 153.5 370.2 154.1 378.4 154.6 386.6 155.2 394.9 155.7 403.1 156.3 411.4 156.8 419.6 157.4 427.8 157.9 436.1 158.5 444.3 159 452.6 159.5 460.8 160.1 469 160.6 477.3 161.1 485.5 161.7 493.8 162.2 502 162.7 510.2 163.3 518.5 163.8M119.6 131.7 127.9 132.4 136.1 133 144.3 133.6 152.6 134.2 160.8 134.8 169.1 135.5 177.3 136.1 185.5 136.7 193.8 137.3 202 137.9 210.3 138.5 218.5 139.1 226.7 139.7 235 140.4 243.2 141 251.5 141.6 259.7 142.2 267.9 142.8 276.2 143.4 284.4 144 292.7 144.6 300.9 145.2 309.1 145.8 317.4 146.4 325.6 147 333.9 147.6 342.1 148.2 350.3 148.8 358.6 149.4 366.8 150 375.1 150.6 383.3 151.2 391.5 151.8 399.8 152.4 408 153 416.2 153.7 424.5 154.3 432.7 154.9 441 155.5 449.2 156.1 457.4 156.7 465.7 157.3 473.9 157.9 482.2 158.5 490.4 159.2 498.6 159.8 506.9 160.4 515.1 161M116.3 127.1 124.5 127.7 132.7 128.3 141 128.9 149.2 129.6 157.5 130.2 165.7 130.8 173.9 131.4 182.2 132 190.4 132.6 198.7 133.3 206.9 133.9 215.1 134.5 223.4 135.1 231.6 135.8 239.9 136.4 248.1 137 256.3 137.7 264.6 138.3 272.8 138.9 281.1 139.6 289.3 140.2 297.5 140.8 305.8 141.5 314 142.1 322.3 142.8 330.5 143.4 338.7 144 347 144.7 355.2 145.4 363.5 146 371.7 146.7 379.9 147.3 388.2 148 396.4 148.7 404.7 149.3 412.9 150 421.1 150.7 429.4 151.4 437.6 152 445.9 152.7 454.1 153.4 462.3 154.1 470.6 154.8 478.8 155.5 487.1 156.2 495.3 156.9 503.5 157.6 511.8 158.3M112.9 122.5 121.2 123.1 129.4 123.7 137.6 124.3 145.9 124.9 154.1 125.5 162.4 126.2 170.6 126.8 178.8 127.4 187.1 128 195.3 128.7 203.5 129.3 211.8 129.9 220 130.6 228.3 131.2 236.5 131.9 244.7 132.5 253 133.2 261.2 133.8 269.5 134.5 277.7 135.2 285.9 135.8 294.2 136.5 302.4 137.2 310.7 137.9 318.9 138.6 327.1 139.3 335.4 139.9 343.6 140.6 351.9 141.3 360.1 142.1 368.3 142.8 376.6 143.5 384.8 144.2 393.1 144.9 401.3 145.7 409.5 146.4 417.8 147.2 426 147.9 434.3 148.7 442.5 149.4 450.7 150.2 459 150.9 467.2 151.7 475.5 152.5 483.7 153.3 491.9 154.1 500.2 154.9 508.4 155.7M109.6 117.9 117.8 118.5 126 119.1 134.3 119.7 142.5 120.4 150.8 121 159 121.6 167.2 122.2 175.5 122.9 183.7 123.5 192 124.1 200.2 124.8 208.4 125.4 216.7 126.1 224.9 126.8 233.2 127.4 241.4 128.1 249.6 128.8 257.9 129.5 266.1 130.2 274.3 130.8 282.6 131.6 290.8 132.3 299.1 133 307.3 133.7 315.5 134.4 323.8 135.2 332 135.9 340.3 136.7 348.5 137.4 356.7 138.2 365 138.9 373.2 139.7 381.5 140.5 389.7 141.3 397.9 142.1 406.2 142.9 414.4 143.7 422.7 144.5 430.9 145.3 439.1 146.2 447.4 147 455.6 147.9 463.9 148.7 472.1 149.6 480.3 150.4 488.6 151.3 496.8 152.2 505.1 153.1M106.2 113.4 114.4 114 122.7 114.6 130.9 115.2 139.2 115.8 147.4 116.4 155.6 117.1 163.9 117.7 172.1 118.3 180.4 119 188.6 119.6 196.8 120.3 205.1 121 213.3 121.6 221.6 122.3 229.8 123 238 123.7 246.3 124.4 254.5 125.1 262.8 125.9 271 126.6 279.2 127.3 287.5 128.1 295.7 128.8 304 129.6 312.2 130.4 320.4 131.1 328.7 131.9 336.9 132.7 345.1 133.5 353.4 134.3 361.6 135.2 369.9 136 378.1 136.8 386.3 137.7 394.6 138.6 402.8 139.4 411.1 140.3 419.3 141.2 427.5 142.1 435.8 143 444 143.9 452.3 144.8 460.5 145.8 468.7 146.7 477 147.7 485.2 148.6 493.5 149.6 501.7 150.6M102.8 109 111.1 109.6 119.3 110.1 127.6 110.7 135.8 111.4 144 112 152.3 112.6 160.5 113.2 168.8 113.9 177 114.5 185.2 115.2 193.5 115.9 201.7 116.6 210 117.2 218.2 117.9 226.4 118.7 234.7 119.4 242.9 120.1 251.2 120.9 259.4 121.6 267.6 122.4 275.9 123.1 284.1 123.9 292.4 124.7 300.6 125.5 308.8 126.3 317.1 127.2 325.3 128 333.6 128.8 341.8 129.7 350 130.6 358.3 131.5 366.5 132.3 374.8 133.2 383 134.2 391.2 135.1 399.5 136 407.7 137 416 137.9 424.2 138.9 432.4 139.9 440.7 140.9 448.9 141.9 457.1 142.9 465.4 143.9 473.6 145 481.9 146 490.1 147.1 498.3 148.2M99.5 104.6 107.7 105.1 116 105.7 124.2 106.3 132.4 106.9 140.7 107.5 148.9 108.2 157.2 108.8 165.4 109.5 173.6 110.1 181.9 110.8 190.1 111.5 198.4 112.2 206.6 112.9 214.8 113.6 223.1 114.4 231.3 115.1 239.6 115.9 247.8 116.6 256 117.4 264.3 118.2 272.5 119 280.8 119.8 289 120.7 297.2 121.5 305.5 122.4 313.7 123.3 322 124.1 330.2 125 338.4 125.9 346.7 126.9 354.9 127.8 363.2 128.8 371.4 129.7 379.6 130.7 387.9 131.7 396.1 132.7 404.4 133.7 412.6 134.7 420.8 135.8 429.1 136.8 437.3 137.9 445.6 139 453.8 140.1 462 141.2 470.3 142.4 478.5 143.5 486.8 144.7 495 145.8M96.1 100.2 104.4 100.8 112.6 101.3 120.9 101.9 129.1 102.5 137.3 103.2 145.6 103.8 153.8 104.4 162.1 105.1 170.3 105.8 178.5 106.5 186.8 107.2 195 107.9 203.2 108.6 211.5 109.4 219.7 110.1 228 110.9 236.2 111.7 244.4 112.5 252.7 113.3 260.9 114.1 269.2 115 277.4 115.8 285.6 116.7 293.9 117.6 302.1 118.5 310.4 119.4 318.6 120.3 326.8 121.3 335.1 122.3 343.3 123.2 351.6 124.2 359.8 125.2 368 126.3 376.3 127.3 384.5 128.4 392.8 129.4 401 130.5 409.2 131.6 417.5 132.7 425.7 133.9 434 135 442.2 136.2 450.4 137.4 458.7 138.6 466.9 139.8 475.2 141 483.4 142.3 491.6 143.5M92.8 95.9 101 96.4 109.3 97 117.5 97.6 125.7 98.2 134 98.8 142.2 99.5 150.5 100.1 158.7 100.8 166.9 101.5 175.2 102.2 183.4 102.9 191.7 103.6 199.9 104.4 208.1 105.1 216.4 105.9 224.6 106.7 232.9 107.5 241.1 108.4 249.3 109.2 257.6 110.1 265.8 111 274 111.9 282.3 112.8 290.5 113.7 298.8 114.7 307 115.6 315.2 116.6 323.5 117.6 331.7 118.6 340 119.6 348.2 120.7 356.4 121.8 364.7 122.9 372.9 124 381.2 125.1 389.4 126.2 397.6 127.4 405.9 128.6 414.1 129.8 422.4 131 430.6 132.2 438.8 133.4 447.1 134.7 455.3 136 463.6 137.3 471.8 138.6 480 140 488.3 141.3M89.4 91.6 97.7 92.1 105.9 92.7 114.1 93.3 122.4 93.9 130.6 94.5 138.9 95.2 147.1 95.9 155.3 96.5 163.6 97.2 171.8 97.9 180.1 98.7 188.3 99.4 196.5 100.2 204.8 101 213 101.8 221.3 102.6 229.5 103.5 237.7 104.3 246 105.2 254.2 106.1 262.5 107 270.7 107.9 278.9 108.9 287.2 109.9 295.4 110.9 303.7 111.9 311.9 112.9 320.1 114 328.4 115 336.6 116.1 344.9 117.2 353.1 118.4 361.3 119.5 369.6 120.7 377.8 121.9 386 123.1 394.3 124.3 402.5 125.6 410.8 126.8 419 128.1 427.2 129.4 435.5 130.8 443.7 132.1 452 133.5 460.2 134.9 468.4 136.3 476.7 137.7 484.9 139.2M86.1 87.4 94.3 87.9 102.5 88.5 110.8 89.1 119 89.7 127.3 90.3 135.5 91 143.7 91.6 152 92.3 160.2 93 168.5 93.8 176.7 94.5 184.9 95.3 193.2 96.1 201.4 96.9 209.7 97.7 217.9 98.6 226.1 99.4 234.4 100.3 242.6 101.2 250.9 102.2 259.1 103.1 267.3 104.1 275.6 105.1 283.8 106.1 292.1 107.2 300.3 108.2 308.5 109.3 316.8 110.4 325 111.5 333.3 112.7 341.5 113.8 349.7 115 358 116.2 366.2 117.5 374.5 118.7 382.7 120 390.9 121.3 399.2 122.6 407.4 124 415.7 125.4 423.9 126.7 432.1 128.2 440.4 129.6 448.6 131.1 456.8 132.5 465.1 134 473.3 135.6 481.6 137.1M82.7 83.2 91 83.7 99.2 84.3 107.4 84.9 115.7 85.5 123.9 86.1 132.1 86.8 140.4 87.5 148.6 88.2 156.9 88.9 165.1 89.6 173.3 90.4 181.6 91.2 189.8 92 198.1 92.8 206.3 93.7 214.5 94.6 222.8 95.5 231 96.4 239.3 97.3 247.5 98.3 255.7 99.3 264 100.3 272.2 101.4 280.5 102.4 288.7 103.5 296.9 104.6 305.2 105.7 313.4 106.9 321.7 108.1 329.9 109.3 338.1 110.5 346.4 111.8 354.6 113 362.9 114.3 371.1 115.7 379.3 117 387.6 118.4 395.8 119.8 404.1 121.2 412.3 122.7 420.5 124.1 428.8 125.6 437 127.1 445.3 128.7 453.5 130.3 461.7 131.9 470 133.5 478.2 135.1M79.4 79.1 87.6 79.6 95.8 80.2 104.1 80.7 112.3 81.4 120.6 82 128.8 82.7 137 83.3 145.3 84.1 153.5 84.8 161.8 85.5 170 86.3 178.2 87.1 186.5 88 194.7 88.8 202.9 89.7 211.2 90.6 219.4 91.5 227.7 92.5 235.9 93.5 244.1 94.5 252.4 95.5 260.6 96.6 268.9 97.7 277.1 98.8 285.3 99.9 293.6 101.1 301.8 102.2 310.1 103.5 318.3 104.7 326.5 106 334.8 107.2 343 108.6 351.3 109.9 359.5 111.3 367.7 112.7 376 114.1 384.2 115.5 392.5 117 400.7 118.5 408.9 120 417.2 121.6 425.4 123.2 433.7 124.8 441.9 126.4 450.1 128.1 458.4 129.7 466.6 131.5 474.9 133.2M76 75 84.2 75.5 92.5 76.1 100.7 76.7 109 77.3 117.2 77.9 125.4 78.6 133.7 79.3 141.9 80 150.2 80.8 158.4 81.5 166.6 82.3 174.9 83.2 183.1 84 191.4 84.9 199.6 85.8 207.8 86.7 216.1 87.7 224.3 88.7 232.6 89.7 240.8 90.7 249 91.8 257.3 92.9 265.5 94 273.8 95.2 282 96.4 290.2 97.6 298.5 98.8 306.7 100.1 314.9 101.4 323.2 102.7 331.4 104 339.7 105.4 347.9 106.8 356.1 108.3 364.4 109.7 372.6 111.2 380.9 112.7 389.1 114.3 397.3 115.9 405.6 117.5 413.8 119.1 422.1 120.8 430.3 122.4 438.5 124.2 446.8 125.9 455 127.7 463.3 129.5 471.5 131.4" fill="none" stroke="#000" stroke-opacity="0.45" stroke-width="0.5"/><g fill="#000"><circle cx="141.8" cy="69.6" r="2.3"/><circle cx="194.4" cy="74.5" r="2.3"/><circle cx="212.9" cy="81.4" r="2.3"/><circle cx="248.6" cy="91.6" r="2.3"/><circle cx="242.2" cy="111.5" r="2.3"/><circle cx="223.6" cy="119.6" r="2.3"/><circle cx="316.9" cy="92" r="2.3"/><circle cx="327.7" cy="98.3" r="2.3"/><circle cx="425.1" cy="115.3" r="2.3"/><circle cx="357.1" cy="130" r="2.3"/><circle cx="454.2" cy="141.1" r="2.3"/><circle cx="199.8" cy="154.7" r="2.3"/><circle cx="252.5" cy="147" r="2.3"/><circle cx="271.5" cy="159.6" r="2.3"/><circle cx="229.2" cy="189.9" r="2.3"/><circle cx="281.8" cy="188.7" r="2.3"/><circle cx="300.6" cy="202.5" r="2.3"/><circle cx="258.3" cy="247.7" r="2.3"/><circle cx="310.7" cy="237.7" r="2.3"/><circle cx="329.3" cy="251.3" r="2.3"/><circle cx="365" cy="246.3" r="2.3"/><circle cx="404.3" cy="249" r="2.3"/><circle cx="433" cy="249.3" r="2.3"/><circle cx="444" cy="248.3" r="2.3"/><circle cx="467" cy="245.7" r="2.3"/><circle cx="287.7" cy="285.5" r="2.3"/><circle cx="315.3" cy="290.9" r="2.3"/><circle cx="339.9" cy="285.7" r="2.3"/><circle cx="358.9" cy="294.1" r="2.3"/><circle cx="394.4" cy="286.2" r="2.3"/><circle cx="433.9" cy="290" r="2.3"/><circle cx="462.7" cy="284.4" r="2.3"/><circle cx="473.8" cy="279.3" r="2.3"/><circle cx="496.3" cy="284.4" r="2.3"/><circle cx="570.6" cy="278.2" r="2.3"/><circle cx="316.7" cy="380.6" r="2.3"/><circle cx="344.4" cy="376.5" r="2.3"/><circle cx="369" cy="372.7" r="2.3"/><circle cx="388" cy="369.9" r="2.3"/><circle cx="423.5" cy="364.8" r="2.3"/><circle cx="463.1" cy="358.5" r="2.3"/><circle cx="491.9" cy="354.2" r="2.3"/><circle cx="502.6" cy="352.5" r="2.3"/><circle cx="525.7" cy="349.1" r="2.3"/><circle cx="599.8" cy="338.1" r="2.3"/><circle cx="483.8" cy="172.3" r="1.3"/><circle cx="404.8" cy="207.1" r="1.6"/><circle cx="415.6" cy="207.1" r="2.0"/></g><g fill="#262626"><text x="263.1" y="413.6" text-anchor="start" font-size="14">380</text><text x="342.2" y="401.6" text-anchor="start" font-size="14">460</text><text x="421.3" y="389.7" text-anchor="start" font-size="14">540</text><text x="500.4" y="377.7" text-anchor="start" font-size="14">620</text><text x="579.5" y="365.8" text-anchor="start" font-size="14">700</text><text x="658.6" y="353.8" text-anchor="start" font-size="14">780</text><text x="235.1" y="406.3" text-anchor="end" font-size="14">0</text><text x="206" y="383.7" text-anchor="end" font-size="14">2400</text><text x="176.9" y="361.1" text-anchor="end" font-size="14">4800</text><text x="147.8" y="338.6" text-anchor="end" font-size="14">7200</text><text x="118.8" y="316" text-anchor="end" font-size="14">9600</text><text x="89.7" y="293.4" text-anchor="end" font-size="14">12000</text><text x="60.6" y="270.8" text-anchor="end" font-size="14">14400</text><text x="62.6" y="251.6" text-anchor="end" font-size="14">0</text><text x="62.6" y="215.6" text-anchor="end" font-size="14">0.5</text><text x="62.6" y="179.7" text-anchor="end" font-size="14">1</text><text x="62.6" y="143.7" text-anchor="end" font-size="14">1.5</text><text x="62.6" y="107.7" text-anchor="end" font-size="14">2</text><text x="62.6" y="71.7" text-anchor="end" font-size="14">2.5</text></g><g fill="#262626"><text x="464.5" y="412.8" text-anchor="start" font-size="16">Wavelength(&#955;)</text><text x="47.2" y="399.1" text-anchor="start" font-size="15.7">Exposure(Wh/m^2)</text><text x="0" y="0" text-anchor="middle" font-size="16" transform="translate(14.4 138) rotate(-90)">Color difference</text></g><defs><linearGradient id="cbg" x1="0" y1="0" x2="0" y2="1"><stop offset="0.0000" stop-color="#f9fb15"/><stop offset="0.0157" stop-color="#f7f51b"/><stop offset="0.0314" stop-color="#f6ef20"/><stop offset="0.0471" stop-color="#f5e924"/><stop offset="0.0627" stop-color="#f5e327"/><stop offset="0.0784" stop-color="#f7dd2a"/><stop offset="0.0941" stop-color="#f9d62d"/><stop offset="0.1098" stop-color="#fcd030"/><stop offset="0.1255" stop-color="#feca33"/><stop offset="0.1412" stop-color="#fec438"/><stop offset="0.1569" stop-color="#febe3c"/><stop offset="0.1725" stop-color="#f9ba3e"/><stop offset="0.1882" stop-color="#f1ba37"/><stop offset="0.2039" stop-color="#e8bb2e"/><stop offset="0.2196" stop-color="#debc29"/><stop offset="0.2353" stop-color="#d3bf27"/><stop offset="0.2510" stop-color="#c8c129"/><stop offset="0.2667" stop-color="#bbc42f"/><stop offset="0.2824" stop-color="#aec637"/><stop offset="0.2980" stop-color="#a1c840"/><stop offset="0.3137" stop-color="#93ca4b"/><stop offset="0.3294" stop-color="#84cc56"/><stop offset="0.3451" stop-color="#76cc61"/><stop offset="0.3608" stop-color="#67cd6c"/><stop offset="0.3765" stop-color="#5acc77"/><stop offset="0.3922" stop-color="#4ecc81"/><stop offset="0.4078" stop-color="#42ca8b"/><stop offset="0.4235" stop-color="#39c994"/><stop offset="0.4392" stop-color="#33c79d"/><stop offset="0.4549" stop-color="#2ec4a5"/><stop offset="0.4706" stop-color="#27c2ac"/><stop offset="0.4863" stop-color="#1dc0b3"/><stop offset="0.5020" stop-color="#10beba"/><stop offset="0.5176" stop-color="#04bbc1"/><stop offset="0.5333" stop-color="#00b9c7"/><stop offset="0.5490" stop-color="#04b6ce"/><stop offset="0.5647" stop-color="#0eb3d4"/><stop offset="0.5804" stop-color="#16afd9"/><stop offset="0.5961" stop-color="#1babde"/><stop offset="0.6118" stop-color="#1ea7e1"/><stop offset="0.6275" stop-color="#22a2e4"/><stop offset="0.6431" stop-color="#249ee6"/><stop offset="0.6588" stop-color="#2699e9"/><stop offset="0.6745" stop-color="#2994ed"/><stop offset="0.6902" stop-color="#2c8ff1"/><stop offset="0.7059" stop-color="#2d8af5"/><stop offset="0.7216" stop-color="#2e84f8"/><stop offset="0.7373" stop-color="#307ffb"/><stop offset="0.7529" stop-color="#3579fd"/><stop offset="0.7686" stop-color="#3b73ff"/><stop offset="0.7843" stop-color="#406dfe"/><stop offset="0.8000" stop-color="#4367fd"/><stop offset="0.8157" stop-color="#4661fc"/><stop offset="0.8314" stop-color="#475bfa"/><stop offset="0.8471" stop-color="#4756f7"/><stop offset="0.8627" stop-color="#4850f3"/><stop offset="0.8784" stop-color="#484bee"/><stop offset="0.8941" stop-color="#4745e9"/><stop offset="0.9098" stop-color="#473fe3"/><stop offset="0.9255" stop-color="#463adc"/><stop offset="0.9412" stop-color="#4535d2"/><stop offset="0.9569" stop-color="#4331c8"/><stop offset="0.9725" stop-color="#412dbd"/><stop offset="0.9882" stop-color="#3f29b2"/><stop offset="1.0000" stop-color="#3e26a8"/></linearGradient></defs><rect x="708.5" y="6.4" width="16.2" height="376" fill="url(#cbg)" stroke="#262626" stroke-width="0.6"/><line x1="720.7" y1="312.1" x2="724.7" y2="312.1" stroke="#262626" stroke-width="0.8"/><line x1="720.7" y1="236.2" x2="724.7" y2="236.2" stroke="#262626" stroke-width="0.8"/><line x1="720.7" y1="160.2" x2="724.7" y2="160.2" stroke="#262626" stroke-width="0.8"/><line x1="720.7" y1="84.2" x2="724.7" y2="84.2" stroke="#262626" stroke-width="0.8"/><line x1="720.7" y1="8.3" x2="724.7" y2="8.3" stroke="#262626" stroke-width="0.8"/><g fill="#262626"><text x="729.7" y="316" text-anchor="start" font-size="13.2">0.5</text><text x="729.7" y="240.1" text-anchor="start" font-size="13.2">1</text><text x="729.7" y="164.1" text-anchor="start" font-size="13.2">1.5</text><text x="729.7" y="88.2" text-anchor="start" font-size="13.2">2</text><text x="729.7" y="12.2" text-anchor="start" font-size="13.2">2.5</text></g></svg></body></html>
